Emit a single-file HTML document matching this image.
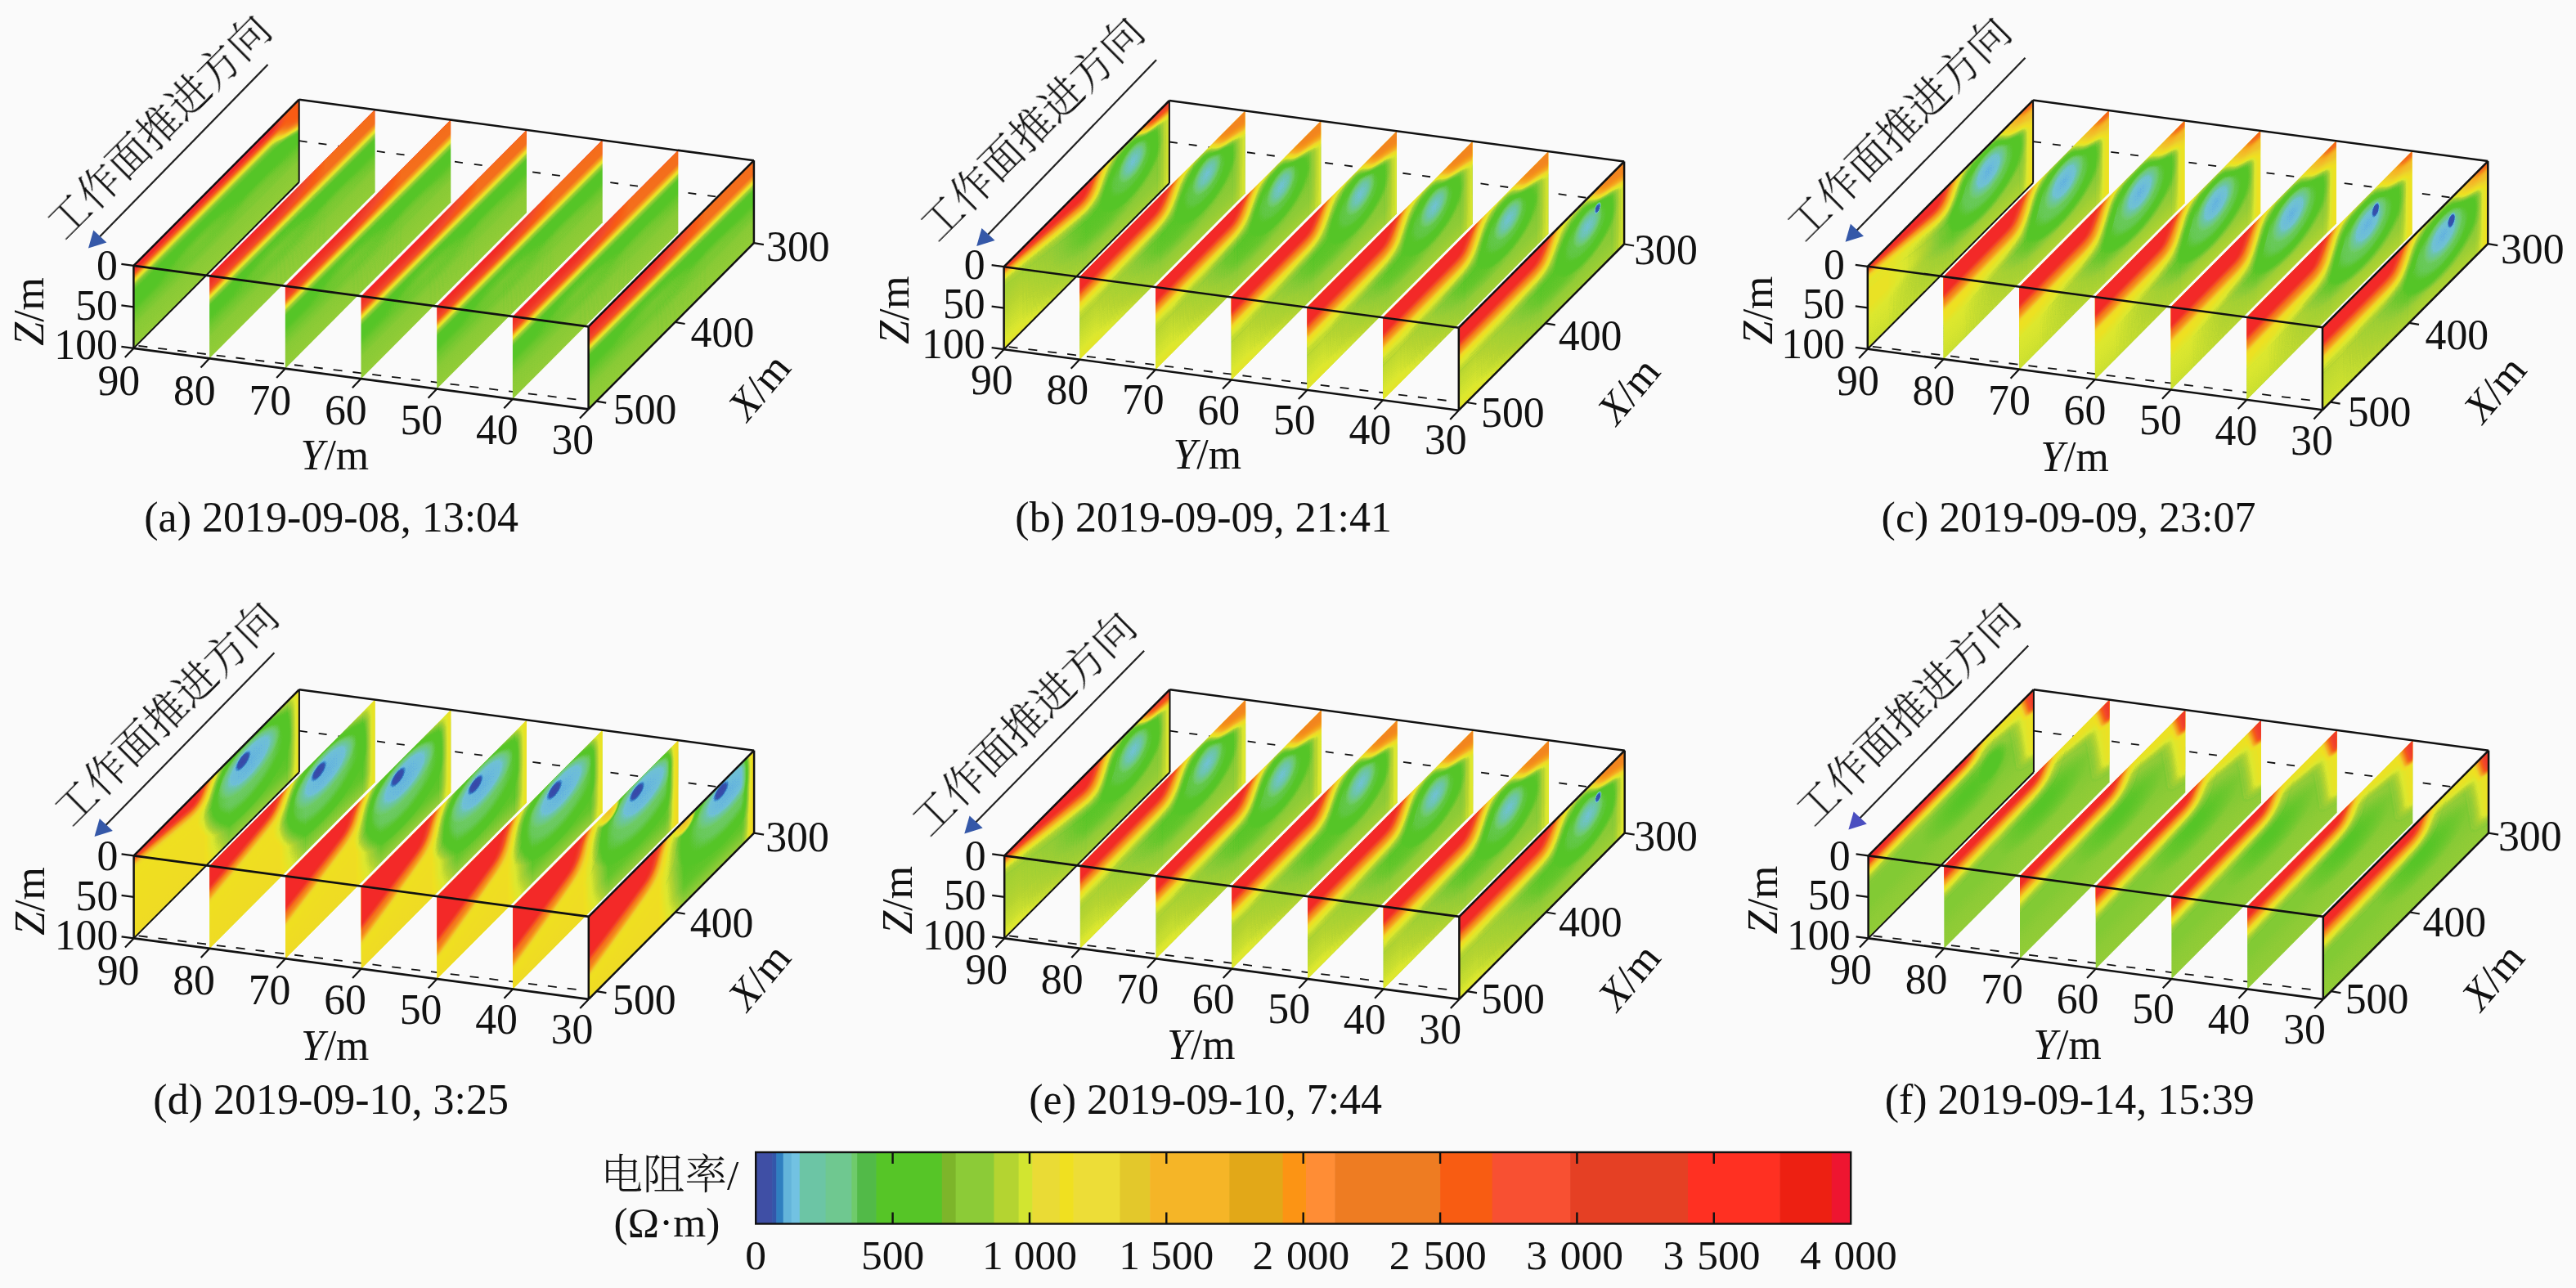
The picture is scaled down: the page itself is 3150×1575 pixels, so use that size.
<!DOCTYPE html>
<html lang="zh"><head><meta charset="utf-8"><title>电阻率三维切片图</title>
<style>
html,body{margin:0;padding:0;background:#fafafa;}
body{width:3150px;height:1575px;overflow:hidden;}
svg{display:block;font-family:"Liberation Serif","Noto Serif CJK SC",serif;fill:#111;}
</style></head><body>
<svg width="3150" height="1575" viewBox="0 0 3150 1575">
<defs>
<filter id="cm" color-interpolation-filters="sRGB" filterUnits="userSpaceOnUse" x="0" y="0" width="3150" height="1575"><feComponentTransfer><feFuncR type="table" tableValues="0.220 0.210 0.200 0.206 0.280 0.391 0.443 0.433 0.424 0.426 0.428 0.430 0.433 0.435 0.421 0.404 0.386 0.369 0.351 0.337 0.337 0.337 0.337 0.337 0.337 0.344 0.377 0.410 0.443 0.476 0.509 0.542 0.575 0.608 0.641 0.673 0.706 0.745 0.784 0.824 0.863 0.876 0.889 0.902 0.915 0.928 0.941 0.940 0.938 0.937 0.935 0.934 0.932 0.931 0.929 0.933 0.937 0.941 0.945 0.949 0.953 0.957 0.961 0.961 0.961 0.961 0.961 0.961 0.961 0.961 0.961 0.961 0.961 0.961 0.961 0.961 0.961 0.960 0.959 0.958 0.957 0.956 0.955 0.954 0.953 0.952 0.951 0.950 0.949 0.950 0.952 0.953 0.955 0.956 0.958 0.959 0.961 0.962 0.964 0.965 0.967 0.968 0.970 0.971 0.973 0.971 0.970 0.968 0.967 0.965 0.964 0.962 0.961 0.959 0.958 0.956 0.955 0.953 0.952 0.950 0.949 0.949 0.948 0.948 0.947 0.947 0.946 0.946 0.945 0.945 0.944 0.944 0.943 0.943 0.942 0.942 0.941 0.942 0.942 0.943 0.943 0.944 0.945 0.945 0.946 0.946 0.947 0.947 0.948 0.948 0.949 0.952 0.955 0.958 0.962 0.965 0.968 0.971 0.974 0.977 0.980"/><feFuncG type="table" tableValues="0.282 0.314 0.345 0.471 0.590 0.700 0.763 0.768 0.773 0.777 0.782 0.786 0.791 0.795 0.793 0.789 0.784 0.780 0.776 0.773 0.773 0.773 0.773 0.773 0.773 0.773 0.777 0.781 0.784 0.788 0.792 0.795 0.802 0.809 0.817 0.824 0.831 0.851 0.871 0.890 0.910 0.905 0.899 0.894 0.889 0.884 0.878 0.873 0.867 0.861 0.855 0.849 0.843 0.837 0.831 0.816 0.801 0.786 0.771 0.755 0.740 0.725 0.710 0.702 0.695 0.687 0.680 0.672 0.664 0.657 0.649 0.642 0.634 0.627 0.619 0.611 0.604 0.594 0.584 0.575 0.565 0.555 0.545 0.535 0.525 0.516 0.506 0.496 0.486 0.478 0.471 0.463 0.455 0.447 0.439 0.431 0.424 0.416 0.408 0.400 0.392 0.384 0.376 0.369 0.361 0.356 0.352 0.348 0.343 0.339 0.334 0.330 0.325 0.321 0.317 0.312 0.308 0.303 0.299 0.295 0.290 0.286 0.282 0.278 0.275 0.271 0.267 0.263 0.259 0.255 0.251 0.247 0.243 0.239 0.235 0.231 0.227 0.224 0.220 0.216 0.212 0.208 0.204 0.200 0.196 0.192 0.188 0.184 0.180 0.176 0.173 0.168 0.163 0.158 0.154 0.149 0.144 0.140 0.135 0.130 0.125"/><feFuncB type="table" tableValues="0.659 0.675 0.690 0.757 0.824 0.872 0.848 0.754 0.659 0.613 0.567 0.521 0.475 0.429 0.382 0.334 0.286 0.239 0.191 0.153 0.153 0.153 0.153 0.153 0.153 0.155 0.165 0.175 0.184 0.194 0.204 0.214 0.212 0.207 0.202 0.197 0.192 0.190 0.188 0.186 0.184 0.175 0.165 0.155 0.145 0.135 0.125 0.131 0.136 0.142 0.147 0.152 0.158 0.163 0.169 0.167 0.165 0.163 0.161 0.159 0.157 0.155 0.153 0.149 0.145 0.140 0.136 0.132 0.128 0.124 0.119 0.115 0.111 0.107 0.103 0.098 0.094 0.097 0.101 0.104 0.107 0.110 0.114 0.117 0.120 0.124 0.127 0.130 0.133 0.130 0.126 0.123 0.120 0.116 0.113 0.109 0.106 0.102 0.099 0.096 0.092 0.089 0.085 0.082 0.078 0.084 0.090 0.096 0.102 0.108 0.114 0.120 0.125 0.131 0.137 0.143 0.149 0.155 0.161 0.167 0.173 0.172 0.171 0.170 0.169 0.168 0.167 0.166 0.165 0.164 0.163 0.162 0.161 0.160 0.159 0.158 0.157 0.155 0.154 0.152 0.150 0.148 0.147 0.145 0.143 0.142 0.140 0.138 0.137 0.135 0.133 0.148 0.163 0.178 0.193 0.208 0.223 0.238 0.253 0.267 0.282"/></feComponentTransfer></filter>
<filter id="bl" filterUnits="userSpaceOnUse" x="-60" y="-60" width="240" height="240"><feGaussianBlur stdDeviation="2 2.5"/></filter><filter id="bl4" filterUnits="userSpaceOnUse" x="-60" y="-60" width="240" height="240"><feGaussianBlur stdDeviation="3 4"/></filter><filter id="bl6" filterUnits="userSpaceOnUse" x="-60" y="-60" width="240" height="240"><feGaussianBlur stdDeviation="4 6"/></filter>
<linearGradient id="hL" x1="0" x2="1" y1="0" y2="0"><stop offset="0" stop-color="#fff"/><stop offset="1" stop-color="#000"/></linearGradient><linearGradient id="hR" x1="0" x2="1" y1="0" y2="0"><stop offset="0" stop-color="#000"/><stop offset="1" stop-color="#fff"/></linearGradient><mask id="mL" maskContentUnits="objectBoundingBox"><rect width="1" height="1" fill="url(#hL)"/></mask><mask id="mR" maskContentUnits="objectBoundingBox"><rect width="1" height="1" fill="url(#hR)"/></mask>
<clipPath id="cs"><rect x="0" y="0" width="100" height="100"/></clipPath>
<linearGradient id="v1" x1="0" y1="0" x2="0" y2="1"><stop offset="0.045" stop-color="#ffffff"/><stop offset="0.100" stop-color="#ececec"/><stop offset="0.145" stop-color="#a6a6a6"/><stop offset="0.191" stop-color="#606060"/><stop offset="0.227" stop-color="#404040"/><stop offset="0.273" stop-color="#2f2f2f"/><stop offset="0.345" stop-color="#252525"/><stop offset="0.455" stop-color="#252525"/><stop offset="0.591" stop-color="#2c2c2c"/><stop offset="0.727" stop-color="#313131"/><stop offset="0.955" stop-color="#333333"/></linearGradient>
<radialGradient id="r2"><stop offset="0" stop-color="#313131" stop-opacity="0.70"/><stop offset="0.50" stop-color="#313131" stop-opacity="0.42"/><stop offset="1" stop-color="#313131" stop-opacity="0"/></radialGradient>
<radialGradient id="r3"><stop offset="0" stop-color="#303030" stop-opacity="0.60"/><stop offset="0.50" stop-color="#303030" stop-opacity="0.36"/><stop offset="1" stop-color="#303030" stop-opacity="0"/></radialGradient>
<linearGradient id="v4" x1="0" y1="0" x2="0" y2="1"><stop offset="0.045" stop-color="#f9f9f9"/><stop offset="0.136" stop-color="#dfdfdf"/><stop offset="0.191" stop-color="#bfbfbf"/><stop offset="0.236" stop-color="#808080"/><stop offset="0.277" stop-color="#494949"/><stop offset="0.318" stop-color="#363636"/><stop offset="0.373" stop-color="#282828"/><stop offset="0.455" stop-color="#252525"/><stop offset="0.591" stop-color="#2c2c2c"/><stop offset="0.727" stop-color="#313131"/><stop offset="0.955" stop-color="#333333"/></linearGradient>
<linearGradient id="v5" x1="0" y1="0" x2="0" y2="1"><stop offset="0.045" stop-color="#999999"/><stop offset="0.191" stop-color="#969696"/><stop offset="0.236" stop-color="#737373"/><stop offset="0.277" stop-color="#494949"/><stop offset="0.318" stop-color="#363636"/><stop offset="0.373" stop-color="#282828"/><stop offset="0.455" stop-color="#252525"/><stop offset="0.591" stop-color="#2c2c2c"/><stop offset="0.727" stop-color="#313131"/><stop offset="0.955" stop-color="#333333"/></linearGradient>
<linearGradient id="v6" x1="0" y1="0" x2="0" y2="1"><stop offset="0.045" stop-color="#999999"/><stop offset="0.191" stop-color="#969696"/><stop offset="0.236" stop-color="#737373"/><stop offset="0.277" stop-color="#494949"/><stop offset="0.318" stop-color="#363636"/><stop offset="0.373" stop-color="#282828"/><stop offset="0.455" stop-color="#252525"/><stop offset="0.591" stop-color="#2c2c2c"/><stop offset="0.727" stop-color="#313131"/><stop offset="0.955" stop-color="#333333"/></linearGradient>
<radialGradient id="r7"><stop offset="0" stop-color="#313131" stop-opacity="0.70"/><stop offset="0.50" stop-color="#313131" stop-opacity="0.42"/><stop offset="1" stop-color="#313131" stop-opacity="0"/></radialGradient>
<radialGradient id="r8"><stop offset="0" stop-color="#303030" stop-opacity="0.60"/><stop offset="0.50" stop-color="#303030" stop-opacity="0.36"/><stop offset="1" stop-color="#303030" stop-opacity="0"/></radialGradient>
<linearGradient id="v9" x1="0" y1="0" x2="0" y2="1"><stop offset="0.045" stop-color="#f9f9f9"/><stop offset="0.136" stop-color="#dfdfdf"/><stop offset="0.191" stop-color="#bfbfbf"/><stop offset="0.236" stop-color="#808080"/><stop offset="0.277" stop-color="#494949"/><stop offset="0.318" stop-color="#363636"/><stop offset="0.373" stop-color="#282828"/><stop offset="0.455" stop-color="#252525"/><stop offset="0.591" stop-color="#2c2c2c"/><stop offset="0.727" stop-color="#313131"/><stop offset="0.955" stop-color="#333333"/></linearGradient>
<linearGradient id="v10" x1="0" y1="0" x2="0" y2="1"><stop offset="0.045" stop-color="#999999"/><stop offset="0.191" stop-color="#969696"/><stop offset="0.236" stop-color="#737373"/><stop offset="0.277" stop-color="#494949"/><stop offset="0.318" stop-color="#363636"/><stop offset="0.373" stop-color="#282828"/><stop offset="0.455" stop-color="#252525"/><stop offset="0.591" stop-color="#2c2c2c"/><stop offset="0.727" stop-color="#313131"/><stop offset="0.955" stop-color="#333333"/></linearGradient>
<linearGradient id="v11" x1="0" y1="0" x2="0" y2="1"><stop offset="0.045" stop-color="#999999"/><stop offset="0.191" stop-color="#969696"/><stop offset="0.236" stop-color="#737373"/><stop offset="0.277" stop-color="#494949"/><stop offset="0.318" stop-color="#363636"/><stop offset="0.373" stop-color="#282828"/><stop offset="0.455" stop-color="#252525"/><stop offset="0.591" stop-color="#2c2c2c"/><stop offset="0.727" stop-color="#313131"/><stop offset="0.955" stop-color="#333333"/></linearGradient>
<radialGradient id="r12"><stop offset="0" stop-color="#313131" stop-opacity="0.70"/><stop offset="0.50" stop-color="#313131" stop-opacity="0.42"/><stop offset="1" stop-color="#313131" stop-opacity="0"/></radialGradient>
<radialGradient id="r13"><stop offset="0" stop-color="#303030" stop-opacity="0.60"/><stop offset="0.50" stop-color="#303030" stop-opacity="0.36"/><stop offset="1" stop-color="#303030" stop-opacity="0"/></radialGradient>
<linearGradient id="v14" x1="0" y1="0" x2="0" y2="1"><stop offset="0.045" stop-color="#f9f9f9"/><stop offset="0.136" stop-color="#dfdfdf"/><stop offset="0.191" stop-color="#bfbfbf"/><stop offset="0.236" stop-color="#808080"/><stop offset="0.277" stop-color="#494949"/><stop offset="0.318" stop-color="#363636"/><stop offset="0.373" stop-color="#282828"/><stop offset="0.455" stop-color="#252525"/><stop offset="0.591" stop-color="#2c2c2c"/><stop offset="0.727" stop-color="#313131"/><stop offset="0.955" stop-color="#333333"/></linearGradient>
<linearGradient id="v15" x1="0" y1="0" x2="0" y2="1"><stop offset="0.045" stop-color="#999999"/><stop offset="0.191" stop-color="#969696"/><stop offset="0.236" stop-color="#737373"/><stop offset="0.277" stop-color="#494949"/><stop offset="0.318" stop-color="#363636"/><stop offset="0.373" stop-color="#282828"/><stop offset="0.455" stop-color="#252525"/><stop offset="0.591" stop-color="#2c2c2c"/><stop offset="0.727" stop-color="#313131"/><stop offset="0.955" stop-color="#333333"/></linearGradient>
<linearGradient id="v16" x1="0" y1="0" x2="0" y2="1"><stop offset="0.045" stop-color="#999999"/><stop offset="0.191" stop-color="#969696"/><stop offset="0.236" stop-color="#737373"/><stop offset="0.277" stop-color="#494949"/><stop offset="0.318" stop-color="#363636"/><stop offset="0.373" stop-color="#282828"/><stop offset="0.455" stop-color="#252525"/><stop offset="0.591" stop-color="#2c2c2c"/><stop offset="0.727" stop-color="#313131"/><stop offset="0.955" stop-color="#333333"/></linearGradient>
<radialGradient id="r17"><stop offset="0" stop-color="#313131" stop-opacity="0.70"/><stop offset="0.50" stop-color="#313131" stop-opacity="0.42"/><stop offset="1" stop-color="#313131" stop-opacity="0"/></radialGradient>
<radialGradient id="r18"><stop offset="0" stop-color="#303030" stop-opacity="0.60"/><stop offset="0.50" stop-color="#303030" stop-opacity="0.36"/><stop offset="1" stop-color="#303030" stop-opacity="0"/></radialGradient>
<linearGradient id="v19" x1="0" y1="0" x2="0" y2="1"><stop offset="0.045" stop-color="#f9f9f9"/><stop offset="0.136" stop-color="#dfdfdf"/><stop offset="0.191" stop-color="#bfbfbf"/><stop offset="0.236" stop-color="#808080"/><stop offset="0.277" stop-color="#494949"/><stop offset="0.318" stop-color="#363636"/><stop offset="0.373" stop-color="#282828"/><stop offset="0.455" stop-color="#252525"/><stop offset="0.591" stop-color="#2c2c2c"/><stop offset="0.727" stop-color="#313131"/><stop offset="0.955" stop-color="#333333"/></linearGradient>
<linearGradient id="v20" x1="0" y1="0" x2="0" y2="1"><stop offset="0.045" stop-color="#999999"/><stop offset="0.191" stop-color="#969696"/><stop offset="0.236" stop-color="#737373"/><stop offset="0.277" stop-color="#494949"/><stop offset="0.318" stop-color="#363636"/><stop offset="0.373" stop-color="#282828"/><stop offset="0.455" stop-color="#252525"/><stop offset="0.591" stop-color="#2c2c2c"/><stop offset="0.727" stop-color="#313131"/><stop offset="0.955" stop-color="#333333"/></linearGradient>
<linearGradient id="v21" x1="0" y1="0" x2="0" y2="1"><stop offset="0.045" stop-color="#999999"/><stop offset="0.191" stop-color="#969696"/><stop offset="0.236" stop-color="#737373"/><stop offset="0.277" stop-color="#494949"/><stop offset="0.318" stop-color="#363636"/><stop offset="0.373" stop-color="#282828"/><stop offset="0.455" stop-color="#252525"/><stop offset="0.591" stop-color="#2c2c2c"/><stop offset="0.727" stop-color="#313131"/><stop offset="0.955" stop-color="#333333"/></linearGradient>
<radialGradient id="r22"><stop offset="0" stop-color="#313131" stop-opacity="0.70"/><stop offset="0.50" stop-color="#313131" stop-opacity="0.42"/><stop offset="1" stop-color="#313131" stop-opacity="0"/></radialGradient>
<radialGradient id="r23"><stop offset="0" stop-color="#303030" stop-opacity="0.60"/><stop offset="0.50" stop-color="#303030" stop-opacity="0.36"/><stop offset="1" stop-color="#303030" stop-opacity="0"/></radialGradient>
<linearGradient id="v24" x1="0" y1="0" x2="0" y2="1"><stop offset="0.045" stop-color="#f9f9f9"/><stop offset="0.136" stop-color="#dfdfdf"/><stop offset="0.191" stop-color="#bfbfbf"/><stop offset="0.236" stop-color="#808080"/><stop offset="0.277" stop-color="#494949"/><stop offset="0.318" stop-color="#363636"/><stop offset="0.373" stop-color="#282828"/><stop offset="0.455" stop-color="#252525"/><stop offset="0.591" stop-color="#2c2c2c"/><stop offset="0.727" stop-color="#313131"/><stop offset="0.955" stop-color="#333333"/></linearGradient>
<linearGradient id="v25" x1="0" y1="0" x2="0" y2="1"><stop offset="0.045" stop-color="#999999"/><stop offset="0.191" stop-color="#969696"/><stop offset="0.236" stop-color="#737373"/><stop offset="0.277" stop-color="#494949"/><stop offset="0.318" stop-color="#363636"/><stop offset="0.373" stop-color="#282828"/><stop offset="0.455" stop-color="#252525"/><stop offset="0.591" stop-color="#2c2c2c"/><stop offset="0.727" stop-color="#313131"/><stop offset="0.955" stop-color="#333333"/></linearGradient>
<linearGradient id="v26" x1="0" y1="0" x2="0" y2="1"><stop offset="0.045" stop-color="#999999"/><stop offset="0.191" stop-color="#969696"/><stop offset="0.236" stop-color="#737373"/><stop offset="0.277" stop-color="#494949"/><stop offset="0.318" stop-color="#363636"/><stop offset="0.373" stop-color="#282828"/><stop offset="0.455" stop-color="#252525"/><stop offset="0.591" stop-color="#2c2c2c"/><stop offset="0.727" stop-color="#313131"/><stop offset="0.955" stop-color="#333333"/></linearGradient>
<radialGradient id="r27"><stop offset="0" stop-color="#313131" stop-opacity="0.70"/><stop offset="0.50" stop-color="#313131" stop-opacity="0.42"/><stop offset="1" stop-color="#313131" stop-opacity="0"/></radialGradient>
<radialGradient id="r28"><stop offset="0" stop-color="#303030" stop-opacity="0.60"/><stop offset="0.50" stop-color="#303030" stop-opacity="0.36"/><stop offset="1" stop-color="#303030" stop-opacity="0"/></radialGradient>
<linearGradient id="v29" x1="0" y1="0" x2="0" y2="1"><stop offset="0.045" stop-color="#f9f9f9"/><stop offset="0.136" stop-color="#dfdfdf"/><stop offset="0.191" stop-color="#bfbfbf"/><stop offset="0.236" stop-color="#808080"/><stop offset="0.277" stop-color="#494949"/><stop offset="0.318" stop-color="#363636"/><stop offset="0.373" stop-color="#282828"/><stop offset="0.455" stop-color="#252525"/><stop offset="0.591" stop-color="#2c2c2c"/><stop offset="0.727" stop-color="#313131"/><stop offset="0.955" stop-color="#333333"/></linearGradient>
<linearGradient id="v30" x1="0" y1="0" x2="0" y2="1"><stop offset="0.045" stop-color="#999999"/><stop offset="0.191" stop-color="#969696"/><stop offset="0.236" stop-color="#737373"/><stop offset="0.277" stop-color="#494949"/><stop offset="0.318" stop-color="#363636"/><stop offset="0.373" stop-color="#282828"/><stop offset="0.455" stop-color="#252525"/><stop offset="0.591" stop-color="#2c2c2c"/><stop offset="0.727" stop-color="#313131"/><stop offset="0.955" stop-color="#333333"/></linearGradient>
<linearGradient id="v31" x1="0" y1="0" x2="0" y2="1"><stop offset="0.045" stop-color="#999999"/><stop offset="0.191" stop-color="#969696"/><stop offset="0.236" stop-color="#737373"/><stop offset="0.277" stop-color="#494949"/><stop offset="0.318" stop-color="#363636"/><stop offset="0.373" stop-color="#282828"/><stop offset="0.455" stop-color="#252525"/><stop offset="0.591" stop-color="#2c2c2c"/><stop offset="0.727" stop-color="#313131"/><stop offset="0.955" stop-color="#333333"/></linearGradient>
<radialGradient id="r32"><stop offset="0" stop-color="#313131" stop-opacity="0.70"/><stop offset="0.50" stop-color="#313131" stop-opacity="0.42"/><stop offset="1" stop-color="#313131" stop-opacity="0"/></radialGradient>
<radialGradient id="r33"><stop offset="0" stop-color="#303030" stop-opacity="0.60"/><stop offset="0.50" stop-color="#303030" stop-opacity="0.36"/><stop offset="1" stop-color="#303030" stop-opacity="0"/></radialGradient>
<linearGradient id="v34" x1="0" y1="0" x2="0" y2="1"><stop offset="0.045" stop-color="#464646"/><stop offset="0.091" stop-color="#383838"/><stop offset="0.182" stop-color="#323232"/><stop offset="0.409" stop-color="#2f2f2f"/><stop offset="0.591" stop-color="#303030"/><stop offset="0.773" stop-color="#323232"/><stop offset="0.955" stop-color="#363636"/></linearGradient>
<radialGradient id="r35"><stop offset="0" stop-color="#242424" stop-opacity="0.70"/><stop offset="0.60" stop-color="#242424" stop-opacity="0.50"/><stop offset="1" stop-color="#242424" stop-opacity="0"/></radialGradient>
<linearGradient id="v36" x1="0" y1="0" x2="0" y2="1"><stop offset="0.045" stop-color="#373737"/><stop offset="0.318" stop-color="#373737"/><stop offset="0.591" stop-color="#3b3b3b"/><stop offset="0.818" stop-color="#3f3f3f"/><stop offset="0.955" stop-color="#444444"/></linearGradient>
<linearGradient id="v37" x1="0" y1="0" x2="0" y2="1"><stop offset="0.045" stop-color="#373737"/><stop offset="0.318" stop-color="#373737"/><stop offset="0.591" stop-color="#3b3b3b"/><stop offset="0.818" stop-color="#3f3f3f"/><stop offset="0.955" stop-color="#444444"/></linearGradient>
<radialGradient id="r38"><stop offset="0" stop-color="#151515" stop-opacity="0.95"/><stop offset="0.55" stop-color="#151515" stop-opacity="0.70"/><stop offset="1" stop-color="#151515" stop-opacity="0"/></radialGradient>
<radialGradient id="r39"><stop offset="0" stop-color="#090909" stop-opacity="0.95"/><stop offset="0.50" stop-color="#090909" stop-opacity="0.75"/><stop offset="1" stop-color="#090909" stop-opacity="0"/></radialGradient>
<linearGradient id="v40" x1="0" y1="0" x2="0" y2="1"><stop offset="0.045" stop-color="#464646"/><stop offset="0.091" stop-color="#383838"/><stop offset="0.182" stop-color="#323232"/><stop offset="0.409" stop-color="#2f2f2f"/><stop offset="0.591" stop-color="#303030"/><stop offset="0.773" stop-color="#323232"/><stop offset="0.955" stop-color="#363636"/></linearGradient>
<radialGradient id="r41"><stop offset="0" stop-color="#242424" stop-opacity="0.70"/><stop offset="0.60" stop-color="#242424" stop-opacity="0.50"/><stop offset="1" stop-color="#242424" stop-opacity="0"/></radialGradient>
<linearGradient id="v42" x1="0" y1="0" x2="0" y2="1"><stop offset="0.045" stop-color="#373737"/><stop offset="0.318" stop-color="#373737"/><stop offset="0.591" stop-color="#3b3b3b"/><stop offset="0.818" stop-color="#3f3f3f"/><stop offset="0.955" stop-color="#444444"/></linearGradient>
<linearGradient id="v43" x1="0" y1="0" x2="0" y2="1"><stop offset="0.045" stop-color="#373737"/><stop offset="0.318" stop-color="#373737"/><stop offset="0.591" stop-color="#3b3b3b"/><stop offset="0.818" stop-color="#3f3f3f"/><stop offset="0.955" stop-color="#444444"/></linearGradient>
<radialGradient id="r44"><stop offset="0" stop-color="#151515" stop-opacity="0.95"/><stop offset="0.55" stop-color="#151515" stop-opacity="0.70"/><stop offset="1" stop-color="#151515" stop-opacity="0"/></radialGradient>
<radialGradient id="r45"><stop offset="0" stop-color="#090909" stop-opacity="0.95"/><stop offset="0.50" stop-color="#090909" stop-opacity="0.75"/><stop offset="1" stop-color="#090909" stop-opacity="0"/></radialGradient>
<linearGradient id="v46" x1="0" y1="0" x2="0" y2="1"><stop offset="0.045" stop-color="#464646"/><stop offset="0.091" stop-color="#383838"/><stop offset="0.182" stop-color="#323232"/><stop offset="0.409" stop-color="#2f2f2f"/><stop offset="0.591" stop-color="#303030"/><stop offset="0.773" stop-color="#323232"/><stop offset="0.955" stop-color="#363636"/></linearGradient>
<radialGradient id="r47"><stop offset="0" stop-color="#242424" stop-opacity="0.70"/><stop offset="0.60" stop-color="#242424" stop-opacity="0.50"/><stop offset="1" stop-color="#242424" stop-opacity="0"/></radialGradient>
<linearGradient id="v48" x1="0" y1="0" x2="0" y2="1"><stop offset="0.045" stop-color="#373737"/><stop offset="0.318" stop-color="#373737"/><stop offset="0.591" stop-color="#3b3b3b"/><stop offset="0.818" stop-color="#3f3f3f"/><stop offset="0.955" stop-color="#444444"/></linearGradient>
<linearGradient id="v49" x1="0" y1="0" x2="0" y2="1"><stop offset="0.045" stop-color="#373737"/><stop offset="0.318" stop-color="#373737"/><stop offset="0.591" stop-color="#3b3b3b"/><stop offset="0.818" stop-color="#3f3f3f"/><stop offset="0.955" stop-color="#444444"/></linearGradient>
<radialGradient id="r50"><stop offset="0" stop-color="#151515" stop-opacity="0.95"/><stop offset="0.55" stop-color="#151515" stop-opacity="0.70"/><stop offset="1" stop-color="#151515" stop-opacity="0"/></radialGradient>
<radialGradient id="r51"><stop offset="0" stop-color="#090909" stop-opacity="0.95"/><stop offset="0.50" stop-color="#090909" stop-opacity="0.75"/><stop offset="1" stop-color="#090909" stop-opacity="0"/></radialGradient>
<linearGradient id="v52" x1="0" y1="0" x2="0" y2="1"><stop offset="0.045" stop-color="#464646"/><stop offset="0.091" stop-color="#383838"/><stop offset="0.182" stop-color="#323232"/><stop offset="0.409" stop-color="#2f2f2f"/><stop offset="0.591" stop-color="#303030"/><stop offset="0.773" stop-color="#323232"/><stop offset="0.955" stop-color="#363636"/></linearGradient>
<radialGradient id="r53"><stop offset="0" stop-color="#242424" stop-opacity="0.70"/><stop offset="0.60" stop-color="#242424" stop-opacity="0.50"/><stop offset="1" stop-color="#242424" stop-opacity="0"/></radialGradient>
<linearGradient id="v54" x1="0" y1="0" x2="0" y2="1"><stop offset="0.045" stop-color="#373737"/><stop offset="0.318" stop-color="#373737"/><stop offset="0.591" stop-color="#3b3b3b"/><stop offset="0.818" stop-color="#3f3f3f"/><stop offset="0.955" stop-color="#444444"/></linearGradient>
<linearGradient id="v55" x1="0" y1="0" x2="0" y2="1"><stop offset="0.045" stop-color="#373737"/><stop offset="0.318" stop-color="#373737"/><stop offset="0.591" stop-color="#3b3b3b"/><stop offset="0.818" stop-color="#3f3f3f"/><stop offset="0.955" stop-color="#444444"/></linearGradient>
<radialGradient id="r56"><stop offset="0" stop-color="#151515" stop-opacity="0.95"/><stop offset="0.55" stop-color="#151515" stop-opacity="0.70"/><stop offset="1" stop-color="#151515" stop-opacity="0"/></radialGradient>
<radialGradient id="r57"><stop offset="0" stop-color="#090909" stop-opacity="0.95"/><stop offset="0.50" stop-color="#090909" stop-opacity="0.75"/><stop offset="1" stop-color="#090909" stop-opacity="0"/></radialGradient>
<linearGradient id="v58" x1="0" y1="0" x2="0" y2="1"><stop offset="0.045" stop-color="#464646"/><stop offset="0.091" stop-color="#383838"/><stop offset="0.182" stop-color="#323232"/><stop offset="0.409" stop-color="#2f2f2f"/><stop offset="0.591" stop-color="#303030"/><stop offset="0.773" stop-color="#323232"/><stop offset="0.955" stop-color="#363636"/></linearGradient>
<radialGradient id="r59"><stop offset="0" stop-color="#242424" stop-opacity="0.70"/><stop offset="0.60" stop-color="#242424" stop-opacity="0.50"/><stop offset="1" stop-color="#242424" stop-opacity="0"/></radialGradient>
<linearGradient id="v60" x1="0" y1="0" x2="0" y2="1"><stop offset="0.045" stop-color="#373737"/><stop offset="0.318" stop-color="#373737"/><stop offset="0.591" stop-color="#3b3b3b"/><stop offset="0.818" stop-color="#3f3f3f"/><stop offset="0.955" stop-color="#444444"/></linearGradient>
<linearGradient id="v61" x1="0" y1="0" x2="0" y2="1"><stop offset="0.045" stop-color="#373737"/><stop offset="0.318" stop-color="#373737"/><stop offset="0.591" stop-color="#3b3b3b"/><stop offset="0.818" stop-color="#3f3f3f"/><stop offset="0.955" stop-color="#444444"/></linearGradient>
<radialGradient id="r62"><stop offset="0" stop-color="#151515" stop-opacity="0.95"/><stop offset="0.55" stop-color="#151515" stop-opacity="0.70"/><stop offset="1" stop-color="#151515" stop-opacity="0"/></radialGradient>
<radialGradient id="r63"><stop offset="0" stop-color="#090909" stop-opacity="0.95"/><stop offset="0.50" stop-color="#090909" stop-opacity="0.75"/><stop offset="1" stop-color="#090909" stop-opacity="0"/></radialGradient>
<linearGradient id="v64" x1="0" y1="0" x2="0" y2="1"><stop offset="0.045" stop-color="#464646"/><stop offset="0.091" stop-color="#383838"/><stop offset="0.182" stop-color="#323232"/><stop offset="0.409" stop-color="#2f2f2f"/><stop offset="0.591" stop-color="#303030"/><stop offset="0.773" stop-color="#323232"/><stop offset="0.955" stop-color="#363636"/></linearGradient>
<radialGradient id="r65"><stop offset="0" stop-color="#242424" stop-opacity="0.70"/><stop offset="0.60" stop-color="#242424" stop-opacity="0.50"/><stop offset="1" stop-color="#242424" stop-opacity="0"/></radialGradient>
<linearGradient id="v66" x1="0" y1="0" x2="0" y2="1"><stop offset="0.045" stop-color="#373737"/><stop offset="0.318" stop-color="#373737"/><stop offset="0.591" stop-color="#3b3b3b"/><stop offset="0.818" stop-color="#3f3f3f"/><stop offset="0.955" stop-color="#444444"/></linearGradient>
<linearGradient id="v67" x1="0" y1="0" x2="0" y2="1"><stop offset="0.045" stop-color="#373737"/><stop offset="0.318" stop-color="#373737"/><stop offset="0.591" stop-color="#3b3b3b"/><stop offset="0.818" stop-color="#3f3f3f"/><stop offset="0.955" stop-color="#444444"/></linearGradient>
<radialGradient id="r68"><stop offset="0" stop-color="#151515" stop-opacity="0.95"/><stop offset="0.55" stop-color="#151515" stop-opacity="0.70"/><stop offset="1" stop-color="#151515" stop-opacity="0"/></radialGradient>
<radialGradient id="r69"><stop offset="0" stop-color="#090909" stop-opacity="0.95"/><stop offset="0.50" stop-color="#090909" stop-opacity="0.75"/><stop offset="1" stop-color="#090909" stop-opacity="0"/></radialGradient>
<linearGradient id="v70" x1="0" y1="0" x2="0" y2="1"><stop offset="0.045" stop-color="#464646"/><stop offset="0.091" stop-color="#383838"/><stop offset="0.182" stop-color="#323232"/><stop offset="0.409" stop-color="#2f2f2f"/><stop offset="0.591" stop-color="#303030"/><stop offset="0.773" stop-color="#323232"/><stop offset="0.955" stop-color="#363636"/></linearGradient>
<radialGradient id="r71"><stop offset="0" stop-color="#242424" stop-opacity="0.70"/><stop offset="0.60" stop-color="#242424" stop-opacity="0.50"/><stop offset="1" stop-color="#242424" stop-opacity="0"/></radialGradient>
<linearGradient id="v72" x1="0" y1="0" x2="0" y2="1"><stop offset="0.045" stop-color="#373737"/><stop offset="0.318" stop-color="#373737"/><stop offset="0.591" stop-color="#3b3b3b"/><stop offset="0.818" stop-color="#3f3f3f"/><stop offset="0.955" stop-color="#444444"/></linearGradient>
<linearGradient id="v73" x1="0" y1="0" x2="0" y2="1"><stop offset="0.045" stop-color="#373737"/><stop offset="0.318" stop-color="#373737"/><stop offset="0.591" stop-color="#3b3b3b"/><stop offset="0.818" stop-color="#3f3f3f"/><stop offset="0.955" stop-color="#444444"/></linearGradient>
<radialGradient id="r74"><stop offset="0" stop-color="#151515" stop-opacity="0.95"/><stop offset="0.55" stop-color="#151515" stop-opacity="0.70"/><stop offset="1" stop-color="#151515" stop-opacity="0"/></radialGradient>
<radialGradient id="r75"><stop offset="0" stop-color="#090909" stop-opacity="0.95"/><stop offset="0.50" stop-color="#090909" stop-opacity="0.75"/><stop offset="1" stop-color="#090909" stop-opacity="0"/></radialGradient>
<radialGradient id="r76"><stop offset="0" stop-color="#010101" stop-opacity="1.00"/><stop offset="0.60" stop-color="#010101" stop-opacity="0.90"/><stop offset="1" stop-color="#010101" stop-opacity="0"/></radialGradient>
<linearGradient id="v77" x1="0" y1="0" x2="0" y2="1"><stop offset="0.045" stop-color="#464646"/><stop offset="0.091" stop-color="#393939"/><stop offset="0.182" stop-color="#323232"/><stop offset="0.409" stop-color="#2f2f2f"/><stop offset="0.591" stop-color="#303030"/><stop offset="0.773" stop-color="#343434"/><stop offset="0.955" stop-color="#393939"/></linearGradient>
<radialGradient id="r78"><stop offset="0" stop-color="#242424" stop-opacity="0.70"/><stop offset="0.60" stop-color="#242424" stop-opacity="0.50"/><stop offset="1" stop-color="#242424" stop-opacity="0"/></radialGradient>
<linearGradient id="v79" x1="0" y1="0" x2="0" y2="1"><stop offset="0.045" stop-color="#3d3d3d"/><stop offset="0.318" stop-color="#464646"/><stop offset="0.500" stop-color="#464646"/><stop offset="0.636" stop-color="#404040"/><stop offset="0.955" stop-color="#3d3d3d"/></linearGradient>
<linearGradient id="v80" x1="0" y1="0" x2="0" y2="1"><stop offset="0.045" stop-color="#3d3d3d"/><stop offset="0.318" stop-color="#464646"/><stop offset="0.500" stop-color="#464646"/><stop offset="0.636" stop-color="#404040"/><stop offset="0.955" stop-color="#3d3d3d"/></linearGradient>
<radialGradient id="r81"><stop offset="0" stop-color="#131313" stop-opacity="0.95"/><stop offset="0.55" stop-color="#131313" stop-opacity="0.75"/><stop offset="1" stop-color="#131313" stop-opacity="0"/></radialGradient>
<radialGradient id="r82"><stop offset="0" stop-color="#080808" stop-opacity="1.00"/><stop offset="0.55" stop-color="#080808" stop-opacity="0.85"/><stop offset="1" stop-color="#080808" stop-opacity="0"/></radialGradient>
<linearGradient id="v83" x1="0" y1="0" x2="0" y2="1"><stop offset="0.045" stop-color="#464646"/><stop offset="0.091" stop-color="#393939"/><stop offset="0.182" stop-color="#323232"/><stop offset="0.409" stop-color="#2f2f2f"/><stop offset="0.591" stop-color="#303030"/><stop offset="0.773" stop-color="#343434"/><stop offset="0.955" stop-color="#393939"/></linearGradient>
<radialGradient id="r84"><stop offset="0" stop-color="#242424" stop-opacity="0.70"/><stop offset="0.60" stop-color="#242424" stop-opacity="0.50"/><stop offset="1" stop-color="#242424" stop-opacity="0"/></radialGradient>
<linearGradient id="v85" x1="0" y1="0" x2="0" y2="1"><stop offset="0.045" stop-color="#3d3d3d"/><stop offset="0.318" stop-color="#464646"/><stop offset="0.500" stop-color="#464646"/><stop offset="0.636" stop-color="#404040"/><stop offset="0.955" stop-color="#3d3d3d"/></linearGradient>
<linearGradient id="v86" x1="0" y1="0" x2="0" y2="1"><stop offset="0.045" stop-color="#3d3d3d"/><stop offset="0.318" stop-color="#464646"/><stop offset="0.500" stop-color="#464646"/><stop offset="0.636" stop-color="#404040"/><stop offset="0.955" stop-color="#3d3d3d"/></linearGradient>
<radialGradient id="r87"><stop offset="0" stop-color="#131313" stop-opacity="0.95"/><stop offset="0.55" stop-color="#131313" stop-opacity="0.75"/><stop offset="1" stop-color="#131313" stop-opacity="0"/></radialGradient>
<radialGradient id="r88"><stop offset="0" stop-color="#080808" stop-opacity="1.00"/><stop offset="0.55" stop-color="#080808" stop-opacity="0.85"/><stop offset="1" stop-color="#080808" stop-opacity="0"/></radialGradient>
<linearGradient id="v89" x1="0" y1="0" x2="0" y2="1"><stop offset="0.045" stop-color="#464646"/><stop offset="0.091" stop-color="#393939"/><stop offset="0.182" stop-color="#323232"/><stop offset="0.409" stop-color="#2f2f2f"/><stop offset="0.591" stop-color="#303030"/><stop offset="0.773" stop-color="#343434"/><stop offset="0.955" stop-color="#393939"/></linearGradient>
<radialGradient id="r90"><stop offset="0" stop-color="#242424" stop-opacity="0.70"/><stop offset="0.60" stop-color="#242424" stop-opacity="0.50"/><stop offset="1" stop-color="#242424" stop-opacity="0"/></radialGradient>
<linearGradient id="v91" x1="0" y1="0" x2="0" y2="1"><stop offset="0.045" stop-color="#3d3d3d"/><stop offset="0.318" stop-color="#464646"/><stop offset="0.500" stop-color="#464646"/><stop offset="0.636" stop-color="#404040"/><stop offset="0.955" stop-color="#3d3d3d"/></linearGradient>
<linearGradient id="v92" x1="0" y1="0" x2="0" y2="1"><stop offset="0.045" stop-color="#3d3d3d"/><stop offset="0.318" stop-color="#464646"/><stop offset="0.500" stop-color="#464646"/><stop offset="0.636" stop-color="#404040"/><stop offset="0.955" stop-color="#3d3d3d"/></linearGradient>
<radialGradient id="r93"><stop offset="0" stop-color="#131313" stop-opacity="0.95"/><stop offset="0.55" stop-color="#131313" stop-opacity="0.75"/><stop offset="1" stop-color="#131313" stop-opacity="0"/></radialGradient>
<radialGradient id="r94"><stop offset="0" stop-color="#080808" stop-opacity="1.00"/><stop offset="0.55" stop-color="#080808" stop-opacity="0.85"/><stop offset="1" stop-color="#080808" stop-opacity="0"/></radialGradient>
<linearGradient id="v95" x1="0" y1="0" x2="0" y2="1"><stop offset="0.045" stop-color="#464646"/><stop offset="0.091" stop-color="#393939"/><stop offset="0.182" stop-color="#323232"/><stop offset="0.409" stop-color="#2f2f2f"/><stop offset="0.591" stop-color="#303030"/><stop offset="0.773" stop-color="#343434"/><stop offset="0.955" stop-color="#393939"/></linearGradient>
<radialGradient id="r96"><stop offset="0" stop-color="#242424" stop-opacity="0.70"/><stop offset="0.60" stop-color="#242424" stop-opacity="0.50"/><stop offset="1" stop-color="#242424" stop-opacity="0"/></radialGradient>
<linearGradient id="v97" x1="0" y1="0" x2="0" y2="1"><stop offset="0.045" stop-color="#3d3d3d"/><stop offset="0.318" stop-color="#464646"/><stop offset="0.500" stop-color="#464646"/><stop offset="0.636" stop-color="#404040"/><stop offset="0.955" stop-color="#3d3d3d"/></linearGradient>
<linearGradient id="v98" x1="0" y1="0" x2="0" y2="1"><stop offset="0.045" stop-color="#3d3d3d"/><stop offset="0.318" stop-color="#464646"/><stop offset="0.500" stop-color="#464646"/><stop offset="0.636" stop-color="#404040"/><stop offset="0.955" stop-color="#3d3d3d"/></linearGradient>
<radialGradient id="r99"><stop offset="0" stop-color="#131313" stop-opacity="0.95"/><stop offset="0.55" stop-color="#131313" stop-opacity="0.75"/><stop offset="1" stop-color="#131313" stop-opacity="0"/></radialGradient>
<radialGradient id="r100"><stop offset="0" stop-color="#080808" stop-opacity="1.00"/><stop offset="0.55" stop-color="#080808" stop-opacity="0.85"/><stop offset="1" stop-color="#080808" stop-opacity="0"/></radialGradient>
<linearGradient id="v101" x1="0" y1="0" x2="0" y2="1"><stop offset="0.045" stop-color="#464646"/><stop offset="0.091" stop-color="#393939"/><stop offset="0.182" stop-color="#323232"/><stop offset="0.409" stop-color="#2f2f2f"/><stop offset="0.591" stop-color="#303030"/><stop offset="0.773" stop-color="#343434"/><stop offset="0.955" stop-color="#393939"/></linearGradient>
<radialGradient id="r102"><stop offset="0" stop-color="#242424" stop-opacity="0.70"/><stop offset="0.60" stop-color="#242424" stop-opacity="0.50"/><stop offset="1" stop-color="#242424" stop-opacity="0"/></radialGradient>
<linearGradient id="v103" x1="0" y1="0" x2="0" y2="1"><stop offset="0.045" stop-color="#3d3d3d"/><stop offset="0.318" stop-color="#464646"/><stop offset="0.500" stop-color="#464646"/><stop offset="0.636" stop-color="#404040"/><stop offset="0.955" stop-color="#3d3d3d"/></linearGradient>
<linearGradient id="v104" x1="0" y1="0" x2="0" y2="1"><stop offset="0.045" stop-color="#3d3d3d"/><stop offset="0.318" stop-color="#464646"/><stop offset="0.500" stop-color="#464646"/><stop offset="0.636" stop-color="#404040"/><stop offset="0.955" stop-color="#3d3d3d"/></linearGradient>
<radialGradient id="r105"><stop offset="0" stop-color="#131313" stop-opacity="0.95"/><stop offset="0.55" stop-color="#131313" stop-opacity="0.75"/><stop offset="1" stop-color="#131313" stop-opacity="0"/></radialGradient>
<radialGradient id="r106"><stop offset="0" stop-color="#080808" stop-opacity="1.00"/><stop offset="0.55" stop-color="#080808" stop-opacity="0.85"/><stop offset="1" stop-color="#080808" stop-opacity="0"/></radialGradient>
<linearGradient id="v107" x1="0" y1="0" x2="0" y2="1"><stop offset="0.045" stop-color="#464646"/><stop offset="0.091" stop-color="#393939"/><stop offset="0.182" stop-color="#323232"/><stop offset="0.409" stop-color="#2f2f2f"/><stop offset="0.591" stop-color="#303030"/><stop offset="0.773" stop-color="#343434"/><stop offset="0.955" stop-color="#393939"/></linearGradient>
<radialGradient id="r108"><stop offset="0" stop-color="#242424" stop-opacity="0.70"/><stop offset="0.60" stop-color="#242424" stop-opacity="0.50"/><stop offset="1" stop-color="#242424" stop-opacity="0"/></radialGradient>
<linearGradient id="v109" x1="0" y1="0" x2="0" y2="1"><stop offset="0.045" stop-color="#3d3d3d"/><stop offset="0.318" stop-color="#464646"/><stop offset="0.500" stop-color="#464646"/><stop offset="0.636" stop-color="#404040"/><stop offset="0.955" stop-color="#3d3d3d"/></linearGradient>
<linearGradient id="v110" x1="0" y1="0" x2="0" y2="1"><stop offset="0.045" stop-color="#3d3d3d"/><stop offset="0.318" stop-color="#464646"/><stop offset="0.500" stop-color="#464646"/><stop offset="0.636" stop-color="#404040"/><stop offset="0.955" stop-color="#3d3d3d"/></linearGradient>
<radialGradient id="r111"><stop offset="0" stop-color="#131313" stop-opacity="0.95"/><stop offset="0.55" stop-color="#131313" stop-opacity="0.75"/><stop offset="1" stop-color="#131313" stop-opacity="0"/></radialGradient>
<radialGradient id="r112"><stop offset="0" stop-color="#080808" stop-opacity="1.00"/><stop offset="0.55" stop-color="#080808" stop-opacity="0.85"/><stop offset="1" stop-color="#080808" stop-opacity="0"/></radialGradient>
<radialGradient id="r113"><stop offset="0" stop-color="#010101" stop-opacity="1.00"/><stop offset="0.60" stop-color="#010101" stop-opacity="0.90"/><stop offset="1" stop-color="#010101" stop-opacity="0"/></radialGradient>
<linearGradient id="v114" x1="0" y1="0" x2="0" y2="1"><stop offset="0.045" stop-color="#464646"/><stop offset="0.091" stop-color="#393939"/><stop offset="0.182" stop-color="#323232"/><stop offset="0.409" stop-color="#2f2f2f"/><stop offset="0.591" stop-color="#303030"/><stop offset="0.773" stop-color="#343434"/><stop offset="0.955" stop-color="#393939"/></linearGradient>
<radialGradient id="r115"><stop offset="0" stop-color="#242424" stop-opacity="0.70"/><stop offset="0.60" stop-color="#242424" stop-opacity="0.50"/><stop offset="1" stop-color="#242424" stop-opacity="0"/></radialGradient>
<linearGradient id="v116" x1="0" y1="0" x2="0" y2="1"><stop offset="0.045" stop-color="#363636"/><stop offset="0.318" stop-color="#393939"/><stop offset="0.591" stop-color="#3b3b3b"/><stop offset="0.955" stop-color="#3e3e3e"/></linearGradient>
<linearGradient id="v117" x1="0" y1="0" x2="0" y2="1"><stop offset="0.045" stop-color="#363636"/><stop offset="0.318" stop-color="#393939"/><stop offset="0.591" stop-color="#3b3b3b"/><stop offset="0.955" stop-color="#3e3e3e"/></linearGradient>
<radialGradient id="r118"><stop offset="0" stop-color="#131313" stop-opacity="0.95"/><stop offset="0.55" stop-color="#131313" stop-opacity="0.75"/><stop offset="1" stop-color="#131313" stop-opacity="0"/></radialGradient>
<radialGradient id="r119"><stop offset="0" stop-color="#080808" stop-opacity="1.00"/><stop offset="0.55" stop-color="#080808" stop-opacity="0.85"/><stop offset="1" stop-color="#080808" stop-opacity="0"/></radialGradient>
<radialGradient id="r120"><stop offset="0" stop-color="#010101" stop-opacity="1.00"/><stop offset="0.60" stop-color="#010101" stop-opacity="0.90"/><stop offset="1" stop-color="#010101" stop-opacity="0"/></radialGradient>
<linearGradient id="v121" x1="0" y1="0" x2="0" y2="1"><stop offset="0.045" stop-color="#3d3d3d"/><stop offset="0.091" stop-color="#343434"/><stop offset="0.182" stop-color="#2b2b2b"/><stop offset="0.500" stop-color="#262626"/><stop offset="0.773" stop-color="#2a2a2a"/><stop offset="0.955" stop-color="#343434"/></linearGradient>
<linearGradient id="v122" x1="0" y1="0" x2="0" y2="1"><stop offset="0.045" stop-color="#494949"/><stop offset="0.500" stop-color="#4b4b4b"/><stop offset="0.955" stop-color="#4e4e4e"/></linearGradient>
<linearGradient id="v123" x1="0" y1="0" x2="0" y2="1"><stop offset="0.045" stop-color="#494949"/><stop offset="0.500" stop-color="#4b4b4b"/><stop offset="0.955" stop-color="#4e4e4e"/></linearGradient>
<radialGradient id="r124"><stop offset="0" stop-color="#121212" stop-opacity="0.95"/><stop offset="0.55" stop-color="#121212" stop-opacity="0.75"/><stop offset="1" stop-color="#121212" stop-opacity="0"/></radialGradient>
<radialGradient id="r125"><stop offset="0" stop-color="#080808" stop-opacity="1.00"/><stop offset="0.60" stop-color="#080808" stop-opacity="0.90"/><stop offset="1" stop-color="#080808" stop-opacity="0"/></radialGradient>
<radialGradient id="r126"><stop offset="0" stop-color="#000000" stop-opacity="1.00"/><stop offset="0.55" stop-color="#000000" stop-opacity="0.90"/><stop offset="1" stop-color="#000000" stop-opacity="0"/></radialGradient>
<linearGradient id="v127" x1="0" y1="0" x2="0" y2="1"><stop offset="0.045" stop-color="#3d3d3d"/><stop offset="0.091" stop-color="#343434"/><stop offset="0.182" stop-color="#2b2b2b"/><stop offset="0.500" stop-color="#262626"/><stop offset="0.773" stop-color="#2a2a2a"/><stop offset="0.955" stop-color="#343434"/></linearGradient>
<linearGradient id="v128" x1="0" y1="0" x2="0" y2="1"><stop offset="0.045" stop-color="#494949"/><stop offset="0.500" stop-color="#4b4b4b"/><stop offset="0.955" stop-color="#4e4e4e"/></linearGradient>
<linearGradient id="v129" x1="0" y1="0" x2="0" y2="1"><stop offset="0.045" stop-color="#494949"/><stop offset="0.500" stop-color="#4b4b4b"/><stop offset="0.955" stop-color="#4e4e4e"/></linearGradient>
<radialGradient id="r130"><stop offset="0" stop-color="#121212" stop-opacity="0.95"/><stop offset="0.55" stop-color="#121212" stop-opacity="0.75"/><stop offset="1" stop-color="#121212" stop-opacity="0"/></radialGradient>
<radialGradient id="r131"><stop offset="0" stop-color="#080808" stop-opacity="1.00"/><stop offset="0.60" stop-color="#080808" stop-opacity="0.90"/><stop offset="1" stop-color="#080808" stop-opacity="0"/></radialGradient>
<radialGradient id="r132"><stop offset="0" stop-color="#000000" stop-opacity="1.00"/><stop offset="0.55" stop-color="#000000" stop-opacity="0.90"/><stop offset="1" stop-color="#000000" stop-opacity="0"/></radialGradient>
<linearGradient id="v133" x1="0" y1="0" x2="0" y2="1"><stop offset="0.045" stop-color="#3d3d3d"/><stop offset="0.091" stop-color="#343434"/><stop offset="0.182" stop-color="#2b2b2b"/><stop offset="0.500" stop-color="#262626"/><stop offset="0.773" stop-color="#2a2a2a"/><stop offset="0.955" stop-color="#343434"/></linearGradient>
<linearGradient id="v134" x1="0" y1="0" x2="0" y2="1"><stop offset="0.045" stop-color="#494949"/><stop offset="0.500" stop-color="#4b4b4b"/><stop offset="0.955" stop-color="#4e4e4e"/></linearGradient>
<linearGradient id="v135" x1="0" y1="0" x2="0" y2="1"><stop offset="0.045" stop-color="#494949"/><stop offset="0.500" stop-color="#4b4b4b"/><stop offset="0.955" stop-color="#4e4e4e"/></linearGradient>
<radialGradient id="r136"><stop offset="0" stop-color="#121212" stop-opacity="0.95"/><stop offset="0.55" stop-color="#121212" stop-opacity="0.75"/><stop offset="1" stop-color="#121212" stop-opacity="0"/></radialGradient>
<radialGradient id="r137"><stop offset="0" stop-color="#080808" stop-opacity="1.00"/><stop offset="0.60" stop-color="#080808" stop-opacity="0.90"/><stop offset="1" stop-color="#080808" stop-opacity="0"/></radialGradient>
<radialGradient id="r138"><stop offset="0" stop-color="#000000" stop-opacity="1.00"/><stop offset="0.55" stop-color="#000000" stop-opacity="0.90"/><stop offset="1" stop-color="#000000" stop-opacity="0"/></radialGradient>
<linearGradient id="v139" x1="0" y1="0" x2="0" y2="1"><stop offset="0.045" stop-color="#3d3d3d"/><stop offset="0.091" stop-color="#343434"/><stop offset="0.182" stop-color="#2b2b2b"/><stop offset="0.500" stop-color="#262626"/><stop offset="0.773" stop-color="#2a2a2a"/><stop offset="0.955" stop-color="#343434"/></linearGradient>
<linearGradient id="v140" x1="0" y1="0" x2="0" y2="1"><stop offset="0.045" stop-color="#494949"/><stop offset="0.500" stop-color="#4b4b4b"/><stop offset="0.955" stop-color="#4e4e4e"/></linearGradient>
<linearGradient id="v141" x1="0" y1="0" x2="0" y2="1"><stop offset="0.045" stop-color="#494949"/><stop offset="0.500" stop-color="#4b4b4b"/><stop offset="0.955" stop-color="#4e4e4e"/></linearGradient>
<radialGradient id="r142"><stop offset="0" stop-color="#121212" stop-opacity="0.95"/><stop offset="0.55" stop-color="#121212" stop-opacity="0.75"/><stop offset="1" stop-color="#121212" stop-opacity="0"/></radialGradient>
<radialGradient id="r143"><stop offset="0" stop-color="#080808" stop-opacity="1.00"/><stop offset="0.60" stop-color="#080808" stop-opacity="0.90"/><stop offset="1" stop-color="#080808" stop-opacity="0"/></radialGradient>
<radialGradient id="r144"><stop offset="0" stop-color="#000000" stop-opacity="1.00"/><stop offset="0.55" stop-color="#000000" stop-opacity="0.90"/><stop offset="1" stop-color="#000000" stop-opacity="0"/></radialGradient>
<linearGradient id="v145" x1="0" y1="0" x2="0" y2="1"><stop offset="0.045" stop-color="#3d3d3d"/><stop offset="0.091" stop-color="#343434"/><stop offset="0.182" stop-color="#2b2b2b"/><stop offset="0.500" stop-color="#262626"/><stop offset="0.773" stop-color="#2a2a2a"/><stop offset="0.955" stop-color="#343434"/></linearGradient>
<linearGradient id="v146" x1="0" y1="0" x2="0" y2="1"><stop offset="0.045" stop-color="#494949"/><stop offset="0.500" stop-color="#4b4b4b"/><stop offset="0.955" stop-color="#4e4e4e"/></linearGradient>
<linearGradient id="v147" x1="0" y1="0" x2="0" y2="1"><stop offset="0.045" stop-color="#494949"/><stop offset="0.500" stop-color="#4b4b4b"/><stop offset="0.955" stop-color="#4e4e4e"/></linearGradient>
<radialGradient id="r148"><stop offset="0" stop-color="#121212" stop-opacity="0.95"/><stop offset="0.55" stop-color="#121212" stop-opacity="0.75"/><stop offset="1" stop-color="#121212" stop-opacity="0"/></radialGradient>
<radialGradient id="r149"><stop offset="0" stop-color="#080808" stop-opacity="1.00"/><stop offset="0.60" stop-color="#080808" stop-opacity="0.90"/><stop offset="1" stop-color="#080808" stop-opacity="0"/></radialGradient>
<radialGradient id="r150"><stop offset="0" stop-color="#000000" stop-opacity="1.00"/><stop offset="0.55" stop-color="#000000" stop-opacity="0.90"/><stop offset="1" stop-color="#000000" stop-opacity="0"/></radialGradient>
<linearGradient id="v151" x1="0" y1="0" x2="0" y2="1"><stop offset="0.045" stop-color="#3d3d3d"/><stop offset="0.091" stop-color="#343434"/><stop offset="0.182" stop-color="#2b2b2b"/><stop offset="0.500" stop-color="#262626"/><stop offset="0.773" stop-color="#2a2a2a"/><stop offset="0.955" stop-color="#343434"/></linearGradient>
<linearGradient id="v152" x1="0" y1="0" x2="0" y2="1"><stop offset="0.045" stop-color="#494949"/><stop offset="0.500" stop-color="#4b4b4b"/><stop offset="0.955" stop-color="#4e4e4e"/></linearGradient>
<linearGradient id="v153" x1="0" y1="0" x2="0" y2="1"><stop offset="0.045" stop-color="#494949"/><stop offset="0.500" stop-color="#4b4b4b"/><stop offset="0.955" stop-color="#4e4e4e"/></linearGradient>
<radialGradient id="r154"><stop offset="0" stop-color="#121212" stop-opacity="0.95"/><stop offset="0.55" stop-color="#121212" stop-opacity="0.75"/><stop offset="1" stop-color="#121212" stop-opacity="0"/></radialGradient>
<radialGradient id="r155"><stop offset="0" stop-color="#080808" stop-opacity="1.00"/><stop offset="0.60" stop-color="#080808" stop-opacity="0.90"/><stop offset="1" stop-color="#080808" stop-opacity="0"/></radialGradient>
<radialGradient id="r156"><stop offset="0" stop-color="#000000" stop-opacity="1.00"/><stop offset="0.55" stop-color="#000000" stop-opacity="0.90"/><stop offset="1" stop-color="#000000" stop-opacity="0"/></radialGradient>
<radialGradient id="r157"><stop offset="0" stop-color="#606060" stop-opacity="1.00"/><stop offset="0.50" stop-color="#606060" stop-opacity="0.80"/><stop offset="1" stop-color="#606060" stop-opacity="0"/></radialGradient>
<linearGradient id="v158" x1="0" y1="0" x2="0" y2="1"><stop offset="0.045" stop-color="#3d3d3d"/><stop offset="0.091" stop-color="#343434"/><stop offset="0.182" stop-color="#2b2b2b"/><stop offset="0.500" stop-color="#262626"/><stop offset="0.773" stop-color="#2a2a2a"/><stop offset="0.955" stop-color="#343434"/></linearGradient>
<linearGradient id="v159" x1="0" y1="0" x2="0" y2="1"><stop offset="0.045" stop-color="#494949"/><stop offset="0.500" stop-color="#4b4b4b"/><stop offset="0.955" stop-color="#4e4e4e"/></linearGradient>
<linearGradient id="v160" x1="0" y1="0" x2="0" y2="1"><stop offset="0.045" stop-color="#494949"/><stop offset="0.500" stop-color="#4b4b4b"/><stop offset="0.955" stop-color="#4e4e4e"/></linearGradient>
<radialGradient id="r161"><stop offset="0" stop-color="#121212" stop-opacity="0.95"/><stop offset="0.55" stop-color="#121212" stop-opacity="0.75"/><stop offset="1" stop-color="#121212" stop-opacity="0"/></radialGradient>
<radialGradient id="r162"><stop offset="0" stop-color="#080808" stop-opacity="1.00"/><stop offset="0.60" stop-color="#080808" stop-opacity="0.90"/><stop offset="1" stop-color="#080808" stop-opacity="0"/></radialGradient>
<radialGradient id="r163"><stop offset="0" stop-color="#000000" stop-opacity="1.00"/><stop offset="0.55" stop-color="#000000" stop-opacity="0.90"/><stop offset="1" stop-color="#000000" stop-opacity="0"/></radialGradient>
<radialGradient id="r164"><stop offset="0" stop-color="#606060" stop-opacity="1.00"/><stop offset="0.50" stop-color="#606060" stop-opacity="0.80"/><stop offset="1" stop-color="#606060" stop-opacity="0"/></radialGradient>
<linearGradient id="v165" x1="0" y1="0" x2="0" y2="1"><stop offset="0.045" stop-color="#464646"/><stop offset="0.091" stop-color="#383838"/><stop offset="0.182" stop-color="#323232"/><stop offset="0.409" stop-color="#2f2f2f"/><stop offset="0.591" stop-color="#303030"/><stop offset="0.773" stop-color="#323232"/><stop offset="0.955" stop-color="#363636"/></linearGradient>
<radialGradient id="r166"><stop offset="0" stop-color="#242424" stop-opacity="0.70"/><stop offset="0.60" stop-color="#242424" stop-opacity="0.50"/><stop offset="1" stop-color="#242424" stop-opacity="0"/></radialGradient>
<linearGradient id="v167" x1="0" y1="0" x2="0" y2="1"><stop offset="0.045" stop-color="#373737"/><stop offset="0.318" stop-color="#363636"/><stop offset="0.591" stop-color="#393939"/><stop offset="0.818" stop-color="#3d3d3d"/><stop offset="0.955" stop-color="#424242"/></linearGradient>
<linearGradient id="v168" x1="0" y1="0" x2="0" y2="1"><stop offset="0.045" stop-color="#373737"/><stop offset="0.318" stop-color="#363636"/><stop offset="0.591" stop-color="#393939"/><stop offset="0.818" stop-color="#3d3d3d"/><stop offset="0.955" stop-color="#424242"/></linearGradient>
<radialGradient id="r169"><stop offset="0" stop-color="#151515" stop-opacity="0.95"/><stop offset="0.55" stop-color="#151515" stop-opacity="0.70"/><stop offset="1" stop-color="#151515" stop-opacity="0"/></radialGradient>
<radialGradient id="r170"><stop offset="0" stop-color="#090909" stop-opacity="0.95"/><stop offset="0.50" stop-color="#090909" stop-opacity="0.75"/><stop offset="1" stop-color="#090909" stop-opacity="0"/></radialGradient>
<linearGradient id="v171" x1="0" y1="0" x2="0" y2="1"><stop offset="0.045" stop-color="#464646"/><stop offset="0.091" stop-color="#383838"/><stop offset="0.182" stop-color="#323232"/><stop offset="0.409" stop-color="#2f2f2f"/><stop offset="0.591" stop-color="#303030"/><stop offset="0.773" stop-color="#323232"/><stop offset="0.955" stop-color="#363636"/></linearGradient>
<radialGradient id="r172"><stop offset="0" stop-color="#242424" stop-opacity="0.70"/><stop offset="0.60" stop-color="#242424" stop-opacity="0.50"/><stop offset="1" stop-color="#242424" stop-opacity="0"/></radialGradient>
<linearGradient id="v173" x1="0" y1="0" x2="0" y2="1"><stop offset="0.045" stop-color="#373737"/><stop offset="0.318" stop-color="#363636"/><stop offset="0.591" stop-color="#393939"/><stop offset="0.818" stop-color="#3d3d3d"/><stop offset="0.955" stop-color="#424242"/></linearGradient>
<linearGradient id="v174" x1="0" y1="0" x2="0" y2="1"><stop offset="0.045" stop-color="#373737"/><stop offset="0.318" stop-color="#363636"/><stop offset="0.591" stop-color="#393939"/><stop offset="0.818" stop-color="#3d3d3d"/><stop offset="0.955" stop-color="#424242"/></linearGradient>
<radialGradient id="r175"><stop offset="0" stop-color="#151515" stop-opacity="0.95"/><stop offset="0.55" stop-color="#151515" stop-opacity="0.70"/><stop offset="1" stop-color="#151515" stop-opacity="0"/></radialGradient>
<radialGradient id="r176"><stop offset="0" stop-color="#090909" stop-opacity="0.95"/><stop offset="0.50" stop-color="#090909" stop-opacity="0.75"/><stop offset="1" stop-color="#090909" stop-opacity="0"/></radialGradient>
<linearGradient id="v177" x1="0" y1="0" x2="0" y2="1"><stop offset="0.045" stop-color="#464646"/><stop offset="0.091" stop-color="#383838"/><stop offset="0.182" stop-color="#323232"/><stop offset="0.409" stop-color="#2f2f2f"/><stop offset="0.591" stop-color="#303030"/><stop offset="0.773" stop-color="#323232"/><stop offset="0.955" stop-color="#363636"/></linearGradient>
<radialGradient id="r178"><stop offset="0" stop-color="#242424" stop-opacity="0.70"/><stop offset="0.60" stop-color="#242424" stop-opacity="0.50"/><stop offset="1" stop-color="#242424" stop-opacity="0"/></radialGradient>
<linearGradient id="v179" x1="0" y1="0" x2="0" y2="1"><stop offset="0.045" stop-color="#373737"/><stop offset="0.318" stop-color="#363636"/><stop offset="0.591" stop-color="#393939"/><stop offset="0.818" stop-color="#3d3d3d"/><stop offset="0.955" stop-color="#424242"/></linearGradient>
<linearGradient id="v180" x1="0" y1="0" x2="0" y2="1"><stop offset="0.045" stop-color="#373737"/><stop offset="0.318" stop-color="#363636"/><stop offset="0.591" stop-color="#393939"/><stop offset="0.818" stop-color="#3d3d3d"/><stop offset="0.955" stop-color="#424242"/></linearGradient>
<radialGradient id="r181"><stop offset="0" stop-color="#151515" stop-opacity="0.95"/><stop offset="0.55" stop-color="#151515" stop-opacity="0.70"/><stop offset="1" stop-color="#151515" stop-opacity="0"/></radialGradient>
<radialGradient id="r182"><stop offset="0" stop-color="#090909" stop-opacity="0.95"/><stop offset="0.50" stop-color="#090909" stop-opacity="0.75"/><stop offset="1" stop-color="#090909" stop-opacity="0"/></radialGradient>
<linearGradient id="v183" x1="0" y1="0" x2="0" y2="1"><stop offset="0.045" stop-color="#464646"/><stop offset="0.091" stop-color="#383838"/><stop offset="0.182" stop-color="#323232"/><stop offset="0.409" stop-color="#2f2f2f"/><stop offset="0.591" stop-color="#303030"/><stop offset="0.773" stop-color="#323232"/><stop offset="0.955" stop-color="#363636"/></linearGradient>
<radialGradient id="r184"><stop offset="0" stop-color="#242424" stop-opacity="0.70"/><stop offset="0.60" stop-color="#242424" stop-opacity="0.50"/><stop offset="1" stop-color="#242424" stop-opacity="0"/></radialGradient>
<linearGradient id="v185" x1="0" y1="0" x2="0" y2="1"><stop offset="0.045" stop-color="#373737"/><stop offset="0.318" stop-color="#363636"/><stop offset="0.591" stop-color="#393939"/><stop offset="0.818" stop-color="#3d3d3d"/><stop offset="0.955" stop-color="#424242"/></linearGradient>
<linearGradient id="v186" x1="0" y1="0" x2="0" y2="1"><stop offset="0.045" stop-color="#373737"/><stop offset="0.318" stop-color="#363636"/><stop offset="0.591" stop-color="#393939"/><stop offset="0.818" stop-color="#3d3d3d"/><stop offset="0.955" stop-color="#424242"/></linearGradient>
<radialGradient id="r187"><stop offset="0" stop-color="#151515" stop-opacity="0.95"/><stop offset="0.55" stop-color="#151515" stop-opacity="0.70"/><stop offset="1" stop-color="#151515" stop-opacity="0"/></radialGradient>
<radialGradient id="r188"><stop offset="0" stop-color="#090909" stop-opacity="0.95"/><stop offset="0.50" stop-color="#090909" stop-opacity="0.75"/><stop offset="1" stop-color="#090909" stop-opacity="0"/></radialGradient>
<linearGradient id="v189" x1="0" y1="0" x2="0" y2="1"><stop offset="0.045" stop-color="#464646"/><stop offset="0.091" stop-color="#383838"/><stop offset="0.182" stop-color="#323232"/><stop offset="0.409" stop-color="#2f2f2f"/><stop offset="0.591" stop-color="#303030"/><stop offset="0.773" stop-color="#323232"/><stop offset="0.955" stop-color="#363636"/></linearGradient>
<radialGradient id="r190"><stop offset="0" stop-color="#242424" stop-opacity="0.70"/><stop offset="0.60" stop-color="#242424" stop-opacity="0.50"/><stop offset="1" stop-color="#242424" stop-opacity="0"/></radialGradient>
<linearGradient id="v191" x1="0" y1="0" x2="0" y2="1"><stop offset="0.045" stop-color="#373737"/><stop offset="0.318" stop-color="#363636"/><stop offset="0.591" stop-color="#393939"/><stop offset="0.818" stop-color="#3d3d3d"/><stop offset="0.955" stop-color="#424242"/></linearGradient>
<linearGradient id="v192" x1="0" y1="0" x2="0" y2="1"><stop offset="0.045" stop-color="#373737"/><stop offset="0.318" stop-color="#363636"/><stop offset="0.591" stop-color="#393939"/><stop offset="0.818" stop-color="#3d3d3d"/><stop offset="0.955" stop-color="#424242"/></linearGradient>
<radialGradient id="r193"><stop offset="0" stop-color="#151515" stop-opacity="0.95"/><stop offset="0.55" stop-color="#151515" stop-opacity="0.70"/><stop offset="1" stop-color="#151515" stop-opacity="0"/></radialGradient>
<radialGradient id="r194"><stop offset="0" stop-color="#090909" stop-opacity="0.95"/><stop offset="0.50" stop-color="#090909" stop-opacity="0.75"/><stop offset="1" stop-color="#090909" stop-opacity="0"/></radialGradient>
<linearGradient id="v195" x1="0" y1="0" x2="0" y2="1"><stop offset="0.045" stop-color="#464646"/><stop offset="0.091" stop-color="#383838"/><stop offset="0.182" stop-color="#323232"/><stop offset="0.409" stop-color="#2f2f2f"/><stop offset="0.591" stop-color="#303030"/><stop offset="0.773" stop-color="#323232"/><stop offset="0.955" stop-color="#363636"/></linearGradient>
<radialGradient id="r196"><stop offset="0" stop-color="#242424" stop-opacity="0.70"/><stop offset="0.60" stop-color="#242424" stop-opacity="0.50"/><stop offset="1" stop-color="#242424" stop-opacity="0"/></radialGradient>
<linearGradient id="v197" x1="0" y1="0" x2="0" y2="1"><stop offset="0.045" stop-color="#373737"/><stop offset="0.318" stop-color="#363636"/><stop offset="0.591" stop-color="#393939"/><stop offset="0.818" stop-color="#3d3d3d"/><stop offset="0.955" stop-color="#424242"/></linearGradient>
<linearGradient id="v198" x1="0" y1="0" x2="0" y2="1"><stop offset="0.045" stop-color="#373737"/><stop offset="0.318" stop-color="#363636"/><stop offset="0.591" stop-color="#393939"/><stop offset="0.818" stop-color="#3d3d3d"/><stop offset="0.955" stop-color="#424242"/></linearGradient>
<radialGradient id="r199"><stop offset="0" stop-color="#151515" stop-opacity="0.95"/><stop offset="0.55" stop-color="#151515" stop-opacity="0.70"/><stop offset="1" stop-color="#151515" stop-opacity="0"/></radialGradient>
<radialGradient id="r200"><stop offset="0" stop-color="#090909" stop-opacity="0.95"/><stop offset="0.50" stop-color="#090909" stop-opacity="0.75"/><stop offset="1" stop-color="#090909" stop-opacity="0"/></radialGradient>
<linearGradient id="v201" x1="0" y1="0" x2="0" y2="1"><stop offset="0.045" stop-color="#464646"/><stop offset="0.091" stop-color="#383838"/><stop offset="0.182" stop-color="#323232"/><stop offset="0.409" stop-color="#2f2f2f"/><stop offset="0.591" stop-color="#303030"/><stop offset="0.773" stop-color="#323232"/><stop offset="0.955" stop-color="#363636"/></linearGradient>
<radialGradient id="r202"><stop offset="0" stop-color="#242424" stop-opacity="0.70"/><stop offset="0.60" stop-color="#242424" stop-opacity="0.50"/><stop offset="1" stop-color="#242424" stop-opacity="0"/></radialGradient>
<linearGradient id="v203" x1="0" y1="0" x2="0" y2="1"><stop offset="0.045" stop-color="#373737"/><stop offset="0.318" stop-color="#363636"/><stop offset="0.591" stop-color="#393939"/><stop offset="0.818" stop-color="#3d3d3d"/><stop offset="0.955" stop-color="#424242"/></linearGradient>
<linearGradient id="v204" x1="0" y1="0" x2="0" y2="1"><stop offset="0.045" stop-color="#373737"/><stop offset="0.318" stop-color="#363636"/><stop offset="0.591" stop-color="#393939"/><stop offset="0.818" stop-color="#3d3d3d"/><stop offset="0.955" stop-color="#424242"/></linearGradient>
<radialGradient id="r205"><stop offset="0" stop-color="#151515" stop-opacity="0.95"/><stop offset="0.55" stop-color="#151515" stop-opacity="0.70"/><stop offset="1" stop-color="#151515" stop-opacity="0"/></radialGradient>
<radialGradient id="r206"><stop offset="0" stop-color="#090909" stop-opacity="0.95"/><stop offset="0.50" stop-color="#090909" stop-opacity="0.75"/><stop offset="1" stop-color="#090909" stop-opacity="0"/></radialGradient>
<radialGradient id="r207"><stop offset="0" stop-color="#010101" stop-opacity="1.00"/><stop offset="0.60" stop-color="#010101" stop-opacity="0.90"/><stop offset="1" stop-color="#010101" stop-opacity="0"/></radialGradient>
<linearGradient id="v208" x1="0" y1="0" x2="0" y2="1"><stop offset="0.045" stop-color="#464646"/><stop offset="0.091" stop-color="#3d3d3d"/><stop offset="0.182" stop-color="#343434"/><stop offset="0.409" stop-color="#303030"/><stop offset="0.591" stop-color="#303030"/><stop offset="0.773" stop-color="#323232"/><stop offset="0.955" stop-color="#333333"/></linearGradient>
<radialGradient id="r209"><stop offset="0" stop-color="#242424" stop-opacity="0.80"/><stop offset="0.50" stop-color="#242424" stop-opacity="0.48"/><stop offset="1" stop-color="#242424" stop-opacity="0"/></radialGradient>
<radialGradient id="r210"><stop offset="0" stop-color="#212121" stop-opacity="0.90"/><stop offset="0.50" stop-color="#212121" stop-opacity="0.54"/><stop offset="1" stop-color="#212121" stop-opacity="0"/></radialGradient>
<linearGradient id="v211" x1="0" y1="0" x2="0" y2="1"><stop offset="0.045" stop-color="#464646"/><stop offset="0.091" stop-color="#3d3d3d"/><stop offset="0.182" stop-color="#343434"/><stop offset="0.409" stop-color="#303030"/><stop offset="0.591" stop-color="#303030"/><stop offset="0.773" stop-color="#323232"/><stop offset="0.955" stop-color="#333333"/></linearGradient>
<radialGradient id="r212"><stop offset="0" stop-color="#242424" stop-opacity="0.80"/><stop offset="0.50" stop-color="#242424" stop-opacity="0.48"/><stop offset="1" stop-color="#242424" stop-opacity="0"/></radialGradient>
<linearGradient id="v213" x1="0" y1="0" x2="0" y2="1"><stop offset="0.045" stop-color="#464646"/><stop offset="0.091" stop-color="#3d3d3d"/><stop offset="0.182" stop-color="#343434"/><stop offset="0.409" stop-color="#303030"/><stop offset="0.591" stop-color="#303030"/><stop offset="0.773" stop-color="#323232"/><stop offset="0.955" stop-color="#333333"/></linearGradient>
<radialGradient id="r214"><stop offset="0" stop-color="#242424" stop-opacity="0.80"/><stop offset="0.50" stop-color="#242424" stop-opacity="0.48"/><stop offset="1" stop-color="#242424" stop-opacity="0"/></radialGradient>
<linearGradient id="v215" x1="0" y1="0" x2="0" y2="1"><stop offset="0.045" stop-color="#464646"/><stop offset="0.091" stop-color="#3d3d3d"/><stop offset="0.182" stop-color="#343434"/><stop offset="0.409" stop-color="#303030"/><stop offset="0.591" stop-color="#303030"/><stop offset="0.773" stop-color="#323232"/><stop offset="0.955" stop-color="#333333"/></linearGradient>
<radialGradient id="r216"><stop offset="0" stop-color="#242424" stop-opacity="0.80"/><stop offset="0.50" stop-color="#242424" stop-opacity="0.48"/><stop offset="1" stop-color="#242424" stop-opacity="0"/></radialGradient>
<linearGradient id="v217" x1="0" y1="0" x2="0" y2="1"><stop offset="0.045" stop-color="#464646"/><stop offset="0.091" stop-color="#3d3d3d"/><stop offset="0.182" stop-color="#343434"/><stop offset="0.409" stop-color="#303030"/><stop offset="0.591" stop-color="#303030"/><stop offset="0.773" stop-color="#323232"/><stop offset="0.955" stop-color="#333333"/></linearGradient>
<radialGradient id="r218"><stop offset="0" stop-color="#242424" stop-opacity="0.80"/><stop offset="0.50" stop-color="#242424" stop-opacity="0.48"/><stop offset="1" stop-color="#242424" stop-opacity="0"/></radialGradient>
<linearGradient id="v219" x1="0" y1="0" x2="0" y2="1"><stop offset="0.045" stop-color="#464646"/><stop offset="0.091" stop-color="#3d3d3d"/><stop offset="0.182" stop-color="#343434"/><stop offset="0.409" stop-color="#303030"/><stop offset="0.591" stop-color="#303030"/><stop offset="0.773" stop-color="#323232"/><stop offset="0.955" stop-color="#333333"/></linearGradient>
<radialGradient id="r220"><stop offset="0" stop-color="#242424" stop-opacity="0.80"/><stop offset="0.50" stop-color="#242424" stop-opacity="0.48"/><stop offset="1" stop-color="#242424" stop-opacity="0"/></radialGradient>
<linearGradient id="v221" x1="0" y1="0" x2="0" y2="1"><stop offset="0.045" stop-color="#464646"/><stop offset="0.091" stop-color="#3d3d3d"/><stop offset="0.182" stop-color="#343434"/><stop offset="0.409" stop-color="#303030"/><stop offset="0.591" stop-color="#303030"/><stop offset="0.773" stop-color="#323232"/><stop offset="0.955" stop-color="#333333"/></linearGradient>
<radialGradient id="r222"><stop offset="0" stop-color="#242424" stop-opacity="0.80"/><stop offset="0.50" stop-color="#242424" stop-opacity="0.48"/><stop offset="1" stop-color="#242424" stop-opacity="0"/></radialGradient>
</defs>
<rect width="3150" height="1575" fill="#fafafa"/>
<g stroke="#111" fill="none"><line x1="365.7" y1="172.2" x2="921.9" y2="246.7" stroke-width="1.8" stroke-dasharray="10 14"/><line x1="169.4" y1="422.9" x2="712.0" y2="489.4" stroke-width="1.8" stroke-dasharray="11 13"/></g>
<g stroke="#111" fill="none"><line x1="1429.9" y1="173.5" x2="1986.1" y2="248.0" stroke-width="1.8" stroke-dasharray="10 14"/><line x1="1233.6" y1="424.2" x2="1776.2" y2="490.7" stroke-width="1.8" stroke-dasharray="11 13"/></g>
<g stroke="#111" fill="none"><line x1="2486.1" y1="173.1" x2="3042.3" y2="247.6" stroke-width="1.8" stroke-dasharray="10 14"/><line x1="2289.8" y1="423.8" x2="2832.4" y2="490.3" stroke-width="1.8" stroke-dasharray="11 13"/></g>
<g stroke="#111" fill="none"><line x1="365.9" y1="893.7" x2="922.1" y2="968.2" stroke-width="1.8" stroke-dasharray="10 14"/><line x1="169.6" y1="1144.4" x2="712.2" y2="1210.9" stroke-width="1.8" stroke-dasharray="11 13"/></g>
<g stroke="#111" fill="none"><line x1="1430.5" y1="893.7" x2="1986.7" y2="968.2" stroke-width="1.8" stroke-dasharray="10 14"/><line x1="1234.2" y1="1144.4" x2="1776.8" y2="1210.9" stroke-width="1.8" stroke-dasharray="11 13"/></g>
<g stroke="#111" fill="none"><line x1="2486.9" y1="893.7" x2="3043.1" y2="968.2" stroke-width="1.8" stroke-dasharray="10 14"/><line x1="2290.6" y1="1144.4" x2="2833.2" y2="1210.9" stroke-width="1.8" stroke-dasharray="11 13"/></g>
<g filter="url(#cm)">
<g transform="matrix(-2.0230 2.0320 0 1.0100 365.70 121.70)" clip-path="url(#cs)"><rect x="-5" y="-5" width="110" height="110" fill="url(#v1)"/><polygon points="-5,-5 14,-5 10,22 -5,36" fill="#a6a6a6" filter="url(#bl4)"/><ellipse cx="60" cy="50" rx="26" ry="14" fill="url(#r2)"/><ellipse cx="25" cy="62" rx="20" ry="12" fill="url(#r3)"/></g>
<g transform="matrix(-2.0230 2.0320 0 1.0100 458.40 134.12)" clip-path="url(#cs)"><rect x="-5" y="-5" width="110" height="110" fill="url(#v4)"/><rect x="-5" y="-5" width="35" height="110" fill="url(#v5)"/><rect x="29.5" y="-5" width="30.5" height="110" fill="url(#v6)" mask="url(#mL)"/><ellipse cx="60" cy="50" rx="26" ry="14" fill="url(#r7)"/><ellipse cx="25" cy="62" rx="20" ry="12" fill="url(#r8)"/></g>
<g transform="matrix(-2.0230 2.0320 0 1.0100 551.10 146.53)" clip-path="url(#cs)"><rect x="-5" y="-5" width="110" height="110" fill="url(#v9)"/><rect x="-5" y="-5" width="35" height="110" fill="url(#v10)"/><rect x="29.5" y="-5" width="30.5" height="110" fill="url(#v11)" mask="url(#mL)"/><ellipse cx="60" cy="50" rx="26" ry="14" fill="url(#r12)"/><ellipse cx="25" cy="62" rx="20" ry="12" fill="url(#r13)"/></g>
<g transform="matrix(-2.0230 2.0320 0 1.0100 643.80 158.95)" clip-path="url(#cs)"><rect x="-5" y="-5" width="110" height="110" fill="url(#v14)"/><rect x="-5" y="-5" width="35" height="110" fill="url(#v15)"/><rect x="29.5" y="-5" width="30.5" height="110" fill="url(#v16)" mask="url(#mL)"/><ellipse cx="60" cy="50" rx="26" ry="14" fill="url(#r17)"/><ellipse cx="25" cy="62" rx="20" ry="12" fill="url(#r18)"/></g>
<g transform="matrix(-2.0230 2.0320 0 1.0100 736.50 171.37)" clip-path="url(#cs)"><rect x="-5" y="-5" width="110" height="110" fill="url(#v19)"/><rect x="-5" y="-5" width="35" height="110" fill="url(#v20)"/><rect x="29.5" y="-5" width="30.5" height="110" fill="url(#v21)" mask="url(#mL)"/><ellipse cx="60" cy="50" rx="26" ry="14" fill="url(#r22)"/><ellipse cx="25" cy="62" rx="20" ry="12" fill="url(#r23)"/></g>
<g transform="matrix(-2.0230 2.0320 0 1.0100 829.20 183.78)" clip-path="url(#cs)"><rect x="-5" y="-5" width="110" height="110" fill="url(#v24)"/><rect x="-5" y="-5" width="35" height="110" fill="url(#v25)"/><rect x="29.5" y="-5" width="30.5" height="110" fill="url(#v26)" mask="url(#mL)"/><ellipse cx="60" cy="50" rx="26" ry="14" fill="url(#r27)"/><ellipse cx="25" cy="62" rx="20" ry="12" fill="url(#r28)"/></g>
<g transform="matrix(-2.0230 2.0320 0 1.0100 921.90 196.20)" clip-path="url(#cs)"><rect x="-5" y="-5" width="110" height="110" fill="url(#v29)"/><rect x="-5" y="-5" width="35" height="110" fill="url(#v30)"/><rect x="29.5" y="-5" width="30.5" height="110" fill="url(#v31)" mask="url(#mL)"/><ellipse cx="60" cy="50" rx="26" ry="14" fill="url(#r32)"/><ellipse cx="25" cy="62" rx="20" ry="12" fill="url(#r33)"/></g>
<g transform="matrix(-2.0230 2.0320 0 1.0100 1429.90 123.00)" clip-path="url(#cs)"><rect x="-5" y="-5" width="110" height="110" fill="url(#v34)"/><ellipse cx="38" cy="50" rx="34" ry="34" fill="url(#r35)"/><rect x="50" y="-5" width="40" height="110" fill="url(#v36)" mask="url(#mR)"/><rect x="89.5" y="-5" width="16.5" height="110" fill="url(#v37)"/><ellipse cx="23" cy="33" rx="20" ry="40" fill="url(#r38)"/><ellipse cx="22" cy="29" rx="9" ry="20" fill="url(#r39)"/><polygon points="-8,12 3.5,12 3.5,110 -8,110" fill="#404040" filter="url(#bl)"/><polygon points="-8,-8 20,-8 12,8 -8,14" fill="#d2d2d2" filter="url(#bl4)"/><polygon points="37,-12 112,-12 112,11.9875 109,11.9875 106,11.9875 103,11.9875 100,11.9875 97,13.3333 94,14.6792 91,16.025 88,17.3708 85,18.7167 82,20.0625 79,21.4083 76,22.7542 73,24.1 70,25.4458 67,26.7917 64,28.1375 61,29.4833 58,30.8292 55,32.175 52,33.5208 49,34.8667 46,36.2125 43,27.3025 40,8.60478 37,-2" fill="#494949" filter="url(#bl6)"/><polygon points="40,-12 112,-12 112,6.8475 109,6.8475 106,6.8475 103,6.8475 100,6.8475 97,7.93763 94,9.02775 91,10.1179 88,11.208 85,12.2981 82,13.3883 79,14.4784 76,15.5685 73,16.6586 70,17.7488 67,18.8389 64,19.929 61,21.0191 58,22.1092 55,23.1994 52,24.2895 49,25.3796 46,19.0887 43,5.66367 40,-2" fill="#939393" filter="url(#bl4)"/><polygon points="43,-12 112,-12 112,2.85 109,2.85 106,2.85 103,2.85 100,2.85 97,3.7 94,4.55 91,5.4 88,6.25 85,7.1 82,7.95 79,8.8 76,9.65 73,10.5 70,11.35 67,12.2 64,13.05 61,13.9 58,14.75 55,15.6 52,16.45 49,12.2963 46,3.22407 43,-2" fill="#f2f2f2" filter="url(#bl)"/></g>
<g transform="matrix(-2.0230 2.0320 0 1.0100 1522.60 135.42)" clip-path="url(#cs)"><rect x="-5" y="-5" width="110" height="110" fill="url(#v40)"/><ellipse cx="38" cy="50" rx="34" ry="34" fill="url(#r41)"/><rect x="50" y="-5" width="40" height="110" fill="url(#v42)" mask="url(#mR)"/><rect x="89.5" y="-5" width="16.5" height="110" fill="url(#v43)"/><ellipse cx="24" cy="33.8" rx="20" ry="40" fill="url(#r44)"/><ellipse cx="23" cy="29.8" rx="9" ry="20" fill="url(#r45)"/><polygon points="-8,12 3.5,12 3.5,110 -8,110" fill="#404040" filter="url(#bl)"/><polygon points="-8,-8 22,-8 15,12 -8,26" fill="#868686" filter="url(#bl4)"/><polygon points="37,-12 112,-12 112,40.7567 109,40.63 106,40.5033 103,40.3767 100,40.25 97,40.1233 94,39.9967 91,39.87 88,39.7433 85,39.6167 82,39.49 79,39.3633 76,39.2367 73,39.11 70,38.9833 67,38.8567 64,38.73 61,38.6033 58,38.4767 55,38.35 52,38.2233 49,38.0967 46,36.8508 43,23.8185 40,6.5788 37,-2" fill="#494949" filter="url(#bl6)"/><polygon points="40,-12 112,-12 112,29.0604 109,28.9578 106,28.8552 103,28.7526 100,28.65 97,28.5474 94,28.4448 91,28.3422 88,28.2396 85,28.137 82,28.0344 79,27.9318 76,27.8292 73,27.7266 70,27.624 67,27.5214 64,27.4188 61,27.3162 58,27.2136 55,27.111 52,27.0084 49,26.0964 46,16.6645 43,4.19933 40,-2" fill="#939393" filter="url(#bl4)"/><polygon points="43,-12 112,-12 112,19.32 109,19.24 106,19.16 103,19.08 100,19 97,18.92 94,18.84 91,18.76 88,18.68 85,18.6 82,18.52 79,18.44 76,18.36 73,18.28 70,18.2 67,18.12 64,18.04 61,17.96 58,17.88 55,17.8 52,17.1678 49,10.7267 46,2.22496 43,-2" fill="#f2f2f2" filter="url(#bl)"/></g>
<g transform="matrix(-2.0230 2.0320 0 1.0100 1615.30 147.83)" clip-path="url(#cs)"><rect x="-5" y="-5" width="110" height="110" fill="url(#v46)"/><ellipse cx="38" cy="50" rx="34" ry="34" fill="url(#r47)"/><rect x="50" y="-5" width="40" height="110" fill="url(#v48)" mask="url(#mR)"/><rect x="89.5" y="-5" width="16.5" height="110" fill="url(#v49)"/><ellipse cx="25" cy="34.6" rx="20" ry="40" fill="url(#r50)"/><ellipse cx="24" cy="30.6" rx="9" ry="20" fill="url(#r51)"/><polygon points="-8,12 3.5,12 3.5,110 -8,110" fill="#404040" filter="url(#bl)"/><polygon points="-8,-8 22,-8 15,12 -8,26" fill="#868686" filter="url(#bl4)"/><polygon points="37,-12 112,-12 112,42.5333 109,42.4 106,42.2667 103,42.1333 100,42 97,41.8667 94,41.7333 91,41.6 88,41.4667 85,41.3333 82,41.2 79,41.0667 76,40.9333 73,40.8 70,40.6667 67,40.5333 64,40.4 61,40.2667 58,40.1333 55,40 52,39.8667 49,39.7333 46,38.4352 43,24.8704 40,6.928 37,-2" fill="#494949" filter="url(#bl6)"/><polygon points="40,-12 112,-12 112,30.432 109,30.324 106,30.216 103,30.108 100,30 97,29.892 94,29.784 91,29.676 88,29.568 85,29.46 82,29.352 79,29.244 76,29.136 73,29.028 70,28.92 67,28.812 64,28.704 61,28.596 58,28.488 55,28.38 52,28.272 49,27.3194 46,17.4763 43,4.46877 40,-2" fill="#939393" filter="url(#bl4)"/><polygon points="43,-12 112,-12 112,20.3368 109,20.2526 106,20.1684 103,20.0842 100,20 97,19.9158 94,19.8316 91,19.7474 88,19.6632 85,19.5789 82,19.4947 79,19.4105 76,19.3263 73,19.2421 70,19.1579 67,19.0737 64,18.9895 61,18.9053 58,18.8211 55,18.7368 52,18.0744 49,11.3283 46,2.42459 43,-2" fill="#f2f2f2" filter="url(#bl)"/></g>
<g transform="matrix(-2.0230 2.0320 0 1.0100 1708.00 160.25)" clip-path="url(#cs)"><rect x="-5" y="-5" width="110" height="110" fill="url(#v52)"/><ellipse cx="38" cy="50" rx="34" ry="34" fill="url(#r53)"/><rect x="50" y="-5" width="40" height="110" fill="url(#v54)" mask="url(#mR)"/><rect x="89.5" y="-5" width="16.5" height="110" fill="url(#v55)"/><ellipse cx="23" cy="35.4" rx="20" ry="40" fill="url(#r56)"/><ellipse cx="22" cy="31.4" rx="9" ry="20" fill="url(#r57)"/><polygon points="-8,12 3.5,12 3.5,110 -8,110" fill="#404040" filter="url(#bl)"/><polygon points="-8,-8 22,-8 15,12 -8,26" fill="#868686" filter="url(#bl4)"/><polygon points="37,-12 112,-12 112,44.31 109,44.17 106,44.03 103,43.89 100,43.75 97,43.61 94,43.47 91,43.33 88,43.19 85,43.05 82,42.91 79,42.77 76,42.63 73,42.49 70,42.35 67,42.21 64,42.07 61,41.93 58,41.79 55,41.65 52,41.51 49,41.37 46,40.0196 43,25.9223 40,7.2772 37,-2" fill="#494949" filter="url(#bl6)"/><polygon points="40,-12 112,-12 112,31.8036 109,31.6902 106,31.5768 103,31.4634 100,31.35 97,31.2366 94,31.1232 91,31.0098 88,30.8964 85,30.783 82,30.6696 79,30.5562 76,30.4428 73,30.3294 70,30.216 67,30.1026 64,29.9892 61,29.8758 58,29.7624 55,29.649 52,29.5356 49,28.5424 46,18.2881 43,4.73821 40,-2" fill="#939393" filter="url(#bl4)"/><polygon points="43,-12 112,-12 112,21.3537 109,21.2653 106,21.1768 103,21.0884 100,21 97,20.9116 94,20.8232 91,20.7347 88,20.6463 85,20.5579 82,20.4695 79,20.3811 76,20.2926 73,20.2042 70,20.1158 67,20.0274 64,19.9389 61,19.8505 58,19.7621 55,19.6737 52,18.9809 49,11.93 46,2.62422 43,-2" fill="#f2f2f2" filter="url(#bl)"/></g>
<g transform="matrix(-2.0230 2.0320 0 1.0100 1800.70 172.67)" clip-path="url(#cs)"><rect x="-5" y="-5" width="110" height="110" fill="url(#v58)"/><ellipse cx="38" cy="50" rx="34" ry="34" fill="url(#r59)"/><rect x="50" y="-5" width="40" height="110" fill="url(#v60)" mask="url(#mR)"/><rect x="89.5" y="-5" width="16.5" height="110" fill="url(#v61)"/><ellipse cx="24" cy="36.2" rx="20" ry="40" fill="url(#r62)"/><ellipse cx="23" cy="32.2" rx="9" ry="20" fill="url(#r63)"/><polygon points="-8,12 3.5,12 3.5,110 -8,110" fill="#404040" filter="url(#bl)"/><polygon points="-8,-8 22,-8 15,12 -8,26" fill="#868686" filter="url(#bl4)"/><polygon points="37,-12 112,-12 112,47.8633 109,47.71 106,47.5567 103,47.4033 100,47.25 97,47.0967 94,46.9433 91,46.79 88,46.6367 85,46.4833 82,46.33 79,46.1767 76,46.0233 73,45.87 70,45.7167 67,45.5633 64,45.41 61,45.2567 58,45.1033 55,44.95 52,44.7967 49,44.6433 46,43.1883 43,28.0262 40,7.9756 37,-2" fill="#494949" filter="url(#bl6)"/><polygon points="40,-12 112,-12 112,34.5468 109,34.4226 106,34.2984 103,34.1742 100,34.05 97,33.9258 94,33.8016 91,33.6774 88,33.5532 85,33.429 82,33.3048 79,33.1806 76,33.0564 73,32.9322 70,32.808 67,32.6838 64,32.5596 61,32.4354 58,32.3112 55,32.187 52,32.0628 49,30.9883 46,19.9117 43,5.27708 40,-2" fill="#939393" filter="url(#bl4)"/><polygon points="43,-12 112,-12 112,23.3874 109,23.2905 106,23.1937 103,23.0968 100,23 97,22.9032 94,22.8063 91,22.7095 88,22.6126 85,22.5158 82,22.4189 79,22.3221 76,22.2253 73,22.1284 70,22.0316 67,21.9347 64,21.8379 61,21.7411 58,21.6442 55,21.5474 52,20.7939 49,13.1332 46,3.02348 43,-2" fill="#f2f2f2" filter="url(#bl)"/></g>
<g transform="matrix(-2.0230 2.0320 0 1.0100 1893.40 185.08)" clip-path="url(#cs)"><rect x="-5" y="-5" width="110" height="110" fill="url(#v64)"/><ellipse cx="38" cy="50" rx="34" ry="34" fill="url(#r65)"/><rect x="50" y="-5" width="40" height="110" fill="url(#v66)" mask="url(#mR)"/><rect x="89.5" y="-5" width="16.5" height="110" fill="url(#v67)"/><ellipse cx="25" cy="37" rx="20" ry="40" fill="url(#r68)"/><ellipse cx="24" cy="33" rx="9" ry="20" fill="url(#r69)"/><polygon points="-8,12 3.5,12 3.5,110 -8,110" fill="#404040" filter="url(#bl)"/><polygon points="-8,-8 22,-8 15,12 -8,26" fill="#868686" filter="url(#bl4)"/><polygon points="37,-12 112,-12 112,47.8633 109,47.71 106,47.5567 103,47.4033 100,47.25 97,47.0967 94,46.9433 91,46.79 88,46.6367 85,46.4833 82,46.33 79,46.1767 76,46.0233 73,45.87 70,45.7167 67,45.5633 64,45.41 61,45.2567 58,45.1033 55,44.95 52,44.7967 49,44.6433 46,43.1883 43,28.0262 40,7.9756 37,-2" fill="#494949" filter="url(#bl6)"/><polygon points="40,-12 112,-12 112,34.5468 109,34.4226 106,34.2984 103,34.1742 100,34.05 97,33.9258 94,33.8016 91,33.6774 88,33.5532 85,33.429 82,33.3048 79,33.1806 76,33.0564 73,32.9322 70,32.808 67,32.6838 64,32.5596 61,32.4354 58,32.3112 55,32.187 52,32.0628 49,30.9883 46,19.9117 43,5.27708 40,-2" fill="#939393" filter="url(#bl4)"/><polygon points="43,-12 112,-12 112,23.3874 109,23.2905 106,23.1937 103,23.0968 100,23 97,22.9032 94,22.8063 91,22.7095 88,22.6126 85,22.5158 82,22.4189 79,22.3221 76,22.2253 73,22.1284 70,22.0316 67,21.9347 64,21.8379 61,21.7411 58,21.6442 55,21.5474 52,20.7939 49,13.1332 46,3.02348 43,-2" fill="#f2f2f2" filter="url(#bl)"/></g>
<g transform="matrix(-2.0230 2.0320 0 1.0100 1986.10 197.50)" clip-path="url(#cs)"><rect x="-5" y="-5" width="110" height="110" fill="url(#v70)"/><ellipse cx="38" cy="50" rx="34" ry="34" fill="url(#r71)"/><rect x="50" y="-5" width="40" height="110" fill="url(#v72)" mask="url(#mR)"/><rect x="89.5" y="-5" width="16.5" height="110" fill="url(#v73)"/><ellipse cx="23" cy="37.8" rx="20" ry="40" fill="url(#r74)"/><ellipse cx="22" cy="33.8" rx="9" ry="20" fill="url(#r75)"/><ellipse cx="16" cy="23.8" rx="2.2" ry="7" fill="url(#r76)"/><polygon points="-8,12 3.5,12 3.5,110 -8,110" fill="#404040" filter="url(#bl)"/><polygon points="-8,-8 22,-8 15,12 -8,26" fill="#868686" filter="url(#bl4)"/><polygon points="37,-12 112,-12 112,44.31 109,44.17 106,44.03 103,43.89 100,43.75 97,43.61 94,43.47 91,43.33 88,43.19 85,43.05 82,42.91 79,42.77 76,42.63 73,42.49 70,42.35 67,42.21 64,42.07 61,41.93 58,41.79 55,41.65 52,41.51 49,41.37 46,40.0196 43,25.9223 40,7.2772 37,-2" fill="#494949" filter="url(#bl6)"/><polygon points="40,-12 112,-12 112,31.8036 109,31.6902 106,31.5768 103,31.4634 100,31.35 97,31.2366 94,31.1232 91,31.0098 88,30.8964 85,30.783 82,30.6696 79,30.5562 76,30.4428 73,30.3294 70,30.216 67,30.1026 64,29.9892 61,29.8758 58,29.7624 55,29.649 52,29.5356 49,28.5424 46,18.2881 43,4.73821 40,-2" fill="#939393" filter="url(#bl4)"/><polygon points="43,-12 112,-12 112,21.3537 109,21.2653 106,21.1768 103,21.0884 100,21 97,20.9116 94,20.8232 91,20.7347 88,20.6463 85,20.5579 82,20.4695 79,20.3811 76,20.2926 73,20.2042 70,20.1158 67,20.0274 64,19.9389 61,19.8505 58,19.7621 55,19.6737 52,18.9809 49,11.93 46,2.62422 43,-2" fill="#f2f2f2" filter="url(#bl)"/></g>
<g transform="matrix(-2.0230 2.0320 0 1.0100 2486.10 122.60)" clip-path="url(#cs)"><rect x="-5" y="-5" width="110" height="110" fill="url(#v77)"/><ellipse cx="38" cy="52" rx="30" ry="32" fill="url(#r78)"/><rect x="48" y="-5" width="40" height="110" fill="url(#v79)" mask="url(#mR)"/><rect x="87.5" y="-5" width="18.5" height="110" fill="url(#v80)"/><ellipse cx="28" cy="36" rx="25" ry="46" fill="url(#r81)"/><ellipse cx="27" cy="31" rx="12" ry="25" fill="url(#r82)"/><polygon points="-8,12 4,12 4,110 -8,110" fill="#494949" filter="url(#bl)"/><polygon points="-8,-8 22,-8 14,14 -8,30" fill="#606060" filter="url(#bl4)"/><polygon points="-8,-8 12,-8 6,6 -8,10" fill="#9f9f9f" filter="url(#bl)"/><polygon points="43,-12 112,-12 112,13.65 109,13.65 106,13.65 103,13.65 100,13.65 97,15.05 94,16.45 91,17.85 88,19.25 85,20.65 82,22.05 79,23.45 76,24.85 73,26.25 70,27.65 67,29.05 64,30.45 61,31.85 58,33.25 55,34.65 52,36.05 49,27.2222 46,8.59074 43,-2" fill="#494949" filter="url(#bl6)"/><polygon points="46,-12 112,-12 112,8.13 109,8.13 106,8.13 103,8.13 100,8.13 97,9.27 94,10.41 91,11.55 88,12.69 85,13.83 82,14.97 79,16.11 76,17.25 73,18.39 70,19.53 67,20.67 64,21.81 61,22.95 58,24.09 55,25.23 52,19.0148 49,5.65074 46,-2" fill="#939393" filter="url(#bl4)"/><polygon points="49,-12 112,-12 112,3.8 109,3.8 106,3.8 103,3.8 100,3.8 97,4.69412 94,5.58824 91,6.48235 88,7.37647 85,8.27059 82,9.16471 79,10.0588 76,10.9529 73,11.8471 70,12.7412 67,13.6353 64,14.5294 61,15.4235 58,16.3176 55,12.2309 52,3.21264 49,-2" fill="#f2f2f2" filter="url(#bl)"/></g>
<g transform="matrix(-2.0230 2.0320 0 1.0100 2578.80 135.02)" clip-path="url(#cs)"><rect x="-5" y="-5" width="110" height="110" fill="url(#v83)"/><ellipse cx="38" cy="52" rx="30" ry="32" fill="url(#r84)"/><rect x="48" y="-5" width="40" height="110" fill="url(#v85)" mask="url(#mR)"/><rect x="87.5" y="-5" width="18.5" height="110" fill="url(#v86)"/><ellipse cx="28" cy="36.7" rx="25" ry="46" fill="url(#r87)"/><ellipse cx="27" cy="31.7" rx="12" ry="25" fill="url(#r88)"/><polygon points="-8,12 4,12 4,110 -8,110" fill="#494949" filter="url(#bl)"/><polygon points="-8,-8 22,-8 14,14 -8,30" fill="#606060" filter="url(#bl4)"/><polygon points="-8,-8 12,-8 6,6 -8,10" fill="#9f9f9f" filter="url(#bl)"/><polygon points="43,-12 112,-12 112,51.4868 109,51.3026 106,51.1184 103,50.9342 100,50.75 97,50.5658 94,50.3816 91,50.1974 88,50.0132 85,49.8289 82,49.6447 79,49.4605 76,49.2763 73,49.0921 70,48.9079 67,48.7237 64,48.5395 61,48.3553 58,48.1711 55,47.9868 52,46.4082 49,30.1527 46,8.67779 43,-2" fill="#494949" filter="url(#bl6)"/><polygon points="46,-12 112,-12 112,37.35 109,37.2 106,37.05 103,36.9 100,36.75 97,36.6 94,36.45 91,36.3 88,36.15 85,36 82,35.85 79,35.7 76,35.55 73,35.4 70,35.25 67,35.1 64,34.95 61,34.8 58,34.65 55,33.478 52,21.5548 49,5.8192 46,-2" fill="#939393" filter="url(#bl4)"/><polygon points="49,-12 112,-12 112,25.4706 109,25.3529 106,25.2353 103,25.1176 100,25 97,24.8824 94,24.7647 91,24.6471 88,24.5294 85,24.4118 82,24.2941 79,24.1765 76,24.0588 73,23.9412 70,23.8235 67,23.7059 64,23.5882 61,23.4706 58,22.6431 55,14.3525 52,3.42541 49,-2" fill="#f2f2f2" filter="url(#bl)"/></g>
<g transform="matrix(-2.0230 2.0320 0 1.0100 2671.50 147.43)" clip-path="url(#cs)"><rect x="-5" y="-5" width="110" height="110" fill="url(#v89)"/><ellipse cx="38" cy="52" rx="30" ry="32" fill="url(#r90)"/><rect x="48" y="-5" width="40" height="110" fill="url(#v91)" mask="url(#mR)"/><rect x="87.5" y="-5" width="18.5" height="110" fill="url(#v92)"/><ellipse cx="28" cy="37.4" rx="25" ry="46" fill="url(#r93)"/><ellipse cx="27" cy="32.4" rx="12" ry="25" fill="url(#r94)"/><polygon points="-8,12 4,12 4,110 -8,110" fill="#494949" filter="url(#bl)"/><polygon points="-8,-8 22,-8 14,14 -8,30" fill="#606060" filter="url(#bl4)"/><polygon points="-8,-8 12,-8 6,6 -8,10" fill="#9f9f9f" filter="url(#bl)"/><polygon points="43,-12 112,-12 112,51.4868 109,51.3026 106,51.1184 103,50.9342 100,50.75 97,50.5658 94,50.3816 91,50.1974 88,50.0132 85,49.8289 82,49.6447 79,49.4605 76,49.2763 73,49.0921 70,48.9079 67,48.7237 64,48.5395 61,48.3553 58,48.1711 55,47.9868 52,46.4082 49,30.1527 46,8.67779 43,-2" fill="#494949" filter="url(#bl6)"/><polygon points="46,-12 112,-12 112,37.35 109,37.2 106,37.05 103,36.9 100,36.75 97,36.6 94,36.45 91,36.3 88,36.15 85,36 82,35.85 79,35.7 76,35.55 73,35.4 70,35.25 67,35.1 64,34.95 61,34.8 58,34.65 55,33.478 52,21.5548 49,5.8192 46,-2" fill="#939393" filter="url(#bl4)"/><polygon points="49,-12 112,-12 112,25.4706 109,25.3529 106,25.2353 103,25.1176 100,25 97,24.8824 94,24.7647 91,24.6471 88,24.5294 85,24.4118 82,24.2941 79,24.1765 76,24.0588 73,23.9412 70,23.8235 67,23.7059 64,23.5882 61,23.4706 58,22.6431 55,14.3525 52,3.42541 49,-2" fill="#f2f2f2" filter="url(#bl)"/></g>
<g transform="matrix(-2.0230 2.0320 0 1.0100 2764.20 159.85)" clip-path="url(#cs)"><rect x="-5" y="-5" width="110" height="110" fill="url(#v95)"/><ellipse cx="38" cy="52" rx="30" ry="32" fill="url(#r96)"/><rect x="48" y="-5" width="40" height="110" fill="url(#v97)" mask="url(#mR)"/><rect x="87.5" y="-5" width="18.5" height="110" fill="url(#v98)"/><ellipse cx="28" cy="38.1" rx="25" ry="46" fill="url(#r99)"/><ellipse cx="27" cy="33.1" rx="12" ry="25" fill="url(#r100)"/><polygon points="-8,12 4,12 4,110 -8,110" fill="#494949" filter="url(#bl)"/><polygon points="-8,-8 22,-8 14,14 -8,30" fill="#606060" filter="url(#bl4)"/><polygon points="-8,-8 12,-8 6,6 -8,10" fill="#9f9f9f" filter="url(#bl)"/><polygon points="43,-12 112,-12 112,51.4868 109,51.3026 106,51.1184 103,50.9342 100,50.75 97,50.5658 94,50.3816 91,50.1974 88,50.0132 85,49.8289 82,49.6447 79,49.4605 76,49.2763 73,49.0921 70,48.9079 67,48.7237 64,48.5395 61,48.3553 58,48.1711 55,47.9868 52,46.4082 49,30.1527 46,8.67779 43,-2" fill="#494949" filter="url(#bl6)"/><polygon points="46,-12 112,-12 112,37.35 109,37.2 106,37.05 103,36.9 100,36.75 97,36.6 94,36.45 91,36.3 88,36.15 85,36 82,35.85 79,35.7 76,35.55 73,35.4 70,35.25 67,35.1 64,34.95 61,34.8 58,34.65 55,33.478 52,21.5548 49,5.8192 46,-2" fill="#939393" filter="url(#bl4)"/><polygon points="49,-12 112,-12 112,25.4706 109,25.3529 106,25.2353 103,25.1176 100,25 97,24.8824 94,24.7647 91,24.6471 88,24.5294 85,24.4118 82,24.2941 79,24.1765 76,24.0588 73,23.9412 70,23.8235 67,23.7059 64,23.5882 61,23.4706 58,22.6431 55,14.3525 52,3.42541 49,-2" fill="#f2f2f2" filter="url(#bl)"/></g>
<g transform="matrix(-2.0230 2.0320 0 1.0100 2856.90 172.27)" clip-path="url(#cs)"><rect x="-5" y="-5" width="110" height="110" fill="url(#v101)"/><ellipse cx="38" cy="52" rx="30" ry="32" fill="url(#r102)"/><rect x="48" y="-5" width="40" height="110" fill="url(#v103)" mask="url(#mR)"/><rect x="87.5" y="-5" width="18.5" height="110" fill="url(#v104)"/><ellipse cx="28" cy="38.8" rx="25" ry="46" fill="url(#r105)"/><ellipse cx="27" cy="33.8" rx="12" ry="25" fill="url(#r106)"/><polygon points="-8,12 4,12 4,110 -8,110" fill="#494949" filter="url(#bl)"/><polygon points="-8,-8 22,-8 14,14 -8,30" fill="#606060" filter="url(#bl4)"/><polygon points="-8,-8 12,-8 6,6 -8,10" fill="#9f9f9f" filter="url(#bl)"/><polygon points="43,-12 112,-12 112,53.2663 109,53.0747 106,52.8832 103,52.6916 100,52.5 97,52.3084 94,52.1168 91,51.9253 88,51.7337 85,51.5421 82,51.3505 79,51.1589 76,50.9674 73,50.7758 70,50.5842 67,50.3926 64,50.2011 61,50.0095 58,49.8179 55,49.6263 52,47.9946 49,31.2056 46,9.02714 43,-2" fill="#494949" filter="url(#bl6)"/><polygon points="46,-12 112,-12 112,38.724 109,38.568 106,38.412 103,38.256 100,38.1 97,37.944 94,37.788 91,37.632 88,37.476 85,37.32 82,37.164 79,37.008 76,36.852 73,36.696 70,36.54 67,36.384 64,36.228 61,36.072 58,35.916 55,34.7027 52,22.3674 49,6.08877 46,-2" fill="#939393" filter="url(#bl4)"/><polygon points="49,-12 112,-12 112,26.4894 109,26.3671 106,26.2447 103,26.1224 100,26 97,25.8776 94,25.7553 91,25.6329 88,25.5106 85,25.3882 82,25.2659 79,25.1435 76,25.0212 73,24.8988 70,24.7765 67,24.6541 64,24.5318 61,24.4094 58,23.551 55,14.9547 52,3.62515 49,-2" fill="#f2f2f2" filter="url(#bl)"/></g>
<g transform="matrix(-2.0230 2.0320 0 1.0100 2949.60 184.68)" clip-path="url(#cs)"><rect x="-5" y="-5" width="110" height="110" fill="url(#v107)"/><ellipse cx="38" cy="52" rx="30" ry="32" fill="url(#r108)"/><rect x="48" y="-5" width="40" height="110" fill="url(#v109)" mask="url(#mR)"/><rect x="87.5" y="-5" width="18.5" height="110" fill="url(#v110)"/><ellipse cx="28" cy="39.5" rx="25" ry="46" fill="url(#r111)"/><ellipse cx="27" cy="34.5" rx="12" ry="25" fill="url(#r112)"/><ellipse cx="22" cy="26.5" rx="2.6" ry="9" fill="url(#r113)"/><polygon points="-8,12 4,12 4,110 -8,110" fill="#494949" filter="url(#bl)"/><polygon points="-8,-8 22,-8 14,14 -8,30" fill="#606060" filter="url(#bl4)"/><polygon points="-8,-8 12,-8 6,6 -8,10" fill="#9f9f9f" filter="url(#bl)"/><polygon points="43,-12 112,-12 112,53.2663 109,53.0747 106,52.8832 103,52.6916 100,52.5 97,52.3084 94,52.1168 91,51.9253 88,51.7337 85,51.5421 82,51.3505 79,51.1589 76,50.9674 73,50.7758 70,50.5842 67,50.3926 64,50.2011 61,50.0095 58,49.8179 55,49.6263 52,47.9946 49,31.2056 46,9.02714 43,-2" fill="#494949" filter="url(#bl6)"/><polygon points="46,-12 112,-12 112,38.724 109,38.568 106,38.412 103,38.256 100,38.1 97,37.944 94,37.788 91,37.632 88,37.476 85,37.32 82,37.164 79,37.008 76,36.852 73,36.696 70,36.54 67,36.384 64,36.228 61,36.072 58,35.916 55,34.7027 52,22.3674 49,6.08877 46,-2" fill="#939393" filter="url(#bl4)"/><polygon points="49,-12 112,-12 112,26.4894 109,26.3671 106,26.2447 103,26.1224 100,26 97,25.8776 94,25.7553 91,25.6329 88,25.5106 85,25.3882 82,25.2659 79,25.1435 76,25.0212 73,24.8988 70,24.7765 67,24.6541 64,24.5318 61,24.4094 58,23.551 55,14.9547 52,3.62515 49,-2" fill="#f2f2f2" filter="url(#bl)"/></g>
<g transform="matrix(-2.0230 2.0320 0 1.0100 3042.30 197.10)" clip-path="url(#cs)"><rect x="-5" y="-5" width="110" height="110" fill="url(#v114)"/><ellipse cx="38" cy="52" rx="30" ry="32" fill="url(#r115)"/><rect x="48" y="-5" width="40" height="110" fill="url(#v116)" mask="url(#mR)"/><rect x="87.5" y="-5" width="18.5" height="110" fill="url(#v117)"/><ellipse cx="28" cy="40.2" rx="25" ry="46" fill="url(#r118)"/><ellipse cx="27" cy="35.2" rx="12" ry="25" fill="url(#r119)"/><ellipse cx="22" cy="27.2" rx="2.6" ry="9" fill="url(#r120)"/><polygon points="-8,12 4,12 4,110 -8,110" fill="#494949" filter="url(#bl)"/><polygon points="-8,-8 22,-8 14,14 -8,30" fill="#606060" filter="url(#bl4)"/><polygon points="-8,-8 12,-8 6,6 -8,10" fill="#9f9f9f" filter="url(#bl)"/><polygon points="43,-12 112,-12 112,46.1484 109,45.9863 106,45.8242 103,45.6621 100,45.5 97,45.3379 94,45.1758 91,45.0137 88,44.8516 85,44.6895 82,44.5274 79,44.3653 76,44.2032 73,44.0411 70,43.8789 67,43.7168 64,43.5547 61,43.3926 58,43.2305 55,43.0684 52,41.6489 49,26.9942 46,7.62973 43,-2" fill="#494949" filter="url(#bl6)"/><polygon points="46,-12 112,-12 112,33.228 109,33.096 106,32.964 103,32.832 100,32.7 97,32.568 94,32.436 91,32.304 88,32.172 85,32.04 82,31.908 79,31.776 76,31.644 73,31.512 70,31.38 67,31.248 64,31.116 61,30.984 58,30.852 55,29.8038 52,19.117 49,5.0105 46,-2" fill="#939393" filter="url(#bl4)"/><polygon points="49,-12 112,-12 112,22.4141 109,22.3106 106,22.2071 103,22.1035 100,22 97,21.8965 94,21.7929 91,21.6894 88,21.5859 85,21.4824 82,21.3788 79,21.2753 76,21.1718 73,21.0682 70,20.9647 67,20.8612 64,20.7576 61,20.6541 58,19.9192 55,12.5457 52,2.8262 49,-2" fill="#f2f2f2" filter="url(#bl)"/></g>
<g transform="matrix(-2.0230 2.0320 0 1.0100 365.90 843.20)" clip-path="url(#cs)"><rect x="-5" y="-5" width="110" height="110" fill="url(#v121)"/><rect x="42" y="-5" width="16" height="110" fill="url(#v122)" mask="url(#mR)"/><rect x="57.5" y="-5" width="48.5" height="110" fill="url(#v123)"/><ellipse cx="32" cy="34" rx="30" ry="52" fill="url(#r124)"/><ellipse cx="30" cy="26" rx="19" ry="27" fill="url(#r125)"/><ellipse cx="34" cy="18" rx="5" ry="9" fill="url(#r126)"/><polygon points="-8,-8 3.5,-8 3.5,110 -8,110" fill="#494949" filter="url(#bl)"/><polygon points="50,-12 112,-12 112,13.93 110,13.93 107,13.93 104,13.93 101,13.93 98,14.7188 95,15.902 92,17.0852 89,18.2684 86,19.4516 83,20.6348 80,21.818 77,23.0012 74,24.1844 71,25.3676 68,26.5508 65,27.734 62,28.9172 59,30.1004 56,26.083 53,8.90551 50,-2" fill="#494949" filter="url(#bl6)"/><polygon points="53,-12 112,-12 112,8.148 110,8.148 107,8.148 104,8.148 101,8.148 98,8.85404 95,9.91311 92,10.9722 89,12.0312 86,13.0903 83,14.1494 80,15.2084 77,16.2675 74,17.3266 71,18.3856 68,19.4447 65,20.5037 62,21.5628 59,18.7747 56,6.12561 53,-2" fill="#939393" filter="url(#bl4)"/><polygon points="55,-12 112,-12 112,3.4 109,3.4 106,3.4 103,3.4 100,3.4 97,4.30667 94,5.21333 91,6.12 88,7.02667 85,7.93333 82,8.84 79,9.74667 76,10.6533 73,11.56 70,12.4667 67,13.3733 64,14.28 61,12.5012 58,3.72484 55,-2" fill="#f2f2f2" filter="url(#bl)"/></g>
<g transform="matrix(-2.0230 2.0320 0 1.0100 458.60 855.62)" clip-path="url(#cs)"><rect x="-5" y="-5" width="110" height="110" fill="url(#v127)"/><rect x="42" y="-5" width="16" height="110" fill="url(#v128)" mask="url(#mR)"/><rect x="57.5" y="-5" width="48.5" height="110" fill="url(#v129)"/><ellipse cx="32" cy="34" rx="30" ry="52" fill="url(#r130)"/><ellipse cx="30" cy="26" rx="19" ry="27" fill="url(#r131)"/><ellipse cx="34" cy="18" rx="5" ry="9" fill="url(#r132)"/><polygon points="-8,-8 3.5,-8 3.5,110 -8,110" fill="#494949" filter="url(#bl)"/><polygon points="50,-12 112,-12 112,54.8131 110,53.9556 107,52.6613 104,51.3566 101,50.0411 98,48.7139 95,47.3741 92,46.0209 89,44.6531 86,43.2694 83,41.8683 80,40.448 77,39.0061 74,37.5399 71,36.0459 68,34.5194 65,32.9541 62,31.3408 59,29.6651 56,23.2295 53,6.85734 50,-2" fill="#494949" filter="url(#bl6)"/><polygon points="53,-12 112,-12 112,42.8216 110,42.0554 107,40.8984 104,39.7318 101,38.5548 98,37.3667 95,36.1666 92,34.9536 89,33.7266 86,32.484 83,31.2244 80,29.9458 77,28.6455 74,27.3206 71,25.9669 68,24.5788 65,23.148 62,21.662 59,16.6453 56,4.45661 53,-2" fill="#939393" filter="url(#bl4)"/><polygon points="55,-12 112,-12 112,31.9879 109,31.0039 106,30.0116 103,29.0105 100,28 97,26.9793 94,25.9476 91,24.904 88,23.8472 85,22.7758 82,21.6882 79,20.5824 76,19.4555 73,18.3041 70,17.1234 67,15.9065 64,14.6426 61,10.9199 58,2.38961 55,-2" fill="#f2f2f2" filter="url(#bl)"/></g>
<g transform="matrix(-2.0230 2.0320 0 1.0100 551.30 868.03)" clip-path="url(#cs)"><rect x="-5" y="-5" width="110" height="110" fill="url(#v133)"/><rect x="42" y="-5" width="16" height="110" fill="url(#v134)" mask="url(#mR)"/><rect x="57.5" y="-5" width="48.5" height="110" fill="url(#v135)"/><ellipse cx="30" cy="33" rx="30" ry="52" fill="url(#r136)"/><ellipse cx="28" cy="25" rx="19" ry="27" fill="url(#r137)"/><ellipse cx="32" cy="17" rx="5" ry="9" fill="url(#r138)"/><polygon points="-8,-8 3.5,-8 3.5,110 -8,110" fill="#494949" filter="url(#bl)"/><polygon points="50,-12 112,-12 112,77.7197 110,76.4334 107,74.4919 104,72.5349 101,70.5616 98,68.5708 95,66.5612 92,64.5314 89,62.4797 86,60.4042 83,58.3025 80,56.1719 77,54.0091 74,51.8099 71,49.5689 68,47.2791 65,44.9312 62,42.5112 59,39.9976 56,31.2036 53,9.54578 50,-2" fill="#494949" filter="url(#bl6)"/><polygon points="53,-12 112,-12 112,62.2324 110,61.0831 107,59.3476 104,57.5976 101,55.8321 98,54.05 95,52.2499 92,50.4305 89,48.5899 86,46.7261 83,44.8367 80,42.9186 77,40.9683 74,38.9809 71,36.9504 68,34.8682 65,32.7221 62,30.493 59,23.4367 56,6.73569 53,-2" fill="#939393" filter="url(#bl4)"/><polygon points="55,-12 112,-12 112,47.9819 109,46.5058 106,45.0174 103,43.5158 100,42 97,40.469 94,38.9215 91,37.356 88,35.7707 85,34.1637 82,32.5324 79,30.8735 76,29.1832 73,27.4562 70,25.6852 67,23.8598 64,21.9639 61,16.5361 58,4.26801 55,-2" fill="#f2f2f2" filter="url(#bl)"/></g>
<g transform="matrix(-2.0230 2.0320 0 1.0100 644.00 880.45)" clip-path="url(#cs)"><rect x="-5" y="-5" width="110" height="110" fill="url(#v139)"/><rect x="42" y="-5" width="16" height="110" fill="url(#v140)" mask="url(#mR)"/><rect x="57.5" y="-5" width="48.5" height="110" fill="url(#v141)"/><ellipse cx="29" cy="32" rx="30" ry="52" fill="url(#r142)"/><ellipse cx="27" cy="24" rx="19" ry="27" fill="url(#r143)"/><ellipse cx="31" cy="16" rx="5" ry="9" fill="url(#r144)"/><polygon points="-8,-8 3.5,-8 3.5,110 -8,110" fill="#494949" filter="url(#bl)"/><polygon points="50,-12 112,-12 112,90.8091 110,89.2779 107,86.9665 104,84.6368 101,82.2876 98,79.9176 95,77.5252 92,75.1088 89,72.6663 86,70.1954 83,67.6934 80,65.1571 77,62.5823 74,59.9641 71,57.2963 68,54.5704 65,51.7752 62,48.8942 59,45.9019 56,35.7602 53,11.082 50,-2" fill="#494949" filter="url(#bl6)"/><polygon points="53,-12 112,-12 112,73.3243 110,71.956 107,69.89 104,67.8067 101,65.7049 98,63.5833 95,61.4404 92,59.2744 89,57.0832 86,54.8644 83,52.6151 80,50.3317 77,48.0099 74,45.644 71,43.2267 68,40.7478 65,38.1929 62,35.5393 59,27.3175 56,8.03803 53,-2" fill="#939393" filter="url(#bl4)"/><polygon points="55,-12 112,-12 112,57.1213 109,55.3641 106,53.5921 103,51.8045 100,50 97,48.1774 94,46.3351 91,44.4714 88,42.5842 85,40.6711 82,38.729 79,36.7542 76,34.7419 73,32.6859 70,30.5776 67,28.4046 64,26.1475 61,19.7454 58,5.34138 55,-2" fill="#f2f2f2" filter="url(#bl)"/></g>
<g transform="matrix(-2.0230 2.0320 0 1.0100 736.70 892.87)" clip-path="url(#cs)"><rect x="-5" y="-5" width="110" height="110" fill="url(#v145)"/><rect x="42" y="-5" width="16" height="110" fill="url(#v146)" mask="url(#mR)"/><rect x="57.5" y="-5" width="48.5" height="110" fill="url(#v147)"/><ellipse cx="27" cy="30" rx="30" ry="52" fill="url(#r148)"/><ellipse cx="25" cy="22" rx="19" ry="27" fill="url(#r149)"/><ellipse cx="29" cy="14" rx="5" ry="9" fill="url(#r150)"/><polygon points="-8,-8 3.5,-8 3.5,110 -8,110" fill="#494949" filter="url(#bl)"/><polygon points="50,-12 112,-12 112,97.3539 110,95.7001 107,93.2038 104,90.6878 101,88.1506 98,85.591 95,83.0072 92,80.3975 89,77.7596 86,75.0911 83,72.3889 80,69.6496 77,66.8689 74,64.0412 71,61.16 68,58.216 65,55.1972 62,52.0858 59,48.854 56,38.0385 53,11.8502 50,-2" fill="#494949" filter="url(#bl6)"/><polygon points="53,-12 112,-12 112,78.8702 110,77.3925 107,75.1612 104,72.9112 101,70.6413 98,68.35 95,66.0356 92,63.6963 89,61.3298 86,58.9335 83,56.5043 80,54.0382 77,51.5307 74,48.9755 71,46.3648 68,43.6876 65,40.9284 62,38.0624 59,29.2579 56,8.6892 53,-2" fill="#939393" filter="url(#bl4)"/><polygon points="55,-12 112,-12 112,61.691 109,59.7932 106,57.8795 103,55.9488 100,54 97,52.0315 94,50.0419 91,48.0291 88,45.9909 85,43.9248 82,41.8273 79,39.6946 76,37.5213 73,35.3008 70,33.0238 67,30.6769 64,28.2393 61,21.35 58,5.87806 55,-2" fill="#f2f2f2" filter="url(#bl)"/></g>
<g transform="matrix(-2.0230 2.0320 0 1.0100 829.40 905.28)" clip-path="url(#cs)"><rect x="-5" y="-5" width="110" height="110" fill="url(#v151)"/><rect x="42" y="-5" width="16" height="110" fill="url(#v152)" mask="url(#mR)"/><rect x="57.5" y="-5" width="48.5" height="110" fill="url(#v153)"/><ellipse cx="23" cy="28" rx="30" ry="52" fill="url(#r154)"/><ellipse cx="21" cy="20" rx="19" ry="27" fill="url(#r155)"/><ellipse cx="25" cy="12" rx="5" ry="9" fill="url(#r156)"/><polygon points="-8,-8 3.5,-8 3.5,110 -8,110" fill="#535353" filter="url(#bl)"/><ellipse cx="42" cy="2" rx="7" ry="14" fill="url(#r157)"/><polygon points="50,-12 112,-12 112,97.3539 110,95.7001 107,93.2038 104,90.6878 101,88.1506 98,85.591 95,83.0072 92,80.3975 89,77.7596 86,75.0911 83,72.3889 80,69.6496 77,66.8689 74,64.0412 71,61.16 68,58.216 65,55.1972 62,52.0858 59,48.854 56,38.0385 53,11.8502 50,-2" fill="#494949" filter="url(#bl6)"/><polygon points="53,-12 112,-12 112,78.8702 110,77.3925 107,75.1612 104,72.9112 101,70.6413 98,68.35 95,66.0356 92,63.6963 89,61.3298 86,58.9335 83,56.5043 80,54.0382 77,51.5307 74,48.9755 71,46.3648 68,43.6876 65,40.9284 62,38.0624 59,29.2579 56,8.6892 53,-2" fill="#939393" filter="url(#bl4)"/><polygon points="55,-12 112,-12 112,61.691 109,59.7932 106,57.8795 103,55.9488 100,54 97,52.0315 94,50.0419 91,48.0291 88,45.9909 85,43.9248 82,41.8273 79,39.6946 76,37.5213 73,35.3008 70,33.0238 67,30.6769 64,28.2393 61,21.35 58,5.87806 55,-2" fill="#f2f2f2" filter="url(#bl)"/></g>
<g transform="matrix(-2.0230 2.0320 0 1.0100 922.10 917.70)" clip-path="url(#cs)"><rect x="-5" y="-5" width="110" height="110" fill="url(#v158)"/><rect x="42" y="-5" width="16" height="110" fill="url(#v159)" mask="url(#mR)"/><rect x="57.5" y="-5" width="48.5" height="110" fill="url(#v160)"/><ellipse cx="18" cy="25" rx="30" ry="52" fill="url(#r161)"/><ellipse cx="16" cy="17" rx="19" ry="27" fill="url(#r162)"/><ellipse cx="20" cy="9" rx="5" ry="9" fill="url(#r163)"/><polygon points="-8,-8 3.5,-8 3.5,110 -8,110" fill="#535353" filter="url(#bl)"/><ellipse cx="42" cy="2" rx="7" ry="14" fill="url(#r164)"/><polygon points="50,-12 112,-12 112,94.0815 110,92.489 107,90.0852 104,87.6623 101,85.2191 98,82.7543 95,80.2662 92,77.7531 89,75.2129 86,72.6433 83,70.0412 80,67.4033 77,64.7256 74,62.0027 71,59.2281 68,56.3932 65,53.4862 62,50.49 59,47.378 56,36.8994 53,11.4661 50,-2" fill="#494949" filter="url(#bl6)"/><polygon points="53,-12 112,-12 112,76.0972 110,74.6743 107,72.5256 104,70.359 101,68.1731 98,65.9667 95,63.738 92,61.4853 89,59.2065 86,56.8989 83,54.5597 80,52.185 77,49.7703 74,47.3097 71,44.7957 68,42.2177 65,39.5607 62,36.8008 59,28.2877 56,8.36361 53,-2" fill="#939393" filter="url(#bl4)"/><polygon points="55,-12 112,-12 112,59.4061 109,57.5786 106,55.7358 103,53.8767 100,52 97,50.1045 94,48.1885 91,46.2502 88,44.2876 85,42.2979 82,40.2782 79,38.2244 76,36.1316 73,33.9934 70,31.8007 67,29.5407 64,27.1934 61,20.5477 58,5.60972 55,-2" fill="#f2f2f2" filter="url(#bl)"/></g>
<g transform="matrix(-2.0230 2.0320 0 1.0100 1430.50 843.20)" clip-path="url(#cs)"><rect x="-5" y="-5" width="110" height="110" fill="url(#v165)"/><ellipse cx="38" cy="50" rx="34" ry="34" fill="url(#r166)"/><rect x="50" y="-5" width="40" height="110" fill="url(#v167)" mask="url(#mR)"/><rect x="89.5" y="-5" width="16.5" height="110" fill="url(#v168)"/><ellipse cx="23" cy="33" rx="21" ry="42" fill="url(#r169)"/><ellipse cx="22" cy="29" rx="9.45" ry="21" fill="url(#r170)"/><polygon points="-8,12 3.5,12 3.5,110 -8,110" fill="#434343" filter="url(#bl)"/><polygon points="-8,-8 20,-8 12,8 -8,14" fill="#d2d2d2" filter="url(#bl4)"/><polygon points="35,-12 112,-12 112,13.0375 110,13.0375 107,13.0375 104,13.0375 101,13.0375 98,14.0902 95,15.6692 92,17.2483 89,18.8273 86,20.4063 83,21.9854 80,23.5644 77,25.1435 74,26.7225 71,28.3015 68,29.8806 65,31.4596 62,33.0387 59,34.6177 56,36.1967 53,37.7758 50,39.3548 47,40.9338 44,42.5129 41,32.1422 38,10.3591 35,-2" fill="#494949" filter="url(#bl6)"/><polygon points="38,-12 112,-12 112,7.6575 110,7.6575 107,7.6575 104,7.6575 101,7.6575 98,8.50887 95,9.78593 92,11.063 89,12.34 86,13.6171 83,14.8942 80,16.1712 77,17.4483 74,18.7253 71,20.0024 68,21.2794 65,22.5565 62,23.8335 59,25.1106 56,26.3877 53,27.6647 50,28.9418 47,30.2188 44,22.8118 41,7.01521 38,-2" fill="#939393" filter="url(#bl4)"/><polygon points="41,-12 112,-12 112,3.45 110,3.45 107,3.45 104,3.45 101,3.45 98,4.11271 95,5.10678 92,6.10085 89,7.09492 86,8.08898 83,9.08305 80,10.0771 77,11.0712 74,12.0653 71,13.0593 68,14.0534 65,15.0475 62,16.0415 59,17.0356 56,18.0297 53,19.0237 50,20.0178 47,15.0458 44,4.22376 41,-2" fill="#f2f2f2" filter="url(#bl)"/></g>
<g transform="matrix(-2.0230 2.0320 0 1.0100 1523.20 855.62)" clip-path="url(#cs)"><rect x="-5" y="-5" width="110" height="110" fill="url(#v171)"/><ellipse cx="38" cy="50" rx="34" ry="34" fill="url(#r172)"/><rect x="50" y="-5" width="40" height="110" fill="url(#v173)" mask="url(#mR)"/><rect x="89.5" y="-5" width="16.5" height="110" fill="url(#v174)"/><ellipse cx="24" cy="33.8" rx="21" ry="42" fill="url(#r175)"/><ellipse cx="23" cy="29.8" rx="9.45" ry="21" fill="url(#r176)"/><polygon points="-8,12 3.5,12 3.5,110 -8,110" fill="#434343" filter="url(#bl)"/><polygon points="-8,-8 22,-8 15,12 -8,26" fill="#868686" filter="url(#bl4)"/><polygon points="35,-12 112,-12 112,40.7411 110,40.6592 107,40.5365 104,40.4137 101,40.2909 98,40.1682 95,40.0454 92,39.9226 89,39.7998 86,39.6771 83,39.5543 80,39.4315 77,39.3088 74,39.186 71,39.0632 68,38.9405 65,38.8177 62,38.6949 59,38.5722 56,38.4494 53,38.3266 50,38.2038 47,38.0811 44,36.8395 41,23.8134 38,6.57796 35,-2" fill="#494949" filter="url(#bl6)"/><polygon points="38,-12 112,-12 112,29.0472 110,28.981 107,28.8817 104,28.7824 101,28.6831 98,28.5838 95,28.4845 92,28.3852 89,28.2859 86,28.1866 83,28.0874 80,27.9881 77,27.8888 74,27.7895 71,27.6902 68,27.5909 65,27.4916 62,27.3923 59,27.293 56,27.1937 53,27.0945 50,26.9952 47,26.0868 44,16.6602 41,4.19861 38,-2" fill="#939393" filter="url(#bl4)"/><polygon points="41,-12 112,-12 112,19.3092 110,19.2576 107,19.1803 104,19.1031 101,19.0258 98,18.9485 95,18.8712 92,18.7939 89,18.7166 86,18.6393 83,18.562 80,18.4847 77,18.4075 74,18.3302 71,18.2529 68,18.1756 65,18.0983 62,18.021 59,17.9437 56,17.8664 53,17.7892 50,17.1599 47,10.7232 44,2.22437 41,-2" fill="#f2f2f2" filter="url(#bl)"/></g>
<g transform="matrix(-2.0230 2.0320 0 1.0100 1615.90 868.03)" clip-path="url(#cs)"><rect x="-5" y="-5" width="110" height="110" fill="url(#v177)"/><ellipse cx="38" cy="50" rx="34" ry="34" fill="url(#r178)"/><rect x="50" y="-5" width="40" height="110" fill="url(#v179)" mask="url(#mR)"/><rect x="89.5" y="-5" width="16.5" height="110" fill="url(#v180)"/><ellipse cx="25" cy="34.6" rx="21" ry="42" fill="url(#r181)"/><ellipse cx="24" cy="30.6" rx="9.45" ry="21" fill="url(#r182)"/><polygon points="-8,12 3.5,12 3.5,110 -8,110" fill="#434343" filter="url(#bl)"/><polygon points="-8,-8 22,-8 15,12 -8,26" fill="#868686" filter="url(#bl4)"/><polygon points="35,-12 112,-12 112,42.5169 110,42.4308 107,42.3015 104,42.1723 101,42.0431 98,41.9138 95,41.7846 92,41.6554 89,41.5262 86,41.3969 83,41.2677 80,41.1385 77,41.0092 74,40.88 71,40.7508 68,40.6215 65,40.4923 62,40.3631 59,40.2338 56,40.1046 53,39.9754 50,39.8462 47,39.7169 44,38.4232 41,24.8651 38,6.92711 35,-2" fill="#494949" filter="url(#bl6)"/><polygon points="38,-12 112,-12 112,30.4181 110,30.3484 107,30.2439 104,30.1394 101,30.0348 98,29.9303 95,29.8258 92,29.7213 89,29.6168 86,29.5123 83,29.4077 80,29.3032 77,29.1987 74,29.0942 71,28.9897 68,28.8852 65,28.7806 62,28.6761 59,28.5716 56,28.4671 53,28.3626 50,28.2581 47,27.3092 44,17.4718 41,4.46802 38,-2" fill="#939393" filter="url(#bl4)"/><polygon points="41,-12 112,-12 112,20.3254 110,20.2712 107,20.1898 104,20.1085 101,20.0271 98,19.9458 95,19.8644 92,19.7831 89,19.7017 86,19.6203 83,19.539 80,19.4576 77,19.3763 74,19.2949 71,19.2136 68,19.1322 65,19.0508 62,18.9695 59,18.8881 56,18.8068 53,18.7254 50,18.066 47,11.3246 44,2.42397 41,-2" fill="#f2f2f2" filter="url(#bl)"/></g>
<g transform="matrix(-2.0230 2.0320 0 1.0100 1708.60 880.45)" clip-path="url(#cs)"><rect x="-5" y="-5" width="110" height="110" fill="url(#v183)"/><ellipse cx="38" cy="50" rx="34" ry="34" fill="url(#r184)"/><rect x="50" y="-5" width="40" height="110" fill="url(#v185)" mask="url(#mR)"/><rect x="89.5" y="-5" width="16.5" height="110" fill="url(#v186)"/><ellipse cx="23" cy="35.4" rx="21" ry="42" fill="url(#r187)"/><ellipse cx="22" cy="31.4" rx="9.45" ry="21" fill="url(#r188)"/><polygon points="-8,12 3.5,12 3.5,110 -8,110" fill="#434343" filter="url(#bl)"/><polygon points="-8,-8 22,-8 15,12 -8,26" fill="#868686" filter="url(#bl4)"/><polygon points="35,-12 112,-12 112,42.5169 110,42.4308 107,42.3015 104,42.1723 101,42.0431 98,41.9138 95,41.7846 92,41.6554 89,41.5262 86,41.3969 83,41.2677 80,41.1385 77,41.0092 74,40.88 71,40.7508 68,40.6215 65,40.4923 62,40.3631 59,40.2338 56,40.1046 53,39.9754 50,39.8462 47,39.7169 44,38.4232 41,24.8651 38,6.92711 35,-2" fill="#494949" filter="url(#bl6)"/><polygon points="38,-12 112,-12 112,30.4181 110,30.3484 107,30.2439 104,30.1394 101,30.0348 98,29.9303 95,29.8258 92,29.7213 89,29.6168 86,29.5123 83,29.4077 80,29.3032 77,29.1987 74,29.0942 71,28.9897 68,28.8852 65,28.7806 62,28.6761 59,28.5716 56,28.4671 53,28.3626 50,28.2581 47,27.3092 44,17.4718 41,4.46802 38,-2" fill="#939393" filter="url(#bl4)"/><polygon points="41,-12 112,-12 112,20.3254 110,20.2712 107,20.1898 104,20.1085 101,20.0271 98,19.9458 95,19.8644 92,19.7831 89,19.7017 86,19.6203 83,19.539 80,19.4576 77,19.3763 74,19.2949 71,19.2136 68,19.1322 65,19.0508 62,18.9695 59,18.8881 56,18.8068 53,18.7254 50,18.066 47,11.3246 44,2.42397 41,-2" fill="#f2f2f2" filter="url(#bl)"/></g>
<g transform="matrix(-2.0230 2.0320 0 1.0100 1801.30 892.87)" clip-path="url(#cs)"><rect x="-5" y="-5" width="110" height="110" fill="url(#v189)"/><ellipse cx="38" cy="50" rx="34" ry="34" fill="url(#r190)"/><rect x="50" y="-5" width="40" height="110" fill="url(#v191)" mask="url(#mR)"/><rect x="89.5" y="-5" width="16.5" height="110" fill="url(#v192)"/><ellipse cx="24" cy="36.2" rx="21" ry="42" fill="url(#r193)"/><ellipse cx="23" cy="32.2" rx="9.45" ry="21" fill="url(#r194)"/><polygon points="-8,12 3.5,12 3.5,110 -8,110" fill="#434343" filter="url(#bl)"/><polygon points="-8,-8 22,-8 15,12 -8,26" fill="#868686" filter="url(#bl4)"/><polygon points="35,-12 112,-12 112,44.2928 110,44.2023 107,44.0666 104,43.9309 101,43.7952 98,43.6595 95,43.5238 92,43.3882 89,43.2525 86,43.1168 83,42.9811 80,42.8454 77,42.7097 74,42.574 71,42.4383 68,42.3026 65,42.1669 62,42.0312 59,41.8955 56,41.7598 53,41.6242 50,41.4885 47,41.3528 44,40.007 41,25.9167 38,7.27627 35,-2" fill="#494949" filter="url(#bl6)"/><polygon points="38,-12 112,-12 112,31.789 110,31.7158 107,31.6061 104,31.4963 101,31.3866 98,31.2768 95,31.1671 92,31.0574 89,30.9476 86,30.8379 83,30.7281 80,30.6184 77,30.5086 74,30.3989 71,30.2892 68,30.1794 65,30.0697 62,29.9599 59,29.8502 56,29.7405 53,29.6307 50,29.521 47,28.5317 44,18.2834 41,4.73742 38,-2" fill="#939393" filter="url(#bl4)"/><polygon points="41,-12 112,-12 112,21.3417 110,21.2847 107,21.1993 104,21.1139 101,21.0285 98,20.9431 95,20.8576 92,20.7722 89,20.6868 86,20.6014 83,20.5159 80,20.4305 77,20.3451 74,20.2597 71,20.1742 68,20.0888 65,20.0034 62,19.918 59,19.8325 56,19.7471 53,19.6617 50,18.9721 47,11.9261 44,2.62357 41,-2" fill="#f2f2f2" filter="url(#bl)"/></g>
<g transform="matrix(-2.0230 2.0320 0 1.0100 1894.00 905.28)" clip-path="url(#cs)"><rect x="-5" y="-5" width="110" height="110" fill="url(#v195)"/><ellipse cx="38" cy="50" rx="34" ry="34" fill="url(#r196)"/><rect x="50" y="-5" width="40" height="110" fill="url(#v197)" mask="url(#mR)"/><rect x="89.5" y="-5" width="16.5" height="110" fill="url(#v198)"/><ellipse cx="25" cy="37" rx="21" ry="42" fill="url(#r199)"/><ellipse cx="24" cy="33" rx="9.45" ry="21" fill="url(#r200)"/><polygon points="-8,12 3.5,12 3.5,110 -8,110" fill="#434343" filter="url(#bl)"/><polygon points="-8,-8 22,-8 15,12 -8,26" fill="#868686" filter="url(#bl4)"/><polygon points="35,-12 112,-12 112,46.0686 110,45.9738 107,45.8317 104,45.6895 101,45.5474 98,45.4052 95,45.2631 92,45.1209 89,44.9788 86,44.8366 83,44.6945 80,44.5523 77,44.4102 74,44.268 71,44.1258 68,43.9837 65,43.8415 62,43.6994 59,43.5572 56,43.4151 53,43.2729 50,43.1308 47,42.9886 44,41.5908 41,26.9684 38,7.62543 35,-2" fill="#494949" filter="url(#bl6)"/><polygon points="38,-12 112,-12 112,33.1599 110,33.0832 107,32.9683 104,32.8533 101,32.7383 98,32.6234 95,32.5084 92,32.3934 89,32.2785 86,32.1635 83,32.0485 80,31.9335 77,31.8186 74,31.7036 71,31.5886 68,31.4737 65,31.3587 62,31.2437 59,31.1288 56,31.0138 53,30.8988 50,30.7839 47,29.7542 44,19.095 41,5.00682 38,-2" fill="#939393" filter="url(#bl4)"/><polygon points="41,-12 112,-12 112,22.358 110,22.2983 107,22.2088 104,22.1193 101,22.0298 98,21.9403 95,21.8508 92,21.7614 89,21.6719 86,21.5824 83,21.4929 80,21.4034 77,21.3139 74,21.2244 71,21.1349 68,21.0454 65,20.9559 62,20.8664 59,20.7769 56,20.6875 53,20.598 50,19.8782 47,12.5275 44,2.82317 41,-2" fill="#f2f2f2" filter="url(#bl)"/></g>
<g transform="matrix(-2.0230 2.0320 0 1.0100 1986.70 917.70)" clip-path="url(#cs)"><rect x="-5" y="-5" width="110" height="110" fill="url(#v201)"/><ellipse cx="38" cy="50" rx="34" ry="34" fill="url(#r202)"/><rect x="50" y="-5" width="40" height="110" fill="url(#v203)" mask="url(#mR)"/><rect x="89.5" y="-5" width="16.5" height="110" fill="url(#v204)"/><ellipse cx="23" cy="37.8" rx="21" ry="42" fill="url(#r205)"/><ellipse cx="22" cy="33.8" rx="9.45" ry="21" fill="url(#r206)"/><ellipse cx="16" cy="23.8" rx="2.2" ry="7" fill="url(#r207)"/><polygon points="-8,12 3.5,12 3.5,110 -8,110" fill="#434343" filter="url(#bl)"/><polygon points="-8,-8 22,-8 15,12 -8,26" fill="#868686" filter="url(#bl4)"/><polygon points="35,-12 112,-12 112,42.5169 110,42.4308 107,42.3015 104,42.1723 101,42.0431 98,41.9138 95,41.7846 92,41.6554 89,41.5262 86,41.3969 83,41.2677 80,41.1385 77,41.0092 74,40.88 71,40.7508 68,40.6215 65,40.4923 62,40.3631 59,40.2338 56,40.1046 53,39.9754 50,39.8462 47,39.7169 44,38.4232 41,24.8651 38,6.92711 35,-2" fill="#494949" filter="url(#bl6)"/><polygon points="38,-12 112,-12 112,30.4181 110,30.3484 107,30.2439 104,30.1394 101,30.0348 98,29.9303 95,29.8258 92,29.7213 89,29.6168 86,29.5123 83,29.4077 80,29.3032 77,29.1987 74,29.0942 71,28.9897 68,28.8852 65,28.7806 62,28.6761 59,28.5716 56,28.4671 53,28.3626 50,28.2581 47,27.3092 44,17.4718 41,4.46802 38,-2" fill="#939393" filter="url(#bl4)"/><polygon points="41,-12 112,-12 112,20.3254 110,20.2712 107,20.1898 104,20.1085 101,20.0271 98,19.9458 95,19.8644 92,19.7831 89,19.7017 86,19.6203 83,19.539 80,19.4576 77,19.3763 74,19.2949 71,19.2136 68,19.1322 65,19.0508 62,18.9695 59,18.8881 56,18.8068 53,18.7254 50,18.066 47,11.3246 44,2.42397 41,-2" fill="#f2f2f2" filter="url(#bl)"/></g>
<g transform="matrix(-2.0230 2.0320 0 1.0100 2486.90 843.20)" clip-path="url(#cs)"><rect x="-5" y="-5" width="110" height="110" fill="url(#v208)"/><ellipse cx="40" cy="45" rx="28" ry="30" fill="url(#r209)"/><polygon points="-8,-8 40,-8 26,9 9,17 5,75 -8,85" fill="#474747" filter="url(#bl4)"/><polygon points="-8,-8 7,-8 3,22 -8,30" fill="#d9d9d9" filter="url(#bl)"/><ellipse cx="25" cy="38" rx="9" ry="20" fill="url(#r210)"/><polygon points="28,-12 112,-12 112,23.75 109,23.5625 106,23.375 103,23.1875 100,23 97,22.8125 94,22.625 91,22.4375 88,22.25 85,22.0625 82,21.875 79,21.6875 76,21.5 73,21.3125 70,21.125 67,20.9375 64,20.75 61,20.5625 58,20.375 55,20.1875 52,20 49,19.8125 46,19.625 43,19.4375 40,19.25 37,19.0625 34,17.7187 31,6.14231 28,-2" fill="#494949" filter="url(#bl6)"/><polygon points="31,-12 112,-12 112,15.6174 109,15.4755 106,15.3337 103,15.1918 100,15.05 97,14.9082 94,14.7663 91,14.6245 88,14.4826 85,14.3408 82,14.1989 79,14.0571 76,13.9152 73,13.7734 70,13.6315 67,13.4897 64,13.3478 61,13.206 58,13.0641 55,12.9223 52,12.7804 49,12.6386 46,12.4967 43,12.3549 40,12.213 37,11.2917 34,3.4824 31,-2" fill="#939393" filter="url(#bl4)"/><polygon points="34,-12 112,-12 112,9.40909 109,9.30682 106,9.20455 103,9.10227 100,9 97,8.89773 94,8.79545 91,8.69318 88,8.59091 85,8.48864 82,8.38636 79,8.28409 76,8.18182 73,8.07955 70,7.97727 67,7.875 64,7.77273 61,7.67045 58,7.56818 55,7.46591 52,7.36364 49,7.26136 46,7.15909 43,7.05682 40,6.45852 37,1.48413 34,-2" fill="#f2f2f2" filter="url(#bl)"/></g>
<g transform="matrix(-2.0230 2.0320 0 1.0100 2579.60 855.62)" clip-path="url(#cs)"><rect x="-5" y="-5" width="110" height="110" fill="url(#v211)"/><ellipse cx="40" cy="45" rx="28" ry="30" fill="url(#r212)"/><polygon points="-8,-8 40,-8 26,9 9,17 5,75 -8,85" fill="#474747" filter="url(#bl4)"/><polygon points="-8,-8 7,-8 3,22 -8,30" fill="#d9d9d9" filter="url(#bl)"/><polygon points="32,-12 112,-12 112,34.2353 110,34.0294 107,33.7206 104,33.4118 101,33.1029 98,32.7941 95,32.4853 92,32.1765 89,31.8676 86,31.5588 83,31.25 80,30.9412 77,30.6324 74,30.3235 71,30.0147 68,29.7059 65,29.3971 62,29.0882 59,28.7794 56,28.4706 53,28.1618 50,27.8529 47,27.5441 44,27.2353 41,26.9265 38,25.0324 35,9.14196 32,-2" fill="#494949" filter="url(#bl6)"/><polygon points="35,-12 112,-12 112,23.2369 110,23.0808 107,22.8465 104,22.6123 101,22.3781 98,22.1438 95,21.9096 92,21.6754 89,21.4412 86,21.2069 83,20.9727 80,20.7385 77,20.5042 74,20.27 71,20.0358 68,19.8015 65,19.5673 62,19.3331 59,19.0988 56,18.8646 53,18.6304 50,18.3962 47,18.1619 44,17.9277 41,16.6026 38,5.65888 35,-2" fill="#939393" filter="url(#bl4)"/><polygon points="38,-12 112,-12 112,14.6774 110,14.5645 107,14.3952 104,14.2258 101,14.0565 98,13.8871 95,13.7177 92,13.5484 89,13.379 86,13.2097 83,13.0403 80,12.871 77,12.7016 74,12.5323 71,12.3629 68,12.1935 65,12.0242 62,11.8548 59,11.6855 56,11.5161 53,11.3468 50,11.1774 47,11.0081 44,10.1275 41,2.98648 38,-2" fill="#f2f2f2" filter="url(#bl)"/></g>
<g transform="matrix(-2.0230 2.0320 0 1.0100 2672.30 868.03)" clip-path="url(#cs)"><rect x="-5" y="-5" width="110" height="110" fill="url(#v213)"/><ellipse cx="40" cy="45" rx="28" ry="30" fill="url(#r214)"/><polygon points="-8,-8 40,-8 26,9 9,17 5,75 -8,85" fill="#474747" filter="url(#bl4)"/><polygon points="-8,-8 7,-8 3,22 -8,30" fill="#d9d9d9" filter="url(#bl)"/><polygon points="32,-12 112,-12 112,35.2794 110,35.0662 107,34.7463 104,34.4265 101,34.1066 98,33.7868 95,33.4669 92,33.1471 89,32.8272 86,32.5074 83,32.1875 80,31.8676 77,31.5478 74,31.2279 71,30.9081 68,30.5882 65,30.2684 62,29.9485 59,29.6287 56,29.3088 53,28.989 50,28.6691 47,28.3493 44,28.0294 41,27.7096 38,25.7617 35,9.44149 32,-2" fill="#494949" filter="url(#bl6)"/><polygon points="35,-12 112,-12 112,23.9954 110,23.8337 107,23.5911 104,23.3485 101,23.1059 98,22.8633 95,22.6207 92,22.3781 89,22.1355 86,21.8929 83,21.6503 80,21.4077 77,21.1651 74,20.9225 71,20.6799 68,20.4373 65,20.1947 62,19.9521 59,19.7095 56,19.4669 53,19.2243 50,18.9817 47,18.7391 44,18.4965 41,17.132 38,5.87619 35,-2" fill="#939393" filter="url(#bl4)"/><polygon points="38,-12 112,-12 112,15.2016 110,15.0847 107,14.9093 104,14.7339 101,14.5585 98,14.3831 95,14.2077 92,14.0323 89,13.8569 86,13.6815 83,13.506 80,13.3306 77,13.1552 74,12.9798 71,12.8044 68,12.629 65,12.4536 62,12.2782 59,12.1028 56,11.9274 53,11.752 50,11.5766 47,11.4012 44,10.4932 41,3.13646 38,-2" fill="#f2f2f2" filter="url(#bl)"/></g>
<g transform="matrix(-2.0230 2.0320 0 1.0100 2765.00 880.45)" clip-path="url(#cs)"><rect x="-5" y="-5" width="110" height="110" fill="url(#v215)"/><ellipse cx="40" cy="45" rx="28" ry="30" fill="url(#r216)"/><polygon points="-8,-8 40,-8 26,9 9,17 5,75 -8,85" fill="#474747" filter="url(#bl4)"/><polygon points="-8,-8 7,-8 3,22 -8,30" fill="#d9d9d9" filter="url(#bl)"/><polygon points="32,-12 112,-12 112,36.3235 110,36.1029 107,35.7721 104,35.4412 101,35.1103 98,34.7794 95,34.4485 92,34.1176 89,33.7868 86,33.4559 83,33.125 80,32.7941 77,32.4632 74,32.1324 71,31.8015 68,31.4706 65,31.1397 62,30.8088 59,30.4779 56,30.1471 53,29.8162 50,29.4853 47,29.1544 44,28.8235 41,28.4926 38,26.491 35,9.74102 32,-2" fill="#494949" filter="url(#bl6)"/><polygon points="35,-12 112,-12 112,24.7538 110,24.5865 107,24.3356 104,24.0846 101,23.8337 98,23.5827 95,23.3317 92,23.0808 89,22.8298 86,22.5788 83,22.3279 80,22.0769 77,21.826 74,21.575 71,21.324 68,21.0731 65,20.8221 62,20.5712 59,20.3202 56,20.0692 53,19.8183 50,19.5673 47,19.3163 44,19.0654 41,17.6614 38,6.09349 35,-2" fill="#939393" filter="url(#bl4)"/><polygon points="38,-12 112,-12 112,15.7258 110,15.6048 107,15.4234 104,15.2419 101,15.0605 98,14.879 95,14.6976 92,14.5161 89,14.3347 86,14.1532 83,13.9718 80,13.7903 77,13.6089 74,13.4274 71,13.246 68,13.0645 65,12.8831 62,12.7016 59,12.5202 56,12.3387 53,12.1573 50,11.9758 47,11.7944 44,10.8588 41,3.28643 38,-2" fill="#f2f2f2" filter="url(#bl)"/></g>
<g transform="matrix(-2.0230 2.0320 0 1.0100 2857.70 892.87)" clip-path="url(#cs)"><rect x="-5" y="-5" width="110" height="110" fill="url(#v217)"/><ellipse cx="40" cy="45" rx="28" ry="30" fill="url(#r218)"/><polygon points="-8,-8 40,-8 26,9 9,17 5,75 -8,85" fill="#474747" filter="url(#bl4)"/><polygon points="-8,-8 7,-8 3,22 -8,30" fill="#d9d9d9" filter="url(#bl)"/><polygon points="32,-12 112,-12 112,36.3235 110,36.1029 107,35.7721 104,35.4412 101,35.1103 98,34.7794 95,34.4485 92,34.1176 89,33.7868 86,33.4559 83,33.125 80,32.7941 77,32.4632 74,32.1324 71,31.8015 68,31.4706 65,31.1397 62,30.8088 59,30.4779 56,30.1471 53,29.8162 50,29.4853 47,29.1544 44,28.8235 41,28.4926 38,26.491 35,9.74102 32,-2" fill="#494949" filter="url(#bl6)"/><polygon points="35,-12 112,-12 112,24.7538 110,24.5865 107,24.3356 104,24.0846 101,23.8337 98,23.5827 95,23.3317 92,23.0808 89,22.8298 86,22.5788 83,22.3279 80,22.0769 77,21.826 74,21.575 71,21.324 68,21.0731 65,20.8221 62,20.5712 59,20.3202 56,20.0692 53,19.8183 50,19.5673 47,19.3163 44,19.0654 41,17.6614 38,6.09349 35,-2" fill="#939393" filter="url(#bl4)"/><polygon points="38,-12 112,-12 112,15.7258 110,15.6048 107,15.4234 104,15.2419 101,15.0605 98,14.879 95,14.6976 92,14.5161 89,14.3347 86,14.1532 83,13.9718 80,13.7903 77,13.6089 74,13.4274 71,13.246 68,13.0645 65,12.8831 62,12.7016 59,12.5202 56,12.3387 53,12.1573 50,11.9758 47,11.7944 44,10.8588 41,3.28643 38,-2" fill="#f2f2f2" filter="url(#bl)"/></g>
<g transform="matrix(-2.0230 2.0320 0 1.0100 2950.40 905.28)" clip-path="url(#cs)"><rect x="-5" y="-5" width="110" height="110" fill="url(#v219)"/><ellipse cx="40" cy="45" rx="28" ry="30" fill="url(#r220)"/><polygon points="-8,-8 40,-8 26,9 9,17 5,75 -8,85" fill="#474747" filter="url(#bl4)"/><polygon points="-8,-8 7,-8 3,22 -8,30" fill="#d9d9d9" filter="url(#bl)"/><polygon points="32,-12 112,-12 112,37.3676 110,37.1397 107,36.7978 104,36.4559 101,36.114 98,35.7721 95,35.4301 92,35.0882 89,34.7463 86,34.4044 83,34.0625 80,33.7206 77,33.3787 74,33.0368 71,32.6949 68,32.3529 65,32.011 62,31.6691 59,31.3272 56,30.9853 53,30.6434 50,30.3015 47,29.9596 44,29.6176 41,29.2757 38,27.2203 35,10.0405 32,-2" fill="#494949" filter="url(#bl6)"/><polygon points="35,-12 112,-12 112,25.5123 110,25.3394 107,25.0801 104,24.8208 101,24.5614 98,24.3021 95,24.0428 92,23.7835 89,23.5241 86,23.2648 83,23.0055 80,22.7462 77,22.4868 74,22.2275 71,21.9682 68,21.7088 65,21.4495 62,21.1902 59,20.9309 56,20.6715 53,20.4122 50,20.1529 47,19.8936 44,19.6342 41,18.1909 38,6.3108 35,-2" fill="#939393" filter="url(#bl4)"/><polygon points="38,-12 112,-12 112,16.25 110,16.125 107,15.9375 104,15.75 101,15.5625 98,15.375 95,15.1875 92,15 89,14.8125 86,14.625 83,14.4375 80,14.25 77,14.0625 74,13.875 71,13.6875 68,13.5 65,13.3125 62,13.125 59,12.9375 56,12.75 53,12.5625 50,12.375 47,12.1875 44,11.2245 41,3.43641 38,-2" fill="#f2f2f2" filter="url(#bl)"/></g>
<g transform="matrix(-2.0230 2.0320 0 1.0100 3043.10 917.70)" clip-path="url(#cs)"><rect x="-5" y="-5" width="110" height="110" fill="url(#v221)"/><ellipse cx="40" cy="45" rx="28" ry="30" fill="url(#r222)"/><polygon points="-8,-8 40,-8 26,9 9,17 5,75 -8,85" fill="#474747" filter="url(#bl4)"/><polygon points="-8,-8 7,-8 3,22 -8,30" fill="#d9d9d9" filter="url(#bl)"/><polygon points="32,-12 112,-12 112,38.4118 110,38.1765 107,37.8235 104,37.4706 101,37.1176 98,36.7647 95,36.4118 92,36.0588 89,35.7059 86,35.3529 83,35 80,34.6471 77,34.2941 74,33.9412 71,33.5882 68,33.2353 65,32.8824 62,32.5294 59,32.1765 56,31.8235 53,31.4706 50,31.1176 47,30.7647 44,30.4118 41,30.0588 38,27.9496 35,10.3401 32,-2" fill="#494949" filter="url(#bl6)"/><polygon points="35,-12 112,-12 112,26.2708 110,26.0923 107,25.8246 104,25.5569 101,25.2892 98,25.0215 95,24.7538 92,24.4862 89,24.2185 86,23.9508 83,23.6831 80,23.4154 77,23.1477 74,22.88 71,22.6123 68,22.3446 65,22.0769 62,21.8092 59,21.5415 56,21.2738 53,21.0062 50,20.7385 47,20.4708 44,20.2031 41,18.7203 38,6.5281 35,-2" fill="#939393" filter="url(#bl4)"/><polygon points="38,-12 112,-12 112,16.7742 110,16.6452 107,16.4516 104,16.2581 101,16.0645 98,15.871 95,15.6774 92,15.4839 89,15.2903 86,15.0968 83,14.9032 80,14.7097 77,14.5161 74,14.3226 71,14.129 68,13.9355 65,13.7419 62,13.5484 59,13.3548 56,13.1613 53,12.9677 50,12.7742 47,12.5806 44,11.5901 41,3.58638 38,-2" fill="#f2f2f2" filter="url(#bl)"/></g>
</g>
<g stroke="#111" fill="none" stroke-linecap="butt"><line x1="365.7" y1="121.7" x2="365.7" y2="222.7" stroke-width="2"/><line x1="163.4" y1="425.9" x2="365.7" y2="222.7" stroke-width="2"/><line x1="163.4" y1="324.9" x2="365.7" y2="121.7" stroke-width="2.5"/><line x1="365.7" y1="121.7" x2="921.9" y2="196.2" stroke-width="2.5"/><line x1="719.6" y1="399.4" x2="921.9" y2="196.2" stroke-width="2.5"/><line x1="163.4" y1="324.9" x2="719.6" y2="399.4" stroke-width="2.6"/><line x1="163.4" y1="324.9" x2="163.4" y2="425.9" stroke-width="2.5"/><line x1="719.6" y1="399.4" x2="719.6" y2="500.4" stroke-width="2.5"/><line x1="921.9" y1="196.2" x2="921.9" y2="297.2" stroke-width="2.5"/><line x1="163.4" y1="425.9" x2="719.6" y2="500.4" stroke-width="2.6"/><line x1="719.6" y1="500.4" x2="921.9" y2="297.2" stroke-width="2.5"/><line x1="163.4" y1="324.9" x2="148.4" y2="322.9" stroke-width="2.2"/><line x1="163.4" y1="375.4" x2="148.4" y2="373.4" stroke-width="2.2"/><line x1="163.4" y1="425.9" x2="148.4" y2="423.9" stroke-width="2.2"/><line x1="163.4" y1="425.9" x2="152.8" y2="437.1" stroke-width="2.2"/><line x1="256.1" y1="438.3" x2="245.5" y2="449.5" stroke-width="2.2"/><line x1="348.8" y1="450.7" x2="338.2" y2="461.9" stroke-width="2.2"/><line x1="441.5" y1="463.1" x2="430.9" y2="474.3" stroke-width="2.2"/><line x1="534.2" y1="475.6" x2="523.6" y2="486.8" stroke-width="2.2"/><line x1="626.9" y1="488.0" x2="616.3" y2="499.2" stroke-width="2.2"/><line x1="719.6" y1="500.4" x2="709.0" y2="511.6" stroke-width="2.2"/><line x1="921.9" y1="297.2" x2="933.9" y2="299.2" stroke-width="2.2"/><line x1="825.6" y1="394.0" x2="837.6" y2="396.0" stroke-width="2.2"/><line x1="729.2" y1="490.7" x2="741.2" y2="492.7" stroke-width="2.2"/></g>
<line x1="327.5" y1="79.0" x2="116.0" y2="295.6" stroke="#222" stroke-width="2.2"/>
<polygon points="108.0,303.6 114.3,281.6 130.4,296.6" fill="#3558a8"/>
<g stroke="#111" fill="none" stroke-linecap="butt"><line x1="1429.9" y1="123.0" x2="1429.9" y2="224.0" stroke-width="2"/><line x1="1227.6" y1="427.2" x2="1429.9" y2="224.0" stroke-width="2"/><line x1="1227.6" y1="326.2" x2="1429.9" y2="123.0" stroke-width="2.5"/><line x1="1429.9" y1="123.0" x2="1986.1" y2="197.5" stroke-width="2.5"/><line x1="1783.8" y1="400.7" x2="1986.1" y2="197.5" stroke-width="2.5"/><line x1="1227.6" y1="326.2" x2="1783.8" y2="400.7" stroke-width="2.6"/><line x1="1227.6" y1="326.2" x2="1227.6" y2="427.2" stroke-width="2.5"/><line x1="1783.8" y1="400.7" x2="1783.8" y2="501.7" stroke-width="2.5"/><line x1="1986.1" y1="197.5" x2="1986.1" y2="298.5" stroke-width="2.5"/><line x1="1227.6" y1="427.2" x2="1783.8" y2="501.7" stroke-width="2.6"/><line x1="1783.8" y1="501.7" x2="1986.1" y2="298.5" stroke-width="2.5"/><line x1="1227.6" y1="326.2" x2="1212.6" y2="324.2" stroke-width="2.2"/><line x1="1227.6" y1="376.7" x2="1212.6" y2="374.7" stroke-width="2.2"/><line x1="1227.6" y1="427.2" x2="1212.6" y2="425.2" stroke-width="2.2"/><line x1="1227.6" y1="427.2" x2="1217.0" y2="438.4" stroke-width="2.2"/><line x1="1320.3" y1="439.6" x2="1309.7" y2="450.8" stroke-width="2.2"/><line x1="1413.0" y1="452.0" x2="1402.4" y2="463.2" stroke-width="2.2"/><line x1="1505.7" y1="464.4" x2="1495.1" y2="475.6" stroke-width="2.2"/><line x1="1598.4" y1="476.9" x2="1587.8" y2="488.1" stroke-width="2.2"/><line x1="1691.1" y1="489.3" x2="1680.5" y2="500.5" stroke-width="2.2"/><line x1="1783.8" y1="501.7" x2="1773.2" y2="512.9" stroke-width="2.2"/><line x1="1986.1" y1="298.5" x2="1998.1" y2="300.5" stroke-width="2.2"/><line x1="1889.8" y1="395.3" x2="1901.8" y2="397.3" stroke-width="2.2"/><line x1="1793.4" y1="492.0" x2="1805.4" y2="494.0" stroke-width="2.2"/></g>
<line x1="1414.0" y1="73.3" x2="1202.2" y2="293.1" stroke="#222" stroke-width="2.2"/>
<polygon points="1194.2,301.1 1200.5,279.1 1216.6,294.1" fill="#3558a8"/>
<g stroke="#111" fill="none" stroke-linecap="butt"><line x1="2486.1" y1="122.6" x2="2486.1" y2="223.6" stroke-width="2"/><line x1="2283.8" y1="426.8" x2="2486.1" y2="223.6" stroke-width="2"/><line x1="2283.8" y1="325.8" x2="2486.1" y2="122.6" stroke-width="2.5"/><line x1="2486.1" y1="122.6" x2="3042.3" y2="197.1" stroke-width="2.5"/><line x1="2840.0" y1="400.3" x2="3042.3" y2="197.1" stroke-width="2.5"/><line x1="2283.8" y1="325.8" x2="2840.0" y2="400.3" stroke-width="2.6"/><line x1="2283.8" y1="325.8" x2="2283.8" y2="426.8" stroke-width="2.5"/><line x1="2840.0" y1="400.3" x2="2840.0" y2="501.3" stroke-width="2.5"/><line x1="3042.3" y1="197.1" x2="3042.3" y2="298.1" stroke-width="2.5"/><line x1="2283.8" y1="426.8" x2="2840.0" y2="501.3" stroke-width="2.6"/><line x1="2840.0" y1="501.3" x2="3042.3" y2="298.1" stroke-width="2.5"/><line x1="2283.8" y1="325.8" x2="2268.8" y2="323.8" stroke-width="2.2"/><line x1="2283.8" y1="376.3" x2="2268.8" y2="374.3" stroke-width="2.2"/><line x1="2283.8" y1="426.8" x2="2268.8" y2="424.8" stroke-width="2.2"/><line x1="2283.8" y1="426.8" x2="2273.2" y2="438.0" stroke-width="2.2"/><line x1="2376.5" y1="439.2" x2="2365.9" y2="450.4" stroke-width="2.2"/><line x1="2469.2" y1="451.6" x2="2458.6" y2="462.8" stroke-width="2.2"/><line x1="2561.9" y1="464.1" x2="2551.3" y2="475.2" stroke-width="2.2"/><line x1="2654.6" y1="476.5" x2="2644.0" y2="487.7" stroke-width="2.2"/><line x1="2747.3" y1="488.9" x2="2736.7" y2="500.1" stroke-width="2.2"/><line x1="2840.0" y1="501.3" x2="2829.4" y2="512.5" stroke-width="2.2"/><line x1="3042.3" y1="298.1" x2="3054.3" y2="300.1" stroke-width="2.2"/><line x1="2946.0" y1="394.9" x2="2958.0" y2="396.9" stroke-width="2.2"/><line x1="2849.6" y1="491.6" x2="2861.6" y2="493.6" stroke-width="2.2"/></g>
<line x1="2476.5" y1="70.8" x2="2264.6" y2="287.7" stroke="#222" stroke-width="2.2"/>
<polygon points="2256.6,295.7 2262.9,273.7 2279.0,288.7" fill="#3558a8"/>
<g stroke="#111" fill="none" stroke-linecap="butt"><line x1="365.9" y1="843.2" x2="365.9" y2="944.2" stroke-width="2"/><line x1="163.6" y1="1147.4" x2="365.9" y2="944.2" stroke-width="2"/><line x1="163.6" y1="1046.4" x2="365.9" y2="843.2" stroke-width="2.5"/><line x1="365.9" y1="843.2" x2="922.1" y2="917.7" stroke-width="2.5"/><line x1="719.8" y1="1120.9" x2="922.1" y2="917.7" stroke-width="2.5"/><line x1="163.6" y1="1046.4" x2="719.8" y2="1120.9" stroke-width="2.6"/><line x1="163.6" y1="1046.4" x2="163.6" y2="1147.4" stroke-width="2.5"/><line x1="719.8" y1="1120.9" x2="719.8" y2="1221.9" stroke-width="2.5"/><line x1="922.1" y1="917.7" x2="922.1" y2="1018.7" stroke-width="2.5"/><line x1="163.6" y1="1147.4" x2="719.8" y2="1221.9" stroke-width="2.6"/><line x1="719.8" y1="1221.9" x2="922.1" y2="1018.7" stroke-width="2.5"/><line x1="163.6" y1="1046.4" x2="148.6" y2="1044.4" stroke-width="2.2"/><line x1="163.6" y1="1096.9" x2="148.6" y2="1094.9" stroke-width="2.2"/><line x1="163.6" y1="1147.4" x2="148.6" y2="1145.4" stroke-width="2.2"/><line x1="163.6" y1="1147.4" x2="153.0" y2="1158.6" stroke-width="2.2"/><line x1="256.3" y1="1159.8" x2="245.7" y2="1171.0" stroke-width="2.2"/><line x1="349.0" y1="1172.2" x2="338.4" y2="1183.4" stroke-width="2.2"/><line x1="441.7" y1="1184.7" x2="431.1" y2="1195.9" stroke-width="2.2"/><line x1="534.4" y1="1197.1" x2="523.8" y2="1208.3" stroke-width="2.2"/><line x1="627.1" y1="1209.5" x2="616.5" y2="1220.7" stroke-width="2.2"/><line x1="719.8" y1="1221.9" x2="709.2" y2="1233.1" stroke-width="2.2"/><line x1="922.1" y1="1018.7" x2="934.1" y2="1020.7" stroke-width="2.2"/><line x1="825.8" y1="1115.5" x2="837.8" y2="1117.5" stroke-width="2.2"/><line x1="729.4" y1="1212.2" x2="741.4" y2="1214.2" stroke-width="2.2"/></g>
<line x1="335.4" y1="798.3" x2="123.5" y2="1015.1" stroke="#222" stroke-width="2.2"/>
<polygon points="115.5,1023.1 121.8,1001.1 137.9,1016.1" fill="#3558a8"/>
<g stroke="#111" fill="none" stroke-linecap="butt"><line x1="1430.5" y1="843.2" x2="1430.5" y2="944.2" stroke-width="2"/><line x1="1228.2" y1="1147.4" x2="1430.5" y2="944.2" stroke-width="2"/><line x1="1228.2" y1="1046.4" x2="1430.5" y2="843.2" stroke-width="2.5"/><line x1="1430.5" y1="843.2" x2="1986.7" y2="917.7" stroke-width="2.5"/><line x1="1784.4" y1="1120.9" x2="1986.7" y2="917.7" stroke-width="2.5"/><line x1="1228.2" y1="1046.4" x2="1784.4" y2="1120.9" stroke-width="2.6"/><line x1="1228.2" y1="1046.4" x2="1228.2" y2="1147.4" stroke-width="2.5"/><line x1="1784.4" y1="1120.9" x2="1784.4" y2="1221.9" stroke-width="2.5"/><line x1="1986.7" y1="917.7" x2="1986.7" y2="1018.7" stroke-width="2.5"/><line x1="1228.2" y1="1147.4" x2="1784.4" y2="1221.9" stroke-width="2.6"/><line x1="1784.4" y1="1221.9" x2="1986.7" y2="1018.7" stroke-width="2.5"/><line x1="1228.2" y1="1046.4" x2="1213.2" y2="1044.4" stroke-width="2.2"/><line x1="1228.2" y1="1096.9" x2="1213.2" y2="1094.9" stroke-width="2.2"/><line x1="1228.2" y1="1147.4" x2="1213.2" y2="1145.4" stroke-width="2.2"/><line x1="1228.2" y1="1147.4" x2="1217.6" y2="1158.6" stroke-width="2.2"/><line x1="1320.9" y1="1159.8" x2="1310.3" y2="1171.0" stroke-width="2.2"/><line x1="1413.6" y1="1172.2" x2="1403.0" y2="1183.4" stroke-width="2.2"/><line x1="1506.3" y1="1184.7" x2="1495.7" y2="1195.9" stroke-width="2.2"/><line x1="1599.0" y1="1197.1" x2="1588.4" y2="1208.3" stroke-width="2.2"/><line x1="1691.7" y1="1209.5" x2="1681.1" y2="1220.7" stroke-width="2.2"/><line x1="1784.4" y1="1221.9" x2="1773.8" y2="1233.1" stroke-width="2.2"/><line x1="1986.7" y1="1018.7" x2="1998.7" y2="1020.7" stroke-width="2.2"/><line x1="1890.4" y1="1115.5" x2="1902.4" y2="1117.5" stroke-width="2.2"/><line x1="1794.0" y1="1212.2" x2="1806.0" y2="1214.2" stroke-width="2.2"/></g>
<line x1="1399.1" y1="795.8" x2="1187.3" y2="1011.4" stroke="#222" stroke-width="2.2"/>
<polygon points="1179.3,1019.4 1185.6,997.4 1201.7,1012.4" fill="#3558a8"/>
<g stroke="#111" fill="none" stroke-linecap="butt"><line x1="2486.9" y1="843.2" x2="2486.9" y2="944.2" stroke-width="2"/><line x1="2284.6" y1="1147.4" x2="2486.9" y2="944.2" stroke-width="2"/><line x1="2284.6" y1="1046.4" x2="2486.9" y2="843.2" stroke-width="2.5"/><line x1="2486.9" y1="843.2" x2="3043.1" y2="917.7" stroke-width="2.5"/><line x1="2840.8" y1="1120.9" x2="3043.1" y2="917.7" stroke-width="2.5"/><line x1="2284.6" y1="1046.4" x2="2840.8" y2="1120.9" stroke-width="2.6"/><line x1="2284.6" y1="1046.4" x2="2284.6" y2="1147.4" stroke-width="2.5"/><line x1="2840.8" y1="1120.9" x2="2840.8" y2="1221.9" stroke-width="2.5"/><line x1="3043.1" y1="917.7" x2="3043.1" y2="1018.7" stroke-width="2.5"/><line x1="2284.6" y1="1147.4" x2="2840.8" y2="1221.9" stroke-width="2.6"/><line x1="2840.8" y1="1221.9" x2="3043.1" y2="1018.7" stroke-width="2.5"/><line x1="2284.6" y1="1046.4" x2="2269.6" y2="1044.4" stroke-width="2.2"/><line x1="2284.6" y1="1096.9" x2="2269.6" y2="1094.9" stroke-width="2.2"/><line x1="2284.6" y1="1147.4" x2="2269.6" y2="1145.4" stroke-width="2.2"/><line x1="2284.6" y1="1147.4" x2="2274.0" y2="1158.6" stroke-width="2.2"/><line x1="2377.3" y1="1159.8" x2="2366.7" y2="1171.0" stroke-width="2.2"/><line x1="2470.0" y1="1172.2" x2="2459.4" y2="1183.4" stroke-width="2.2"/><line x1="2562.7" y1="1184.7" x2="2552.1" y2="1195.9" stroke-width="2.2"/><line x1="2655.4" y1="1197.1" x2="2644.8" y2="1208.3" stroke-width="2.2"/><line x1="2748.1" y1="1209.5" x2="2737.5" y2="1220.7" stroke-width="2.2"/><line x1="2840.8" y1="1221.9" x2="2830.2" y2="1233.1" stroke-width="2.2"/><line x1="3043.1" y1="1018.7" x2="3055.1" y2="1020.7" stroke-width="2.2"/><line x1="2946.8" y1="1115.5" x2="2958.8" y2="1117.5" stroke-width="2.2"/><line x1="2850.4" y1="1212.2" x2="2862.4" y2="1214.2" stroke-width="2.2"/></g>
<line x1="2480.2" y1="789.6" x2="2268.4" y2="1006.4" stroke="#222" stroke-width="2.2"/>
<polygon points="2260.4,1014.4 2266.7,992.4 2282.8,1007.4" fill="#4a4ec0"/>
<g>
<text x="144.0" y="342.0" font-size="51.8" text-anchor="end">0</text><text x="144.0" y="390.5" font-size="51.8" text-anchor="end">50</text><text x="144.0" y="439.0" font-size="51.8" text-anchor="end">100</text><text transform="translate(53.4 380.9) rotate(-90)" font-size="51.8" text-anchor="middle"><tspan font-style="italic">Z</tspan>/m</text><text x="145.3" y="482.5" font-size="51.8" text-anchor="middle">90</text><text x="237.8" y="494.6" font-size="51.8" text-anchor="middle">80</text><text x="330.3" y="506.7" font-size="51.8" text-anchor="middle">70</text><text x="422.8" y="518.8" font-size="51.8" text-anchor="middle">60</text><text x="515.3" y="530.9" font-size="51.8" text-anchor="middle">50</text><text x="607.8" y="543.0" font-size="51.8" text-anchor="middle">40</text><text x="700.3" y="555.1" font-size="51.8" text-anchor="middle">30</text><text x="367.6" y="574.4" font-size="51.8"><tspan font-style="italic">Y</tspan>/m</text><text x="937.0" y="319.2" font-size="51.8" text-anchor="start">300</text><text x="844.6" y="424.0" font-size="51.8" text-anchor="start">400</text><text x="749.8" y="518.4" font-size="51.8" text-anchor="start">500</text><text transform="translate(941.4 483.9) rotate(-50)" font-size="51.8" text-anchor="middle"><tspan font-style="italic">X</tspan>/m</text><text transform="translate(79.2 295.1) rotate(-44.9)" font-size="51.6" font-weight="300" font-family="'Liberation Serif','Noto Serif CJK SC',serif">工作面推进方向</text><text x="405.2" y="650.2" font-size="52" text-anchor="middle">(a) 2019-09-08, 13:04</text>
<text x="1204.7" y="340.7" font-size="51.8" text-anchor="end">0</text><text x="1204.7" y="389.2" font-size="51.8" text-anchor="end">50</text><text x="1204.7" y="437.7" font-size="51.8" text-anchor="end">100</text><text transform="translate(1110.7 379.1) rotate(-90)" font-size="51.8" text-anchor="middle"><tspan font-style="italic">Z</tspan>/m</text><text x="1212.8" y="482.2" font-size="51.8" text-anchor="middle">90</text><text x="1305.3" y="494.3" font-size="51.8" text-anchor="middle">80</text><text x="1397.8" y="506.4" font-size="51.8" text-anchor="middle">70</text><text x="1490.3" y="518.5" font-size="51.8" text-anchor="middle">60</text><text x="1582.8" y="530.6" font-size="51.8" text-anchor="middle">50</text><text x="1675.3" y="542.7" font-size="51.8" text-anchor="middle">40</text><text x="1767.8" y="554.8" font-size="51.8" text-anchor="middle">30</text><text x="1434.5" y="572.6" font-size="51.8"><tspan font-style="italic">Y</tspan>/m</text><text x="1998.2" y="322.8" font-size="51.8" text-anchor="start">300</text><text x="1905.8" y="427.6" font-size="51.8" text-anchor="start">400</text><text x="1811.0" y="522.0" font-size="51.8" text-anchor="start">500</text><text transform="translate(2004.6 488.7) rotate(-50)" font-size="51.8" text-anchor="middle"><tspan font-style="italic">X</tspan>/m</text><text transform="translate(1146.7 297.6) rotate(-44.9)" font-size="51.6" font-weight="300" font-family="'Liberation Serif','Noto Serif CJK SC',serif">工作面推进方向</text><text x="1471.7" y="650.2" font-size="52" text-anchor="middle">(b) 2019-09-09, 21:41</text>
<text x="2256.0" y="340.9" font-size="51.8" text-anchor="end">0</text><text x="2256.0" y="389.4" font-size="51.8" text-anchor="end">50</text><text x="2256.0" y="437.9" font-size="51.8" text-anchor="end">100</text><text transform="translate(2167.0 379.4) rotate(-90)" font-size="51.8" text-anchor="middle"><tspan font-style="italic">Z</tspan>/m</text><text x="2272.0" y="483.0" font-size="51.8" text-anchor="middle">90</text><text x="2364.5" y="495.1" font-size="51.8" text-anchor="middle">80</text><text x="2457.0" y="507.2" font-size="51.8" text-anchor="middle">70</text><text x="2549.5" y="519.3" font-size="51.8" text-anchor="middle">60</text><text x="2642.0" y="531.4" font-size="51.8" text-anchor="middle">50</text><text x="2734.5" y="543.5" font-size="51.8" text-anchor="middle">40</text><text x="2827.0" y="555.6" font-size="51.8" text-anchor="middle">30</text><text x="2495.3" y="575.7" font-size="51.8"><tspan font-style="italic">Y</tspan>/m</text><text x="3057.9" y="322.1" font-size="51.8" text-anchor="start">300</text><text x="2965.5" y="426.9" font-size="51.8" text-anchor="start">400</text><text x="2870.7" y="521.3" font-size="51.8" text-anchor="start">500</text><text transform="translate(3063.8 486.8) rotate(-50)" font-size="51.8" text-anchor="middle"><tspan font-style="italic">X</tspan>/m</text><text transform="translate(2206.7 297.6) rotate(-44.9)" font-size="51.6" font-weight="300" font-family="'Liberation Serif','Noto Serif CJK SC',serif">工作面推进方向</text><text x="2529.5" y="650.2" font-size="52" text-anchor="middle">(c) 2019-09-09, 23:07</text>
<text x="144.4" y="1064.4" font-size="51.8" text-anchor="end">0</text><text x="144.4" y="1112.9" font-size="51.8" text-anchor="end">50</text><text x="144.4" y="1161.4" font-size="51.8" text-anchor="end">100</text><text transform="translate(54.0 1101.9) rotate(-90)" font-size="51.8" text-anchor="middle"><tspan font-style="italic">Z</tspan>/m</text><text x="144.6" y="1203.8" font-size="51.8" text-anchor="middle">90</text><text x="237.1" y="1215.9" font-size="51.8" text-anchor="middle">80</text><text x="329.6" y="1228.0" font-size="51.8" text-anchor="middle">70</text><text x="422.1" y="1240.1" font-size="51.8" text-anchor="middle">60</text><text x="514.6" y="1252.2" font-size="51.8" text-anchor="middle">50</text><text x="607.1" y="1264.3" font-size="51.8" text-anchor="middle">40</text><text x="699.6" y="1276.4" font-size="51.8" text-anchor="middle">30</text><text x="367.9" y="1296.1" font-size="51.8"><tspan font-style="italic">Y</tspan>/m</text><text x="936.2" y="1040.7" font-size="51.8" text-anchor="start">300</text><text x="843.8" y="1145.5" font-size="51.8" text-anchor="start">400</text><text x="749.0" y="1239.9" font-size="51.8" text-anchor="start">500</text><text transform="translate(941.6 1205.4) rotate(-50)" font-size="51.8" text-anchor="middle"><tspan font-style="italic">X</tspan>/m</text><text transform="translate(87.9 1012.6) rotate(-44.9)" font-size="51.6" font-weight="300" font-family="'Liberation Serif','Noto Serif CJK SC',serif">工作面推进方向</text><text x="404.7" y="1362.0" font-size="52" text-anchor="middle">(d) 2019-09-10, 3:25</text>
<text x="1205.7" y="1063.7" font-size="51.8" text-anchor="end">0</text><text x="1205.7" y="1112.2" font-size="51.8" text-anchor="end">50</text><text x="1205.7" y="1160.7" font-size="51.8" text-anchor="end">100</text><text transform="translate(1115.3 1100.7) rotate(-90)" font-size="51.8" text-anchor="middle"><tspan font-style="italic">Z</tspan>/m</text><text x="1206.2" y="1203.0" font-size="51.8" text-anchor="middle">90</text><text x="1298.7" y="1215.1" font-size="51.8" text-anchor="middle">80</text><text x="1391.2" y="1227.2" font-size="51.8" text-anchor="middle">70</text><text x="1483.7" y="1239.3" font-size="51.8" text-anchor="middle">60</text><text x="1576.2" y="1251.4" font-size="51.8" text-anchor="middle">50</text><text x="1668.7" y="1263.5" font-size="51.8" text-anchor="middle">40</text><text x="1761.2" y="1275.6" font-size="51.8" text-anchor="middle">30</text><text x="1427.1" y="1294.6" font-size="51.8"><tspan font-style="italic">Y</tspan>/m</text><text x="1998.3" y="1039.9" font-size="51.8" text-anchor="start">300</text><text x="1905.9" y="1144.7" font-size="51.8" text-anchor="start">400</text><text x="1811.1" y="1239.1" font-size="51.8" text-anchor="start">500</text><text transform="translate(2005.2 1205.4) rotate(-50)" font-size="51.8" text-anchor="middle"><tspan font-style="italic">X</tspan>/m</text><text transform="translate(1136.8 1025.1) rotate(-44.9)" font-size="51.6" font-weight="300" font-family="'Liberation Serif','Noto Serif CJK SC',serif">工作面推进方向</text><text x="1474.2" y="1362.0" font-size="52" text-anchor="middle">(e) 2019-09-10, 7:44</text>
<text x="2262.6" y="1063.7" font-size="51.8" text-anchor="end">0</text><text x="2262.6" y="1112.2" font-size="51.8" text-anchor="end">50</text><text x="2262.6" y="1160.7" font-size="51.8" text-anchor="end">100</text><text transform="translate(2173.2 1100.4) rotate(-90)" font-size="51.8" text-anchor="middle"><tspan font-style="italic">Z</tspan>/m</text><text x="2263.1" y="1203.0" font-size="51.8" text-anchor="middle">90</text><text x="2355.6" y="1215.1" font-size="51.8" text-anchor="middle">80</text><text x="2448.1" y="1227.2" font-size="51.8" text-anchor="middle">70</text><text x="2540.6" y="1239.3" font-size="51.8" text-anchor="middle">60</text><text x="2633.1" y="1251.4" font-size="51.8" text-anchor="middle">50</text><text x="2725.6" y="1263.5" font-size="51.8" text-anchor="middle">40</text><text x="2818.1" y="1275.6" font-size="51.8" text-anchor="middle">30</text><text x="2486.3" y="1294.6" font-size="51.8"><tspan font-style="italic">Y</tspan>/m</text><text x="3054.9" y="1040.1" font-size="51.8" text-anchor="start">300</text><text x="2962.5" y="1144.9" font-size="51.8" text-anchor="start">400</text><text x="2867.7" y="1239.3" font-size="51.8" text-anchor="start">500</text><text transform="translate(3061.6 1205.4) rotate(-50)" font-size="51.8" text-anchor="middle"><tspan font-style="italic">X</tspan>/m</text><text transform="translate(2217.9 1012.6) rotate(-44.9)" font-size="51.6" font-weight="300" font-family="'Liberation Serif','Noto Serif CJK SC',serif">工作面推进方向</text><text x="2530.7" y="1362.0" font-size="52" text-anchor="middle">(f) 2019-09-14, 15:39</text>
</g>
<g>
<rect x="924.2" y="1409.0" width="20.7" height="87.5" fill="#3F4FA5"/>
<rect x="944.3" y="1409.0" width="5.6" height="87.5" fill="#3356AA"/>
<rect x="949.3" y="1409.0" width="9.0" height="87.5" fill="#2F7FC0"/>
<rect x="957.7" y="1409.0" width="10.6" height="87.5" fill="#63B4DA"/>
<rect x="967.7" y="1409.0" width="10.6" height="87.5" fill="#72C2E2"/>
<rect x="977.8" y="1409.0" width="32.4" height="87.5" fill="#6CC5A5"/>
<rect x="1009.6" y="1409.0" width="32.4" height="87.5" fill="#6FC890"/>
<rect x="1041.4" y="1409.0" width="7.3" height="87.5" fill="#6FCB6B"/>
<rect x="1048.1" y="1409.0" width="24.0" height="87.5" fill="#52BA48"/>
<rect x="1071.5" y="1409.0" width="80.9" height="87.5" fill="#56C527"/>
<rect x="1151.8" y="1409.0" width="17.3" height="87.5" fill="#7DB52A"/>
<rect x="1168.6" y="1409.0" width="47.5" height="87.5" fill="#8CCB37"/>
<rect x="1215.4" y="1409.0" width="30.7" height="87.5" fill="#B4D431"/>
<rect x="1245.6" y="1409.0" width="17.3" height="87.5" fill="#D2E530"/>
<rect x="1262.3" y="1409.0" width="34.1" height="87.5" fill="#EADB35"/>
<rect x="1295.8" y="1409.0" width="17.3" height="87.5" fill="#F0E020"/>
<rect x="1312.5" y="1409.0" width="57.5" height="87.5" fill="#EDDD37"/>
<rect x="1369.4" y="1409.0" width="37.4" height="87.5" fill="#E3C82B"/>
<rect x="1406.2" y="1409.0" width="97.7" height="87.5" fill="#F5B527"/>
<rect x="1503.3" y="1409.0" width="65.9" height="87.5" fill="#E2A818"/>
<rect x="1568.6" y="1409.0" width="29.1" height="87.5" fill="#FC9414"/>
<rect x="1597.0" y="1409.0" width="35.7" height="87.5" fill="#FF8D35"/>
<rect x="1632.2" y="1409.0" width="129.5" height="87.5" fill="#EE7C22"/>
<rect x="1761.1" y="1409.0" width="64.2" height="87.5" fill="#F85C12"/>
<rect x="1824.7" y="1409.0" width="96.0" height="87.5" fill="#F85032"/>
<rect x="1920.1" y="1409.0" width="144.5" height="87.5" fill="#E54024"/>
<rect x="2064.0" y="1409.0" width="112.7" height="87.5" fill="#FF3022"/>
<rect x="2176.2" y="1409.0" width="64.2" height="87.5" fill="#ED2012"/>
<rect x="2239.8" y="1409.0" width="24.0" height="87.5" fill="#EE1530"/>
<rect x="924.2" y="1409.0" width="1339.0" height="87.5" fill="none" stroke="#111" stroke-width="2.4"/>
<path d="M1091.6 1409.0v14M1091.6 1496.5v-14" stroke="#111" stroke-width="2.4"/>
<path d="M1259.0 1409.0v14M1259.0 1496.5v-14" stroke="#111" stroke-width="2.4"/>
<path d="M1426.3 1409.0v14M1426.3 1496.5v-14" stroke="#111" stroke-width="2.4"/>
<path d="M1593.7 1409.0v14M1593.7 1496.5v-14" stroke="#111" stroke-width="2.4"/>
<path d="M1761.1 1409.0v14M1761.1 1496.5v-14" stroke="#111" stroke-width="2.4"/>
<path d="M1928.4 1409.0v14M1928.4 1496.5v-14" stroke="#111" stroke-width="2.4"/>
<path d="M2095.8 1409.0v14M2095.8 1496.5v-14" stroke="#111" stroke-width="2.4"/>
<text x="924.2" y="1551.5" font-size="51.5" text-anchor="middle">0</text>
<text x="1091.6" y="1551.5" font-size="51.5" text-anchor="middle">500</text>
<text x="1259.0" y="1551.5" font-size="51.5" text-anchor="middle">1 000</text>
<text x="1426.3" y="1551.5" font-size="51.5" text-anchor="middle">1 500</text>
<text x="1590.9" y="1551.5" font-size="51.5" text-anchor="middle" word-spacing="3">2 000</text>
<text x="1758.3" y="1551.5" font-size="51.5" text-anchor="middle" word-spacing="3">2 500</text>
<text x="1925.6" y="1551.5" font-size="51.5" text-anchor="middle" word-spacing="3">3 000</text>
<text x="2093.0" y="1551.5" font-size="51.5" text-anchor="middle" word-spacing="3">3 500</text>
<text x="2260.4" y="1551.5" font-size="51.5" text-anchor="middle" word-spacing="3">4 000</text>
<text x="819" y="1453.5" font-size="51.5" font-weight="300" text-anchor="middle" font-family="'Liberation Serif','Noto Serif CJK SC',serif">电阻率/</text>
<text x="815.5" y="1511.5" font-size="51.5" text-anchor="middle">(Ω·m)</text>
</g>
</svg>
</body></html>
